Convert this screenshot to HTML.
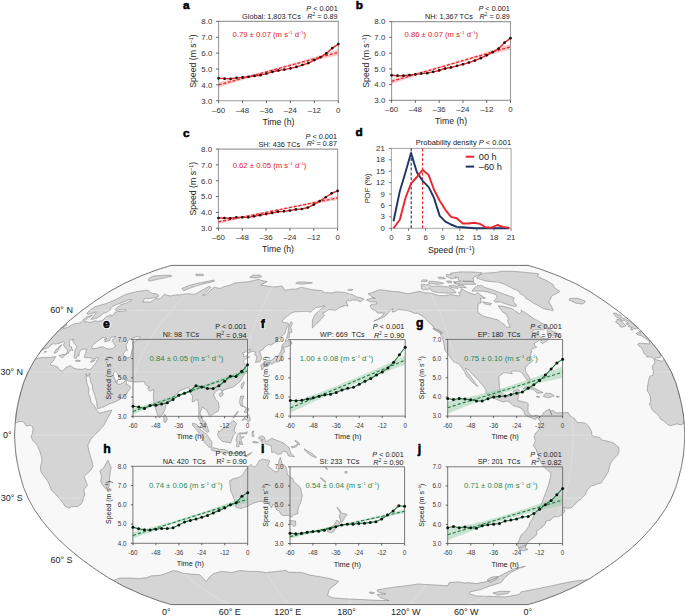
<!DOCTYPE html><html><head><meta charset="utf-8"><style>html,body{margin:0;padding:0;background:#fff}svg{display:block}</style></head><body><svg width="685" height="616" viewBox="0 0 685 616" font-family="'Liberation Sans', sans-serif">
<rect width="685" height="616" fill="#fff"/>
<defs><clipPath id="mc"><path d="M171.4,604.6 L170.0,604.2 L168.7,603.8 L167.3,603.4 L166.0,603.0 L164.7,602.6 L163.3,602.2 L162.0,601.8 L160.6,601.4 L159.3,601.0 L158.0,600.5 L156.3,599.9 L154.7,599.3 L153.0,598.7 L151.4,598.1 L149.7,597.4 L148.1,596.8 L146.4,596.2 L144.8,595.6 L143.1,594.9 L141.5,594.3 L139.8,593.5 L138.0,592.8 L136.3,592.0 L134.5,591.2 L132.8,590.4 L131.1,589.7 L129.3,588.9 L127.6,588.1 L125.8,587.3 L124.1,586.6 L122.6,585.7 L121.1,584.9 L119.5,584.0 L118.0,583.2 L116.5,582.3 L115.0,581.5 L113.5,580.6 L111.9,579.8 L110.4,578.9 L108.9,578.1 L107.5,577.2 L106.1,576.3 L104.8,575.4 L103.4,574.4 L102.0,573.5 L100.6,572.6 L99.3,571.7 L97.9,570.8 L96.5,569.9 L95.1,569.0 L93.8,568.1 L92.5,567.1 L91.2,566.2 L89.9,565.3 L88.6,564.3 L87.3,563.4 L86.0,562.4 L84.7,561.5 L83.4,560.5 L82.1,559.6 L80.9,558.6 L79.6,557.6 L78.4,556.7 L77.2,555.7 L76.0,554.7 L74.8,553.7 L73.6,552.7 L72.3,551.8 L71.1,550.8 L69.9,549.8 L68.8,548.8 L67.7,547.8 L66.6,546.8 L65.5,545.8 L64.4,544.8 L63.3,543.8 L62.2,542.8 L61.1,541.8 L60.0,540.8 L58.9,539.7 L57.9,538.7 L57.0,537.7 L56.0,536.7 L55.1,535.6 L54.1,534.6 L53.2,533.6 L52.2,532.6 L51.3,531.5 L50.3,530.5 L49.4,529.5 L48.5,528.4 L47.7,527.4 L46.8,526.4 L46.0,525.3 L45.1,524.3 L44.3,523.2 L43.4,522.2 L42.6,521.2 L41.7,520.1 L40.9,519.1 L40.2,518.0 L39.5,517.0 L38.8,515.9 L38.0,514.9 L37.3,513.8 L36.6,512.8 L35.9,511.8 L35.2,510.7 L34.5,509.7 L33.8,508.6 L33.2,507.6 L32.6,506.5 L32.1,505.5 L31.5,504.4 L30.9,503.3 L30.3,502.3 L29.7,501.2 L29.2,500.2 L28.6,499.1 L28.0,498.1 L27.6,497.0 L27.1,496.0 L26.7,494.9 L26.3,493.9 L25.8,492.8 L25.4,491.8 L25.0,490.7 L24.5,489.7 L24.1,488.6 L23.6,487.6 L23.3,486.5 L23.0,485.5 L22.7,484.4 L22.4,483.4 L22.1,482.3 L21.8,481.3 L21.5,480.2 L21.2,479.2 L20.9,478.1 L20.6,477.1 L20.3,476.0 L20.0,475.0 L19.8,473.9 L19.5,472.9 L19.3,471.8 L19.0,470.8 L18.7,469.7 L18.5,468.6 L18.2,467.6 L18.0,466.5 L17.8,465.5 L17.6,464.4 L17.4,463.4 L17.2,462.3 L17.0,461.3 L16.9,460.2 L16.7,459.2 L16.5,458.1 L16.3,457.1 L16.1,456.0 L16.0,455.0 L15.9,453.9 L15.8,452.9 L15.7,451.8 L15.6,450.8 L15.5,449.7 L15.4,448.7 L15.3,447.6 L15.2,446.6 L15.1,445.5 L15.0,444.5 L15.0,443.4 L14.9,442.4 L14.9,441.3 L14.8,440.3 L14.8,439.2 L14.7,438.2 L14.7,437.1 L14.6,436.1 L14.6,435.0 L14.6,433.9 L14.7,432.9 L14.7,431.8 L14.8,430.8 L14.8,429.7 L14.9,428.7 L14.9,427.6 L15.0,426.6 L15.0,425.5 L15.1,424.5 L15.2,423.4 L15.3,422.4 L15.4,421.3 L15.5,420.3 L15.6,419.2 L15.7,418.2 L15.8,417.1 L15.9,416.1 L16.0,415.0 L16.1,414.0 L16.3,412.9 L16.5,411.9 L16.7,410.8 L16.9,409.8 L17.0,408.7 L17.2,407.7 L17.4,406.6 L17.6,405.6 L17.8,404.5 L18.0,403.5 L18.2,402.4 L18.5,401.4 L18.7,400.3 L19.0,399.2 L19.3,398.2 L19.5,397.1 L19.8,396.1 L20.0,395.0 L20.3,394.0 L20.6,392.9 L20.9,391.9 L21.2,390.8 L21.5,389.8 L21.8,388.7 L22.1,387.7 L22.4,386.6 L22.7,385.6 L23.0,384.5 L23.3,383.5 L23.6,382.4 L24.1,381.4 L24.5,380.3 L25.0,379.3 L25.4,378.2 L25.8,377.2 L26.3,376.1 L26.7,375.1 L27.1,374.0 L27.6,373.0 L28.0,371.9 L28.6,370.9 L29.2,369.8 L29.7,368.8 L30.3,367.7 L30.9,366.7 L31.5,365.6 L32.1,364.5 L32.6,363.5 L33.2,362.4 L33.8,361.4 L34.5,360.3 L35.2,359.3 L35.9,358.2 L36.6,357.2 L37.3,356.2 L38.0,355.1 L38.8,354.1 L39.5,353.0 L40.2,352.0 L40.9,350.9 L41.7,349.9 L42.6,348.8 L43.4,347.8 L44.3,346.8 L45.1,345.7 L46.0,344.7 L46.8,343.6 L47.7,342.6 L48.5,341.6 L49.4,340.5 L50.3,339.5 L51.3,338.5 L52.2,337.4 L53.2,336.4 L54.1,335.4 L55.1,334.4 L56.0,333.3 L57.0,332.3 L57.9,331.3 L58.9,330.3 L60.0,329.2 L61.1,328.2 L62.2,327.2 L63.3,326.2 L64.4,325.2 L65.5,324.2 L66.6,323.2 L67.7,322.2 L68.8,321.2 L69.9,320.2 L71.1,319.2 L72.3,318.2 L73.6,317.3 L74.8,316.3 L76.0,315.3 L77.2,314.3 L78.4,313.3 L79.6,312.4 L80.9,311.4 L82.1,310.4 L83.4,309.5 L84.7,308.5 L86.0,307.6 L87.3,306.6 L88.6,305.7 L89.9,304.7 L91.2,303.8 L92.5,302.9 L93.8,301.9 L95.1,301.0 L96.5,300.1 L97.9,299.2 L99.3,298.3 L100.6,297.4 L102.0,296.5 L103.4,295.6 L104.8,294.6 L106.1,293.7 L107.5,292.8 L108.9,291.9 L110.4,291.1 L111.9,290.2 L113.5,289.4 L115.0,288.5 L116.5,287.7 L118.0,286.8 L119.5,286.0 L121.1,285.1 L122.6,284.3 L124.1,283.4 L125.8,282.7 L127.6,281.9 L129.3,281.1 L131.1,280.3 L132.8,279.6 L134.5,278.8 L136.3,278.0 L138.0,277.2 L139.8,276.5 L141.5,275.7 L143.1,275.1 L144.8,274.4 L146.4,273.8 L148.1,273.2 L149.7,272.6 L151.4,271.9 L153.0,271.3 L154.7,270.7 L156.3,270.1 L158.0,269.5 L159.3,269.0 L160.6,268.6 L162.0,268.2 L163.3,267.8 L164.7,267.4 L166.0,267.0 L167.3,266.6 L168.7,266.2 L170.0,265.8 L171.4,265.4 L528.0,265.4 L529.4,265.8 L530.7,266.2 L532.1,266.6 L533.4,267.0 L534.7,267.4 L536.1,267.8 L537.4,268.2 L538.8,268.6 L540.1,269.0 L541.4,269.5 L543.1,270.1 L544.7,270.7 L546.4,271.3 L548.0,271.9 L549.7,272.6 L551.3,273.2 L553.0,273.8 L554.6,274.4 L556.3,275.1 L557.9,275.7 L559.6,276.5 L561.4,277.2 L563.1,278.0 L564.9,278.8 L566.6,279.6 L568.3,280.3 L570.1,281.1 L571.8,281.9 L573.6,282.7 L575.3,283.4 L576.8,284.3 L578.3,285.1 L579.9,286.0 L581.4,286.8 L582.9,287.7 L584.4,288.5 L585.9,289.4 L587.5,290.2 L589.0,291.1 L590.5,291.9 L591.9,292.8 L593.3,293.7 L594.6,294.6 L596.0,295.6 L597.4,296.5 L598.8,297.4 L600.1,298.3 L601.5,299.2 L602.9,300.1 L604.3,301.0 L605.6,301.9 L606.9,302.9 L608.2,303.8 L609.5,304.7 L610.8,305.7 L612.1,306.6 L613.4,307.6 L614.7,308.5 L616.0,309.5 L617.3,310.4 L618.5,311.4 L619.8,312.4 L621.0,313.3 L622.2,314.3 L623.4,315.3 L624.6,316.3 L625.8,317.3 L627.1,318.2 L628.3,319.2 L629.5,320.2 L630.6,321.2 L631.7,322.2 L632.8,323.2 L633.9,324.2 L635.0,325.2 L636.1,326.2 L637.2,327.2 L638.3,328.2 L639.4,329.2 L640.5,330.3 L641.5,331.3 L642.4,332.3 L643.4,333.3 L644.3,334.4 L645.3,335.4 L646.2,336.4 L647.2,337.4 L648.1,338.5 L649.1,339.5 L650.0,340.5 L650.9,341.6 L651.7,342.6 L652.6,343.6 L653.4,344.7 L654.3,345.7 L655.1,346.8 L656.0,347.8 L656.8,348.8 L657.7,349.9 L658.5,350.9 L659.2,352.0 L659.9,353.0 L660.6,354.1 L661.4,355.1 L662.1,356.2 L662.8,357.2 L663.5,358.2 L664.2,359.3 L664.9,360.3 L665.6,361.4 L666.2,362.4 L666.8,363.5 L667.3,364.5 L667.9,365.6 L668.5,366.7 L669.1,367.7 L669.7,368.8 L670.2,369.8 L670.8,370.9 L671.4,371.9 L671.8,373.0 L672.3,374.0 L672.7,375.1 L673.1,376.1 L673.6,377.2 L674.0,378.2 L674.4,379.3 L674.9,380.3 L675.3,381.4 L675.8,382.4 L676.1,383.5 L676.4,384.5 L676.7,385.6 L677.0,386.6 L677.3,387.7 L677.6,388.7 L677.9,389.8 L678.2,390.8 L678.5,391.9 L678.8,392.9 L679.1,394.0 L679.4,395.0 L679.6,396.1 L679.9,397.1 L680.1,398.2 L680.4,399.2 L680.7,400.3 L680.9,401.4 L681.2,402.4 L681.4,403.5 L681.6,404.5 L681.8,405.6 L682.0,406.6 L682.2,407.7 L682.4,408.7 L682.5,409.8 L682.7,410.8 L682.9,411.9 L683.1,412.9 L683.3,414.0 L683.4,415.0 L683.5,416.1 L683.6,417.1 L683.7,418.2 L683.8,419.2 L683.9,420.3 L684.0,421.3 L684.1,422.4 L684.2,423.4 L684.3,424.5 L684.4,425.5 L684.4,426.6 L684.5,427.6 L684.5,428.7 L684.6,429.7 L684.6,430.8 L684.7,431.8 L684.7,432.9 L684.8,433.9 L684.8,435.0 L684.8,436.1 L684.7,437.1 L684.7,438.2 L684.6,439.2 L684.6,440.3 L684.5,441.3 L684.5,442.4 L684.4,443.4 L684.4,444.5 L684.3,445.5 L684.2,446.6 L684.1,447.6 L684.0,448.7 L683.9,449.7 L683.8,450.8 L683.7,451.8 L683.6,452.9 L683.5,453.9 L683.4,455.0 L683.3,456.0 L683.1,457.1 L682.9,458.1 L682.7,459.2 L682.5,460.2 L682.4,461.3 L682.2,462.3 L682.0,463.4 L681.8,464.4 L681.6,465.5 L681.4,466.5 L681.2,467.6 L680.9,468.6 L680.7,469.7 L680.4,470.8 L680.1,471.8 L679.9,472.9 L679.6,473.9 L679.4,475.0 L679.1,476.0 L678.8,477.1 L678.5,478.1 L678.2,479.2 L677.9,480.2 L677.6,481.3 L677.3,482.3 L677.0,483.4 L676.7,484.4 L676.4,485.5 L676.1,486.5 L675.8,487.6 L675.3,488.6 L674.9,489.7 L674.4,490.7 L674.0,491.8 L673.6,492.8 L673.1,493.9 L672.7,494.9 L672.3,496.0 L671.8,497.0 L671.4,498.1 L670.8,499.1 L670.2,500.2 L669.7,501.2 L669.1,502.3 L668.5,503.3 L667.9,504.4 L667.3,505.5 L666.8,506.5 L666.2,507.6 L665.6,508.6 L664.9,509.7 L664.2,510.7 L663.5,511.8 L662.8,512.8 L662.1,513.8 L661.4,514.9 L660.6,515.9 L659.9,517.0 L659.2,518.0 L658.5,519.1 L657.7,520.1 L656.8,521.2 L656.0,522.2 L655.1,523.2 L654.3,524.3 L653.4,525.3 L652.6,526.4 L651.7,527.4 L650.9,528.4 L650.0,529.5 L649.1,530.5 L648.1,531.5 L647.2,532.6 L646.2,533.6 L645.3,534.6 L644.3,535.6 L643.4,536.7 L642.4,537.7 L641.5,538.7 L640.5,539.7 L639.4,540.8 L638.3,541.8 L637.2,542.8 L636.1,543.8 L635.0,544.8 L633.9,545.8 L632.8,546.8 L631.7,547.8 L630.6,548.8 L629.5,549.8 L628.3,550.8 L627.1,551.8 L625.8,552.7 L624.6,553.7 L623.4,554.7 L622.2,555.7 L621.0,556.7 L619.8,557.6 L618.5,558.6 L617.3,559.6 L616.0,560.5 L614.7,561.5 L613.4,562.4 L612.1,563.4 L610.8,564.3 L609.5,565.3 L608.2,566.2 L606.9,567.1 L605.6,568.1 L604.3,569.0 L602.9,569.9 L601.5,570.8 L600.1,571.7 L598.8,572.6 L597.4,573.5 L596.0,574.4 L594.6,575.4 L593.3,576.3 L591.9,577.2 L590.5,578.1 L589.0,578.9 L587.5,579.8 L585.9,580.6 L584.4,581.5 L582.9,582.3 L581.4,583.2 L579.9,584.0 L578.3,584.9 L576.8,585.7 L575.3,586.6 L573.6,587.3 L571.8,588.1 L570.1,588.9 L568.3,589.7 L566.6,590.4 L564.9,591.2 L563.1,592.0 L561.4,592.8 L559.6,593.5 L557.9,594.3 L556.3,594.9 L554.6,595.6 L553.0,596.2 L551.3,596.8 L549.7,597.4 L548.0,598.1 L546.4,598.7 L544.7,599.3 L543.1,599.9 L541.4,600.5 L540.1,601.0 L538.8,601.4 L537.4,601.8 L536.1,602.2 L534.7,602.6 L533.4,603.0 L532.1,603.4 L530.7,603.8 L529.4,604.2 L528.0,604.6Z"/></clipPath></defs>
<path d="M171.4,604.6 L170.0,604.2 L168.7,603.8 L167.3,603.4 L166.0,603.0 L164.7,602.6 L163.3,602.2 L162.0,601.8 L160.6,601.4 L159.3,601.0 L158.0,600.5 L156.3,599.9 L154.7,599.3 L153.0,598.7 L151.4,598.1 L149.7,597.4 L148.1,596.8 L146.4,596.2 L144.8,595.6 L143.1,594.9 L141.5,594.3 L139.8,593.5 L138.0,592.8 L136.3,592.0 L134.5,591.2 L132.8,590.4 L131.1,589.7 L129.3,588.9 L127.6,588.1 L125.8,587.3 L124.1,586.6 L122.6,585.7 L121.1,584.9 L119.5,584.0 L118.0,583.2 L116.5,582.3 L115.0,581.5 L113.5,580.6 L111.9,579.8 L110.4,578.9 L108.9,578.1 L107.5,577.2 L106.1,576.3 L104.8,575.4 L103.4,574.4 L102.0,573.5 L100.6,572.6 L99.3,571.7 L97.9,570.8 L96.5,569.9 L95.1,569.0 L93.8,568.1 L92.5,567.1 L91.2,566.2 L89.9,565.3 L88.6,564.3 L87.3,563.4 L86.0,562.4 L84.7,561.5 L83.4,560.5 L82.1,559.6 L80.9,558.6 L79.6,557.6 L78.4,556.7 L77.2,555.7 L76.0,554.7 L74.8,553.7 L73.6,552.7 L72.3,551.8 L71.1,550.8 L69.9,549.8 L68.8,548.8 L67.7,547.8 L66.6,546.8 L65.5,545.8 L64.4,544.8 L63.3,543.8 L62.2,542.8 L61.1,541.8 L60.0,540.8 L58.9,539.7 L57.9,538.7 L57.0,537.7 L56.0,536.7 L55.1,535.6 L54.1,534.6 L53.2,533.6 L52.2,532.6 L51.3,531.5 L50.3,530.5 L49.4,529.5 L48.5,528.4 L47.7,527.4 L46.8,526.4 L46.0,525.3 L45.1,524.3 L44.3,523.2 L43.4,522.2 L42.6,521.2 L41.7,520.1 L40.9,519.1 L40.2,518.0 L39.5,517.0 L38.8,515.9 L38.0,514.9 L37.3,513.8 L36.6,512.8 L35.9,511.8 L35.2,510.7 L34.5,509.7 L33.8,508.6 L33.2,507.6 L32.6,506.5 L32.1,505.5 L31.5,504.4 L30.9,503.3 L30.3,502.3 L29.7,501.2 L29.2,500.2 L28.6,499.1 L28.0,498.1 L27.6,497.0 L27.1,496.0 L26.7,494.9 L26.3,493.9 L25.8,492.8 L25.4,491.8 L25.0,490.7 L24.5,489.7 L24.1,488.6 L23.6,487.6 L23.3,486.5 L23.0,485.5 L22.7,484.4 L22.4,483.4 L22.1,482.3 L21.8,481.3 L21.5,480.2 L21.2,479.2 L20.9,478.1 L20.6,477.1 L20.3,476.0 L20.0,475.0 L19.8,473.9 L19.5,472.9 L19.3,471.8 L19.0,470.8 L18.7,469.7 L18.5,468.6 L18.2,467.6 L18.0,466.5 L17.8,465.5 L17.6,464.4 L17.4,463.4 L17.2,462.3 L17.0,461.3 L16.9,460.2 L16.7,459.2 L16.5,458.1 L16.3,457.1 L16.1,456.0 L16.0,455.0 L15.9,453.9 L15.8,452.9 L15.7,451.8 L15.6,450.8 L15.5,449.7 L15.4,448.7 L15.3,447.6 L15.2,446.6 L15.1,445.5 L15.0,444.5 L15.0,443.4 L14.9,442.4 L14.9,441.3 L14.8,440.3 L14.8,439.2 L14.7,438.2 L14.7,437.1 L14.6,436.1 L14.6,435.0 L14.6,433.9 L14.7,432.9 L14.7,431.8 L14.8,430.8 L14.8,429.7 L14.9,428.7 L14.9,427.6 L15.0,426.6 L15.0,425.5 L15.1,424.5 L15.2,423.4 L15.3,422.4 L15.4,421.3 L15.5,420.3 L15.6,419.2 L15.7,418.2 L15.8,417.1 L15.9,416.1 L16.0,415.0 L16.1,414.0 L16.3,412.9 L16.5,411.9 L16.7,410.8 L16.9,409.8 L17.0,408.7 L17.2,407.7 L17.4,406.6 L17.6,405.6 L17.8,404.5 L18.0,403.5 L18.2,402.4 L18.5,401.4 L18.7,400.3 L19.0,399.2 L19.3,398.2 L19.5,397.1 L19.8,396.1 L20.0,395.0 L20.3,394.0 L20.6,392.9 L20.9,391.9 L21.2,390.8 L21.5,389.8 L21.8,388.7 L22.1,387.7 L22.4,386.6 L22.7,385.6 L23.0,384.5 L23.3,383.5 L23.6,382.4 L24.1,381.4 L24.5,380.3 L25.0,379.3 L25.4,378.2 L25.8,377.2 L26.3,376.1 L26.7,375.1 L27.1,374.0 L27.6,373.0 L28.0,371.9 L28.6,370.9 L29.2,369.8 L29.7,368.8 L30.3,367.7 L30.9,366.7 L31.5,365.6 L32.1,364.5 L32.6,363.5 L33.2,362.4 L33.8,361.4 L34.5,360.3 L35.2,359.3 L35.9,358.2 L36.6,357.2 L37.3,356.2 L38.0,355.1 L38.8,354.1 L39.5,353.0 L40.2,352.0 L40.9,350.9 L41.7,349.9 L42.6,348.8 L43.4,347.8 L44.3,346.8 L45.1,345.7 L46.0,344.7 L46.8,343.6 L47.7,342.6 L48.5,341.6 L49.4,340.5 L50.3,339.5 L51.3,338.5 L52.2,337.4 L53.2,336.4 L54.1,335.4 L55.1,334.4 L56.0,333.3 L57.0,332.3 L57.9,331.3 L58.9,330.3 L60.0,329.2 L61.1,328.2 L62.2,327.2 L63.3,326.2 L64.4,325.2 L65.5,324.2 L66.6,323.2 L67.7,322.2 L68.8,321.2 L69.9,320.2 L71.1,319.2 L72.3,318.2 L73.6,317.3 L74.8,316.3 L76.0,315.3 L77.2,314.3 L78.4,313.3 L79.6,312.4 L80.9,311.4 L82.1,310.4 L83.4,309.5 L84.7,308.5 L86.0,307.6 L87.3,306.6 L88.6,305.7 L89.9,304.7 L91.2,303.8 L92.5,302.9 L93.8,301.9 L95.1,301.0 L96.5,300.1 L97.9,299.2 L99.3,298.3 L100.6,297.4 L102.0,296.5 L103.4,295.6 L104.8,294.6 L106.1,293.7 L107.5,292.8 L108.9,291.9 L110.4,291.1 L111.9,290.2 L113.5,289.4 L115.0,288.5 L116.5,287.7 L118.0,286.8 L119.5,286.0 L121.1,285.1 L122.6,284.3 L124.1,283.4 L125.8,282.7 L127.6,281.9 L129.3,281.1 L131.1,280.3 L132.8,279.6 L134.5,278.8 L136.3,278.0 L138.0,277.2 L139.8,276.5 L141.5,275.7 L143.1,275.1 L144.8,274.4 L146.4,273.8 L148.1,273.2 L149.7,272.6 L151.4,271.9 L153.0,271.3 L154.7,270.7 L156.3,270.1 L158.0,269.5 L159.3,269.0 L160.6,268.6 L162.0,268.2 L163.3,267.8 L164.7,267.4 L166.0,267.0 L167.3,266.6 L168.7,266.2 L170.0,265.8 L171.4,265.4 L528.0,265.4 L529.4,265.8 L530.7,266.2 L532.1,266.6 L533.4,267.0 L534.7,267.4 L536.1,267.8 L537.4,268.2 L538.8,268.6 L540.1,269.0 L541.4,269.5 L543.1,270.1 L544.7,270.7 L546.4,271.3 L548.0,271.9 L549.7,272.6 L551.3,273.2 L553.0,273.8 L554.6,274.4 L556.3,275.1 L557.9,275.7 L559.6,276.5 L561.4,277.2 L563.1,278.0 L564.9,278.8 L566.6,279.6 L568.3,280.3 L570.1,281.1 L571.8,281.9 L573.6,282.7 L575.3,283.4 L576.8,284.3 L578.3,285.1 L579.9,286.0 L581.4,286.8 L582.9,287.7 L584.4,288.5 L585.9,289.4 L587.5,290.2 L589.0,291.1 L590.5,291.9 L591.9,292.8 L593.3,293.7 L594.6,294.6 L596.0,295.6 L597.4,296.5 L598.8,297.4 L600.1,298.3 L601.5,299.2 L602.9,300.1 L604.3,301.0 L605.6,301.9 L606.9,302.9 L608.2,303.8 L609.5,304.7 L610.8,305.7 L612.1,306.6 L613.4,307.6 L614.7,308.5 L616.0,309.5 L617.3,310.4 L618.5,311.4 L619.8,312.4 L621.0,313.3 L622.2,314.3 L623.4,315.3 L624.6,316.3 L625.8,317.3 L627.1,318.2 L628.3,319.2 L629.5,320.2 L630.6,321.2 L631.7,322.2 L632.8,323.2 L633.9,324.2 L635.0,325.2 L636.1,326.2 L637.2,327.2 L638.3,328.2 L639.4,329.2 L640.5,330.3 L641.5,331.3 L642.4,332.3 L643.4,333.3 L644.3,334.4 L645.3,335.4 L646.2,336.4 L647.2,337.4 L648.1,338.5 L649.1,339.5 L650.0,340.5 L650.9,341.6 L651.7,342.6 L652.6,343.6 L653.4,344.7 L654.3,345.7 L655.1,346.8 L656.0,347.8 L656.8,348.8 L657.7,349.9 L658.5,350.9 L659.2,352.0 L659.9,353.0 L660.6,354.1 L661.4,355.1 L662.1,356.2 L662.8,357.2 L663.5,358.2 L664.2,359.3 L664.9,360.3 L665.6,361.4 L666.2,362.4 L666.8,363.5 L667.3,364.5 L667.9,365.6 L668.5,366.7 L669.1,367.7 L669.7,368.8 L670.2,369.8 L670.8,370.9 L671.4,371.9 L671.8,373.0 L672.3,374.0 L672.7,375.1 L673.1,376.1 L673.6,377.2 L674.0,378.2 L674.4,379.3 L674.9,380.3 L675.3,381.4 L675.8,382.4 L676.1,383.5 L676.4,384.5 L676.7,385.6 L677.0,386.6 L677.3,387.7 L677.6,388.7 L677.9,389.8 L678.2,390.8 L678.5,391.9 L678.8,392.9 L679.1,394.0 L679.4,395.0 L679.6,396.1 L679.9,397.1 L680.1,398.2 L680.4,399.2 L680.7,400.3 L680.9,401.4 L681.2,402.4 L681.4,403.5 L681.6,404.5 L681.8,405.6 L682.0,406.6 L682.2,407.7 L682.4,408.7 L682.5,409.8 L682.7,410.8 L682.9,411.9 L683.1,412.9 L683.3,414.0 L683.4,415.0 L683.5,416.1 L683.6,417.1 L683.7,418.2 L683.8,419.2 L683.9,420.3 L684.0,421.3 L684.1,422.4 L684.2,423.4 L684.3,424.5 L684.4,425.5 L684.4,426.6 L684.5,427.6 L684.5,428.7 L684.6,429.7 L684.6,430.8 L684.7,431.8 L684.7,432.9 L684.8,433.9 L684.8,435.0 L684.8,436.1 L684.7,437.1 L684.7,438.2 L684.6,439.2 L684.6,440.3 L684.5,441.3 L684.5,442.4 L684.4,443.4 L684.4,444.5 L684.3,445.5 L684.2,446.6 L684.1,447.6 L684.0,448.7 L683.9,449.7 L683.8,450.8 L683.7,451.8 L683.6,452.9 L683.5,453.9 L683.4,455.0 L683.3,456.0 L683.1,457.1 L682.9,458.1 L682.7,459.2 L682.5,460.2 L682.4,461.3 L682.2,462.3 L682.0,463.4 L681.8,464.4 L681.6,465.5 L681.4,466.5 L681.2,467.6 L680.9,468.6 L680.7,469.7 L680.4,470.8 L680.1,471.8 L679.9,472.9 L679.6,473.9 L679.4,475.0 L679.1,476.0 L678.8,477.1 L678.5,478.1 L678.2,479.2 L677.9,480.2 L677.6,481.3 L677.3,482.3 L677.0,483.4 L676.7,484.4 L676.4,485.5 L676.1,486.5 L675.8,487.6 L675.3,488.6 L674.9,489.7 L674.4,490.7 L674.0,491.8 L673.6,492.8 L673.1,493.9 L672.7,494.9 L672.3,496.0 L671.8,497.0 L671.4,498.1 L670.8,499.1 L670.2,500.2 L669.7,501.2 L669.1,502.3 L668.5,503.3 L667.9,504.4 L667.3,505.5 L666.8,506.5 L666.2,507.6 L665.6,508.6 L664.9,509.7 L664.2,510.7 L663.5,511.8 L662.8,512.8 L662.1,513.8 L661.4,514.9 L660.6,515.9 L659.9,517.0 L659.2,518.0 L658.5,519.1 L657.7,520.1 L656.8,521.2 L656.0,522.2 L655.1,523.2 L654.3,524.3 L653.4,525.3 L652.6,526.4 L651.7,527.4 L650.9,528.4 L650.0,529.5 L649.1,530.5 L648.1,531.5 L647.2,532.6 L646.2,533.6 L645.3,534.6 L644.3,535.6 L643.4,536.7 L642.4,537.7 L641.5,538.7 L640.5,539.7 L639.4,540.8 L638.3,541.8 L637.2,542.8 L636.1,543.8 L635.0,544.8 L633.9,545.8 L632.8,546.8 L631.7,547.8 L630.6,548.8 L629.5,549.8 L628.3,550.8 L627.1,551.8 L625.8,552.7 L624.6,553.7 L623.4,554.7 L622.2,555.7 L621.0,556.7 L619.8,557.6 L618.5,558.6 L617.3,559.6 L616.0,560.5 L614.7,561.5 L613.4,562.4 L612.1,563.4 L610.8,564.3 L609.5,565.3 L608.2,566.2 L606.9,567.1 L605.6,568.1 L604.3,569.0 L602.9,569.9 L601.5,570.8 L600.1,571.7 L598.8,572.6 L597.4,573.5 L596.0,574.4 L594.6,575.4 L593.3,576.3 L591.9,577.2 L590.5,578.1 L589.0,578.9 L587.5,579.8 L585.9,580.6 L584.4,581.5 L582.9,582.3 L581.4,583.2 L579.9,584.0 L578.3,584.9 L576.8,585.7 L575.3,586.6 L573.6,587.3 L571.8,588.1 L570.1,588.9 L568.3,589.7 L566.6,590.4 L564.9,591.2 L563.1,592.0 L561.4,592.8 L559.6,593.5 L557.9,594.3 L556.3,594.9 L554.6,595.6 L553.0,596.2 L551.3,596.8 L549.7,597.4 L548.0,598.1 L546.4,598.7 L544.7,599.3 L543.1,599.9 L541.4,600.5 L540.1,601.0 L538.8,601.4 L537.4,601.8 L536.1,602.2 L534.7,602.6 L533.4,603.0 L532.1,603.4 L530.7,603.8 L529.4,604.2 L528.0,604.6Z" fill="#f8f8f8"/>
<g clip-path="url(#mc)"><path d="M109.5,478.1 L109.4,480.0 L109.4,481.8 L109.3,483.6 L109.2,485.5 L109.0,486.6 L108.8,487.8 L107.4,488.3 L105.9,488.8 L104.6,487.4 L103.3,485.9 L102.1,484.4 L101.4,482.8 L100.7,481.3 L101.0,479.7 L101.3,478.2 L101.7,476.6 L101.1,474.7 L100.4,472.7 L99.8,470.8 L101.1,469.9 L102.3,469.1 L103.6,468.2 L104.3,466.7 L105.1,465.1 L105.9,463.6 L106.9,461.9 L108.0,460.2 L108.8,462.1 L109.6,463.9 L110.4,465.8 L111.2,467.6 L110.9,469.2 L110.5,470.8 L110.2,472.6 L110.0,474.4 L109.7,476.3Z M236.5,452.5 L238.4,452.4 L240.2,452.4 L242.1,452.3 L244.0,452.2 L244.0,453.5 L242.1,453.5 L240.3,453.5 L238.4,453.5 L236.6,453.5 L234.7,453.5 L232.9,453.5 L231.0,453.5 L229.2,453.5 L229.1,452.2 L230.5,452.2 L231.9,452.2 L233.4,452.3 L235.0,452.4Z M228.1,451.2 L228.0,453.3 L226.4,453.0 L224.9,452.8 L223.3,452.5 L221.7,452.2 L219.8,452.0 L218.0,451.7 L216.1,451.4 L214.2,451.0 L212.3,450.6 L210.8,449.3 L212.0,448.5 L213.1,447.6 L215.0,448.1 L216.9,448.7 L218.8,449.1 L220.7,449.5 L222.0,449.5 L223.3,449.5 L224.6,449.5 L226.3,450.4Z M236.3,446.6 L236.7,444.5 L237.2,442.4 L235.9,440.7 L236.3,439.0 L236.7,437.3 L237.2,435.6 L237.6,433.9 L239.0,432.9 L240.5,432.9 L242.1,432.9 L243.6,432.9 L245.5,432.4 L247.4,431.8 L246.4,433.9 L244.8,433.9 L243.1,433.9 L241.5,433.9 L239.9,433.9 L240.3,435.5 L240.8,437.1 L242.5,437.0 L244.2,436.9 L242.5,437.8 L240.8,438.8 L241.5,440.7 L242.1,442.6 L242.8,444.5 L241.7,444.5 L240.6,444.5 L240.1,442.9 L239.6,441.3 L239.4,443.1 L239.1,445.0 L238.9,446.8 L237.6,446.7Z M207.3,435.0 L208.2,436.6 L209.2,438.2 L210.6,440.3 L212.1,442.4 L212.0,444.0 L211.9,445.6 L211.8,447.2 L210.6,447.3 L209.4,447.4 L208.0,446.1 L206.6,444.7 L205.2,443.4 L204.1,441.3 L202.9,439.2 L201.7,437.1 L200.5,435.2 L199.2,433.3 L198.0,431.4 L196.2,429.5 L194.4,427.5 L192.6,425.5 L192.4,424.4 L192.3,423.2 L193.6,423.5 L195.0,423.8 L196.3,424.1 L198.0,426.2 L199.7,428.3 L201.4,430.4 L202.9,431.5 L204.3,432.7 L205.8,433.8Z M219.4,438.2 L218.5,436.6 L217.5,435.0 L218.1,432.9 L218.7,430.8 L219.4,431.4 L220.9,430.3 L222.3,429.1 L223.8,427.9 L225.4,426.7 L227.0,425.5 L228.9,424.5 L230.8,422.4 L232.2,421.5 L233.6,420.7 L235.3,422.3 L236.9,423.9 L235.4,425.5 L234.9,427.3 L234.4,429.0 L234.0,430.8 L235.8,432.9 L234.6,433.9 L233.3,435.0 L232.8,436.8 L232.2,438.5 L231.6,440.3 L231.1,441.6 L230.7,443.0 L229.3,442.7 L227.9,442.4 L226.0,442.0 L224.1,441.7 L222.3,441.3 L220.9,439.7Z M163.9,422.2 L163.9,420.2 L163.8,418.2 L164.0,416.4 L164.2,414.6 L164.9,414.4 L165.8,416.0 L166.6,417.6 L167.4,419.2 L166.6,420.7 L165.8,422.2Z M233.7,418.2 L233.2,417.5 L234.3,415.9 L235.4,414.3 L236.6,412.7 L237.8,411.0 L238.3,412.1 L236.7,414.1 L235.2,416.1Z M245.7,408.1 L244.6,407.3 L243.6,406.6 L242.2,406.3 L240.8,406.0 L240.2,404.5 L239.7,402.9 L239.3,401.4 L239.7,399.6 L240.2,397.8 L240.6,396.1 L242.2,396.1 L243.8,396.1 L243.2,397.8 L242.6,399.6 L242.1,401.4 L242.3,403.5 L242.7,405.6 L244.5,406.6 L246.3,407.7Z M223.5,393.6 L222.4,395.7 L220.4,396.7 L219.0,394.6 L220.2,393.1 L221.2,392.9 L222.3,392.7Z M54.7,365.8 L55.7,366.2 L56.8,366.7 L57.8,367.1 L58.6,368.4 L59.4,369.8 L60.9,370.5 L62.3,371.3 L64.1,369.4 L65.9,367.5 L67.7,366.7 L69.4,365.8 L70.6,366.1 L71.7,366.4 L73.0,367.5 L74.3,368.5 L75.7,368.8 L77.0,369.0 L78.4,369.2 L79.8,369.2 L81.2,369.3 L82.6,369.4 L83.8,369.0 L84.9,368.5 L86.0,368.9 L87.0,369.2 L86.9,369.4 L88.2,369.5 L89.4,369.6 L91.1,368.8 L92.1,367.4 L93.2,366.0 L94.1,364.9 L95.1,363.7 L96.5,361.6 L97.6,359.5 L99.1,358.0 L97.9,357.8 L96.8,357.6 L95.0,358.7 L93.5,358.9 L92.1,359.1 L90.9,358.4 L89.6,357.6 L88.4,357.7 L87.1,357.8 L85.8,357.8 L85.0,357.5 L84.1,357.2 L84.6,355.7 L85.1,354.3 L86.1,352.2 L86.0,350.7 L86.6,349.2 L85.4,349.1 L84.2,349.0 L82.6,349.4 L81.1,349.7 L80.0,351.3 L79.1,353.0 L79.2,354.4 L79.2,355.7 L78.1,355.9 L76.9,356.2 L76.4,358.2 L75.0,358.5 L74.1,357.6 L74.3,355.5 L74.9,353.4 L74.8,351.5 L75.1,350.4 L75.5,349.2 L76.3,348.1 L77.0,347.0 L76.5,346.2 L75.9,345.5 L75.2,344.6 L74.4,343.6 L74.0,342.9 L73.5,342.2 L73.0,341.5 L72.6,340.7 L73.5,339.1 L72.0,339.5 L70.4,339.9 L69.1,341.6 L69.5,342.5 L69.9,343.4 L69.5,344.7 L69.2,345.9 L70.4,346.4 L71.6,347.0 L71.6,348.6 L72.1,349.1 L72.7,349.7 L72.8,350.7 L72.0,350.3 L71.2,349.9 L68.8,351.8 L68.9,353.0 L67.8,353.4 L65.5,354.7 L66.6,352.8 L67.6,350.9 L67.1,350.1 L66.5,349.2 L65.6,348.2 L64.7,347.2 L64.1,346.0 L63.5,344.9 L64.6,342.8 L63.9,342.3 L63.3,341.8 L61.4,342.5 L59.4,343.2 L57.5,343.6 L55.6,344.1 L54.6,344.1 L53.6,343.6 L51.0,344.7 L49.7,346.8 L47.0,348.0 L45.4,348.6 L43.8,349.2 L40.6,351.3 L42.2,349.2 L43.9,347.2 L45.6,345.1 L47.3,343.1 L48.9,341.1 L50.8,339.0 L52.6,337.0 L54.5,335.0 L56.4,333.0 L58.2,331.0 L58.6,330.9 L60.2,330.4 L61.9,329.9 L63.4,328.4 L65.3,328.0 L67.4,327.4 L70.0,326.2 L72.8,324.4 L74.3,323.9 L75.8,323.4 L77.4,323.4 L79.4,323.0 L81.4,322.4 L83.1,320.4 L83.6,319.2 L85.2,317.9 L86.7,316.7 L88.1,316.4 L89.5,316.1 L91.0,315.5 L92.6,314.9 L90.4,316.5 L88.3,318.0 L86.6,319.3 L84.9,320.6 L84.6,321.0 L84.8,322.2 L86.0,322.0 L87.2,321.8 L88.5,322.1 L89.7,322.4 L91.7,321.9 L93.7,321.3 L95.7,320.8 L96.7,321.1 L97.6,321.4 L98.7,321.3 L99.8,321.2 L101.3,320.7 L102.8,320.2 L104.0,318.8 L105.2,317.8 L106.4,316.7 L108.7,315.7 L110.9,314.8 L111.2,315.5 L111.4,316.3 L113.8,314.3 L114.5,312.8 L117.2,311.6 L118.6,311.5 L120.0,311.5 L121.3,311.4 L122.7,311.4 L124.7,310.9 L126.7,310.4 L126.1,309.9 L125.6,309.5 L124.1,309.6 L122.6,309.8 L121.2,309.9 L119.7,310.0 L118.4,310.2 L117.2,310.4 L115.9,310.6 L115.6,310.0 L115.2,309.5 L117.2,307.6 L119.1,306.2 L120.9,304.7 L122.9,304.1 L124.9,303.5 L126.8,302.9 L128.9,301.9 L131.0,301.0 L131.7,299.5 L130.4,299.6 L129.2,299.8 L128.0,299.9 L125.8,300.9 L123.7,301.9 L121.1,302.9 L118.5,303.8 L116.3,304.7 L114.0,305.7 L112.1,307.1 L110.2,308.5 L110.5,309.0 L110.8,309.5 L109.2,310.6 L107.6,311.8 L105.6,312.6 L103.6,313.3 L101.1,315.3 L99.3,316.6 L97.4,317.8 L95.5,318.4 L93.5,319.0 L92.2,319.2 L90.9,319.4 L91.8,318.3 L92.7,317.3 L93.9,315.8 L95.1,314.3 L96.2,312.6 L96.1,311.8 L93.4,312.8 L90.8,313.7 L89.3,314.0 L87.8,314.3 L86.8,313.9 L87.6,312.4 L89.2,310.9 L90.8,309.5 L93.1,308.1 L95.3,306.6 L97.4,306.1 L99.4,305.5 L101.5,304.9 L103.5,304.4 L105.6,303.8 L107.9,302.9 L110.2,301.9 L112.5,301.0 L116.3,299.2 L120.0,297.4 L123.3,295.7 L126.6,294.1 L128.4,293.7 L130.2,293.2 L132.1,292.8 L133.9,292.4 L135.7,291.9 L137.4,291.6 L139.2,291.3 L141.0,291.0 L142.8,290.7 L144.5,290.4 L146.3,290.1 L147.0,290.2 L147.7,290.4 L148.4,290.6 L149.0,291.1 L149.5,291.6 L150.1,292.1 L150.8,292.7 L151.5,293.2 L152.6,293.4 L153.7,293.6 L154.9,293.7 L156.0,293.9 L157.1,294.1 L157.8,294.7 L158.4,295.3 L159.1,295.9 L157.8,297.0 L156.1,297.3 L154.3,297.6 L152.6,297.9 L150.8,298.2 L149.1,298.5 L147.3,298.8 L146.2,298.5 L145.2,298.3 L144.3,299.5 L143.4,300.8 L142.7,302.1 L144.2,302.0 L145.7,301.9 L147.0,301.9 L148.2,301.9 L149.4,301.9 L150.7,301.9 L153.3,300.2 L155.9,298.6 L157.2,298.7 L158.5,298.7 L159.9,298.8 L161.3,297.4 L162.7,295.9 L164.2,294.5 L165.1,294.7 L166.1,294.9 L167.1,295.2 L168.1,295.4 L169.1,295.7 L170.0,295.9 L171.6,295.7 L173.1,295.4 L174.6,295.2 L176.1,294.9 L177.6,294.6 L177.7,295.2 L179.1,295.0 L180.6,294.8 L182.0,294.5 L183.5,294.3 L184.9,294.1 L186.1,293.9 L187.3,293.7 L188.6,293.8 L189.9,293.9 L191.1,294.0 L192.4,294.1 L193.7,294.2 L194.9,294.3 L196.1,293.7 L198.4,292.4 L200.8,291.1 L203.4,289.6 L206.0,288.0 L208.5,286.5 L209.3,286.7 L210.1,287.0 L211.0,287.2 L209.5,288.8 L208.0,290.4 L206.6,291.9 L204.6,293.7 L202.6,295.6 L204.4,295.1 L206.1,294.6 L207.7,293.1 L209.2,291.6 L210.9,290.1 L212.5,288.6 L214.2,287.2 L215.3,287.4 L216.3,287.6 L217.4,287.9 L218.2,288.1 L219.1,288.3 L220.0,288.5 L221.8,287.7 L223.6,286.8 L225.3,286.4 L227.0,286.0 L228.6,285.6 L230.3,285.1 L232.5,284.1 L234.8,283.1 L236.2,282.9 L237.7,282.8 L239.1,282.6 L240.6,282.4 L242.0,282.2 L243.3,282.1 L244.7,282.0 L246.0,282.0 L247.3,281.9 L248.8,281.6 L250.3,281.4 L251.8,281.1 L253.2,280.7 L254.6,280.4 L256.0,280.0 L257.4,279.6 L258.8,279.3 L259.5,279.6 L260.3,280.0 L261.0,280.3 L262.1,280.5 L263.1,280.8 L264.1,281.0 L265.2,281.2 L266.2,281.4 L267.3,281.6 L265.1,282.7 L262.9,283.9 L260.8,285.1 L261.8,285.3 L262.8,285.4 L263.9,285.5 L264.9,285.7 L266.0,285.8 L267.0,286.0 L268.1,286.2 L269.1,286.3 L270.2,286.5 L271.3,286.7 L272.6,286.7 L273.8,286.8 L275.1,286.8 L276.3,286.8 L277.7,286.6 L279.1,286.4 L280.5,286.2 L281.9,286.0 L282.8,286.8 L283.6,287.7 L284.2,289.1 L284.9,290.4 L286.4,290.1 L287.8,289.8 L289.3,289.5 L290.7,289.2 L292.0,289.2 L293.3,289.2 L294.6,289.2 L296.0,289.2 L297.5,288.6 L299.1,288.0 L300.6,287.4 L301.8,287.5 L303.1,287.7 L304.3,287.9 L305.5,288.0 L306.7,288.4 L307.9,288.7 L309.1,289.1 L310.3,289.4 L311.6,289.6 L312.9,289.7 L314.1,289.9 L315.4,290.1 L316.7,290.2 L318.0,290.3 L319.3,290.4 L320.6,290.5 L321.9,290.6 L323.0,291.6 L324.2,292.7 L325.5,292.7 L326.8,292.7 L328.2,292.8 L329.5,292.8 L330.9,292.8 L332.2,292.8 L333.6,292.5 L335.0,292.1 L336.3,291.8 L337.7,291.9 L339.0,292.1 L340.3,292.2 L341.7,292.2 L343.0,292.3 L344.3,292.3 L345.7,292.7 L347.0,293.1 L348.3,293.5 L349.7,293.9 L351.1,294.3 L352.4,294.6 L353.8,295.4 L355.2,296.2 L356.6,297.0 L358.0,297.2 L359.4,297.5 L360.8,297.7 L361.9,298.2 L363.0,298.7 L364.1,299.2 L363.2,299.6 L362.4,300.1 L361.4,301.1 L360.4,302.1 L359.2,301.4 L357.9,300.7 L356.7,300.1 L355.3,300.1 L353.9,300.1 L352.5,300.1 L351.1,300.5 L349.7,301.0 L348.3,300.4 L347.2,301.0 L346.2,301.5 L346.8,303.0 L347.5,304.6 L348.2,306.1 L347.0,305.9 L345.8,305.8 L344.6,305.7 L343.3,306.2 L342.0,306.6 L340.7,307.1 L339.4,307.6 L338.1,308.5 L336.7,309.5 L335.3,310.4 L333.8,310.2 L332.3,310.0 L330.9,309.8 L329.4,309.7 L328.2,310.2 L327.1,310.8 L325.6,311.7 L324.1,312.5 L322.6,313.3 L323.5,314.1 L324.4,314.9 L323.2,316.6 L322.0,318.2 L320.2,320.2 L318.4,322.2 L317.1,323.3 L315.9,324.4 L314.1,326.3 L312.3,328.2 L312.3,326.2 L312.4,324.2 L312.4,322.2 L312.4,320.2 L313.2,318.4 L314.0,316.5 L314.8,314.7 L316.6,313.1 L318.3,311.5 L320.1,309.8 L321.7,308.5 L323.4,307.1 L325.0,305.7 L323.7,306.0 L322.4,306.3 L321.1,306.7 L319.8,307.0 L318.4,307.2 L317.1,307.4 L315.7,307.6 L314.1,309.0 L312.5,310.4 L310.8,312.0 L309.6,311.8 L308.4,311.6 L307.3,311.4 L306.1,311.2 L304.7,311.3 L303.3,311.4 L301.8,311.5 L300.4,311.6 L299.0,311.6 L297.6,311.7 L296.2,311.7 L294.8,311.8 L293.5,312.3 L292.2,312.8 L290.9,313.3 L289.3,314.6 L287.7,315.8 L286.1,317.1 L284.0,319.0 L281.9,321.0 L283.1,322.2 L284.4,322.5 L285.7,322.7 L287.0,323.0 L288.4,323.2 L288.4,324.5 L288.4,325.8 L287.4,327.0 L286.4,328.2 L285.9,329.9 L285.5,331.6 L285.1,333.3 L283.5,334.7 L281.9,336.1 L280.3,337.4 L278.5,339.1 L276.8,340.9 L275.0,342.6 L273.6,343.4 L272.1,344.3 L270.6,345.1 L269.6,344.8 L268.6,344.5 L267.4,345.3 L266.2,346.1 L264.4,347.2 L263.4,349.2 L261.5,350.3 L259.5,351.3 L260.2,353.0 L260.8,354.7 L261.2,356.5 L261.7,358.2 L261.0,359.7 L260.4,361.2 L259.4,361.8 L258.0,362.0 L256.7,362.2 L255.3,362.4 L255.8,361.4 L256.2,359.7 L256.6,358.0 L257.0,356.4 L255.9,355.7 L254.8,355.1 L255.0,353.4 L255.2,351.8 L254.1,351.1 L252.3,351.5 L250.5,352.0 L249.4,352.7 L248.3,353.4 L249.4,351.3 L250.6,349.2 L249.5,349.6 L248.4,349.9 L246.5,351.1 L244.7,352.4 L243.5,352.7 L242.3,353.0 L243.5,354.1 L243.6,355.4 L243.7,356.8 L245.4,356.2 L247.1,355.5 L248.4,356.4 L249.7,357.2 L248.3,357.8 L247.0,358.5 L245.6,359.1 L244.3,360.2 L243.0,361.4 L243.8,362.1 L244.7,362.9 L244.9,364.7 L245.1,366.4 L245.6,368.1 L246.1,369.8 L245.9,371.0 L245.8,372.1 L244.5,374.2 L243.1,376.3 L242.2,378.0 L241.2,379.7 L240.3,381.4 L238.7,382.5 L237.3,383.7 L235.8,385.2 L234.2,386.6 L232.8,387.1 L231.3,387.6 L229.9,388.1 L228.8,388.3 L227.3,388.7 L225.8,389.2 L224.4,389.8 L223.1,390.4 L222.1,392.3 L221.8,391.0 L221.5,389.8 L220.0,389.8 L218.4,389.8 L217.1,390.5 L215.9,391.3 L214.7,393.1 L213.6,395.0 L214.6,397.1 L215.6,399.2 L217.1,400.8 L218.6,402.4 L218.7,404.0 L218.9,405.6 L219.1,407.2 L218.6,409.2 L218.1,411.2 L216.8,411.9 L215.5,412.5 L214.1,413.1 L212.2,415.0 L210.2,416.9 L209.1,414.9 L208.0,412.9 L207.2,411.3 L206.4,409.8 L205.1,409.0 L203.7,408.3 L202.9,406.6 L201.7,408.5 L201.1,410.1 L200.6,411.7 L200.0,413.3 L200.9,415.3 L201.9,417.3 L202.4,418.9 L203.0,420.5 L204.2,421.2 L205.4,422.0 L206.0,423.5 L206.6,425.0 L207.3,426.6 L207.8,428.3 L208.3,430.1 L208.8,431.8 L207.3,432.3 L206.0,431.2 L204.6,430.2 L203.3,429.1 L202.7,427.3 L202.1,425.5 L201.6,423.6 L200.4,421.7 L199.3,419.7 L198.1,417.8 L198.5,415.9 L198.9,414.0 L198.8,412.1 L198.8,410.3 L198.7,408.4 L198.7,406.6 L198.5,404.5 L198.3,402.4 L198.2,400.3 L197.0,400.0 L195.9,399.7 L194.2,401.8 L193.2,401.6 L192.2,401.4 L192.3,399.6 L192.5,397.8 L192.6,396.1 L191.6,394.7 L190.6,393.4 L189.6,391.3 L189.3,389.7 L189.1,388.1 L187.8,387.5 L186.4,388.1 L185.0,388.7 L183.7,389.2 L182.3,389.6 L181.0,390.2 L179.6,390.8 L178.5,392.1 L177.4,393.4 L175.7,394.8 L174.0,396.3 L172.2,397.8 L170.1,399.9 L168.7,400.7 L167.3,401.6 L165.9,402.4 L165.8,404.1 L165.7,405.8 L165.6,407.5 L165.1,408.6 L164.6,409.8 L163.9,411.6 L163.2,413.3 L162.0,414.8 L160.9,416.3 L159.5,418.0 L158.4,416.0 L157.3,414.0 L156.7,411.9 L156.0,409.9 L155.4,407.9 L154.9,406.2 L154.5,404.6 L154.1,403.0 L153.7,401.4 L153.6,399.2 L153.5,397.1 L153.4,395.0 L153.5,393.1 L153.7,391.3 L153.9,389.4 L152.6,390.0 L151.2,390.6 L149.8,391.3 L148.7,389.7 L147.6,388.1 L149.6,387.1 L148.4,386.4 L147.1,385.8 L145.5,384.5 L144.9,383.1 L144.3,381.6 L142.8,381.7 L141.3,381.7 L139.7,381.8 L138.3,381.9 L136.8,381.9 L135.3,382.0 L134.1,381.9 L132.9,381.7 L131.7,381.6 L130.4,381.4 L129.1,381.2 L127.9,381.0 L127.4,379.4 L126.9,377.8 L125.4,378.2 L123.9,378.6 L122.4,379.1 L121.2,378.2 L119.9,377.4 L118.7,376.5 L118.1,375.0 L117.5,373.4 L116.4,372.3 L115.5,371.3 L113.5,373.0 L113.5,374.5 L113.6,376.1 L114.4,377.9 L115.2,379.7 L115.4,381.3 L115.6,382.8 L116.3,381.5 L117.1,380.1 L117.7,380.5 L117.2,382.2 L116.8,383.9 L118.5,384.1 L120.2,384.3 L122.0,383.2 L123.9,382.0 L125.3,380.8 L126.6,379.7 L126.5,381.3 L126.4,382.9 L126.5,384.5 L127.8,384.9 L129.2,385.4 L130.1,386.5 L130.9,387.7 L129.3,389.8 L127.7,391.9 L126.8,393.5 L125.9,395.0 L124.5,396.1 L123.2,397.1 L121.6,398.2 L120.0,399.2 L118.2,400.2 L116.3,401.2 L114.4,402.2 L112.8,402.8 L111.2,403.3 L109.7,403.9 L108.1,404.5 L106.2,405.6 L104.2,406.6 L102.8,407.1 L101.5,407.6 L100.1,408.1 L98.8,408.3 L97.5,408.5 L97.2,407.0 L96.9,405.6 L96.8,403.8 L96.7,402.0 L96.3,400.6 L95.8,399.2 L95.3,397.5 L94.9,395.7 L94.4,394.0 L93.6,391.9 L92.8,389.8 L92.6,388.0 L92.4,386.3 L92.2,384.5 L91.4,383.5 L90.7,382.4 L90.4,380.8 L90.2,379.2 L89.9,377.6 L88.8,376.1 L89.5,374.5 L90.2,373.0 L88.8,374.4 L87.6,376.5 L86.3,374.9 L86.2,373.8 L86.2,375.6 L86.3,377.4 L86.3,379.3 L86.6,381.1 L86.9,382.9 L87.4,384.7 L88.2,386.7 L89.0,388.7 L88.8,390.4 L88.6,392.1 L88.4,393.8 L89.3,395.5 L90.1,397.1 L90.4,398.8 L90.7,400.5 L91.0,402.2 L92.2,403.3 L93.4,404.5 L94.7,406.5 L96.0,408.5 L96.5,409.7 L97.0,410.8 L98.3,412.0 L99.6,413.1 L101.6,412.7 L103.5,412.2 L105.4,411.7 L107.3,411.2 L108.7,410.9 L110.2,410.5 L111.7,410.2 L111.2,411.6 L110.8,412.9 L109.7,414.7 L108.6,416.4 L107.6,418.2 L106.5,420.3 L105.4,422.4 L104.3,424.5 L102.6,426.6 L100.8,428.7 L99.1,430.8 L97.3,432.5 L95.5,434.2 L93.7,435.8 L92.3,437.5 L90.9,439.2 L89.8,441.3 L88.8,443.4 L87.9,444.9 L88.1,446.4 L88.3,447.8 L88.4,449.3 L88.9,451.1 L89.5,452.9 L90.0,454.8 L90.5,456.6 L91.1,458.4 L91.8,460.2 L92.2,462.3 L92.6,464.4 L93.0,466.5 L91.8,468.4 L90.6,470.3 L89.3,471.5 L88.0,472.7 L86.7,473.9 L85.4,475.3 L84.1,476.6 L84.8,478.2 L85.4,479.7 L86.1,481.3 L86.8,483.4 L87.5,485.5 L86.2,486.9 L85.0,488.3 L84.0,489.7 L84.2,491.4 L84.5,493.2 L84.8,494.9 L84.1,496.4 L83.3,497.9 L83.1,499.4 L82.9,500.8 L82.2,502.0 L81.5,503.2 L80.8,504.4 L79.8,505.1 L78.8,505.8 L77.7,506.5 L76.2,506.6 L74.6,506.6 L73.1,506.7 L71.5,506.7 L70.1,507.4 L68.7,508.2 L66.9,507.3 L65.1,506.5 L64.2,504.9 L63.3,503.3 L61.6,501.2 L59.8,499.1 L58.0,497.1 L56.4,495.1 L54.2,493.0 L52.1,490.9 L51.1,489.0 L50.2,487.1 L49.5,485.1 L48.7,483.2 L47.9,481.7 L47.0,480.2 L45.6,478.5 L44.3,476.7 L42.9,475.0 L41.9,473.2 L40.8,471.4 L40.7,469.9 L40.6,468.4 L40.5,467.0 L40.9,465.1 L41.4,463.3 L41.8,461.5 L41.8,459.5 L41.8,457.5 L41.0,455.5 L40.4,453.5 L40.0,452.1 L39.7,450.8 L38.9,449.2 L38.1,447.6 L37.6,446.4 L37.2,445.1 L35.4,443.2 L34.0,441.7 L32.5,440.3 L31.8,438.4 L31.0,436.5 L31.9,434.4 L32.6,432.9 L32.8,431.0 L33.1,429.1 L32.9,428.0 L32.6,426.8 L30.8,425.3 L29.4,425.5 L28.0,425.7 L26.3,426.0 L25.3,424.5 L24.5,423.2 L23.7,422.0 L22.7,421.8 L21.7,421.5 L20.0,421.5 L18.9,421.9 L17.7,422.2 L16.5,422.7 L15.2,423.2 L15.4,421.2 L15.6,419.1 L15.8,417.0 L16.0,415.0 L16.3,412.9 L16.7,410.8 L17.0,408.8 L17.4,406.7 L17.7,404.7 L18.2,402.6 L18.7,400.5 L19.2,398.5 L19.7,396.4 L20.2,394.4 L20.8,392.3 L21.4,390.2 L22.0,388.2 L22.6,386.1 L23.2,384.0 L23.8,382.0 L24.7,379.9 L25.5,377.9 L26.4,375.8 L27.3,373.7 L28.1,371.7 L29.3,369.6 L30.4,367.5 L31.5,365.5 L32.7,363.4 L33.8,361.4 L35.2,359.3 L37.7,358.2 L39.6,357.9 L41.6,357.6 L43.3,357.6 L45.1,357.6 L46.8,357.6 L48.6,357.5 L50.4,357.4 L52.2,357.0 L54.1,356.6 L54.6,356.8 L56.1,357.0 L54.3,358.5 L53.8,359.7 L53.4,361.0 L51.8,362.4 L50.2,363.9 L51.3,365.2 L52.5,365.4 L53.6,365.6Z M114.0,343.8 L113.4,342.6 L112.7,341.3 L112.2,340.1 L114.1,338.2 L115.9,336.2 L114.3,336.6 L112.6,337.0 L110.9,337.4 L110.2,339.0 L109.4,340.5 L107.9,341.0 L106.3,341.6 L104.6,341.6 L105.6,340.1 L104.2,339.7 L105.6,339.1 L107.0,338.5 L105.6,338.1 L104.3,337.8 L103.0,337.4 L100.2,339.5 L99.3,340.1 L97.4,341.3 L95.7,342.6 L93.5,344.3 L92.6,345.5 L91.6,346.8 L91.9,347.7 L92.2,348.6 L93.9,348.6 L95.6,348.6 L97.9,347.8 L100.1,347.0 L101.9,346.9 L103.7,346.8 L104.5,347.5 L105.3,348.2 L106.7,348.6 L108.1,349.0 L109.9,348.9 L111.7,348.8 L112.9,348.3 L114.2,347.8 L115.3,345.7 L114.7,344.8Z M123.2,354.1 L123.6,355.2 L124.0,356.4 L124.9,357.1 L125.9,357.8 L127.4,357.7 L128.8,357.6 L130.3,357.4 L130.8,356.4 L131.1,354.5 L131.5,352.7 L131.8,350.9 L132.6,349.0 L133.5,347.2 L133.1,345.7 L132.8,344.3 L132.8,342.8 L132.8,341.3 L134.4,341.6 L136.1,340.7 L137.9,339.9 L139.0,338.4 L140.2,336.8 L139.5,336.5 L138.8,336.2 L137.0,336.7 L135.2,337.2 L133.4,337.6 L131.4,338.6 L129.3,339.5 L127.2,340.9 L128.0,341.6 L127.1,343.1 L126.1,344.7 L126.3,345.7 L126.4,347.1 L126.4,348.4 L127.0,349.2 L127.7,350.1 L125.7,350.5 L124.4,352.3Z M240.8,386.6 L241.3,385.1 L241.8,383.5 L243.8,381.8 L244.4,383.5 L243.5,385.3 L242.7,387.1 L241.8,388.9 L241.3,387.8Z M92.0,360.6 L93.7,360.2 L95.3,359.9 L93.5,361.4 L91.3,362.2 L90.3,361.8Z M77.5,360.1 L78.9,360.5 L80.3,360.8 L79.4,361.4 L78.2,361.3 L76.9,361.2 L75.4,360.8Z M62.5,357.8 L61.5,357.2 L60.4,356.6 L59.3,355.9 L59.2,355.5 L60.5,355.1 L61.7,354.7 L62.9,354.6 L64.2,354.5 L65.4,354.5 L64.0,356.2Z M38.8,354.0 L39.6,352.8 L39.5,353.4Z M46.1,351.1 L46.5,351.5 L45.2,352.4 L44.5,352.2 L44.3,351.8Z M56.1,352.8 L54.1,353.2 L55.0,351.3 L55.8,350.1 L56.6,348.8 L57.8,348.7 L59.1,348.6 L58.4,349.8 L57.7,350.9Z M58.9,346.8 L61.8,344.7 L60.4,346.8 L58.9,348.0 L58.6,347.6Z M67.1,322.7 L67.0,323.0 L66.0,324.2 L66.6,324.6 L67.3,325.0 L64.3,326.6 L64.0,327.6 L62.5,328.0 L61.0,328.3 L63.0,326.5 L65.1,324.6Z M214.2,281.4 L212.8,281.7 L211.3,282.0 L209.8,282.4 L208.4,282.7 L206.9,283.0 L205.1,283.4 L203.4,283.9 L201.7,284.4 L199.9,284.8 L198.2,285.3 L196.0,286.1 L193.8,286.8 L191.6,287.6 L189.4,288.4 L187.5,289.2 L185.5,290.0 L183.6,290.8 L183.1,290.2 L182.7,289.6 L182.3,289.0 L182.0,288.4 L184.5,287.4 L187.0,286.3 L189.4,285.3 L191.2,284.9 L193.0,284.4 L194.7,284.0 L196.5,283.5 L198.3,283.1 L200.0,282.8 L201.8,282.5 L203.5,282.1 L205.3,281.8 L207.0,281.4 L208.4,281.1 L209.9,280.9 L211.3,280.6 L212.8,280.3 L214.2,280.0 L214.2,280.7Z M148.1,280.3 L148.5,279.6 L148.9,278.8 L149.3,278.0 L151.4,277.0 L153.6,276.0 L155.0,275.9 L156.4,275.8 L157.7,275.7 L159.1,275.6 L160.5,275.5 L161.8,275.4 L163.2,275.3 L164.4,275.3 L165.5,275.3 L166.7,275.3 L167.8,275.3 L169.0,275.3 L170.1,275.3 L171.3,275.3 L171.3,275.8 L171.3,276.5 L169.3,276.8 L167.4,277.2 L165.5,277.6 L163.6,278.0 L161.6,278.4 L159.6,278.8 L157.3,279.4 L154.9,279.9 L152.5,280.5 L150.1,281.1 L149.4,280.9 L148.8,280.6Z M249.7,277.2 L251.6,276.1 L253.3,275.1 L254.5,275.1 L255.6,275.1 L256.8,275.1 L257.9,275.1 L259.0,275.1 L260.2,275.1 L260.7,275.6 L261.3,276.2 L261.8,276.9 L260.4,277.1 L259.0,277.4 L257.6,277.6 L256.2,277.8 L254.8,278.0 L253.8,277.9 L252.8,277.7 L251.8,277.5 L250.8,277.4Z M195.8,274.2 L196.9,274.2 L197.9,274.2 L199.0,274.2 L200.0,274.2 L201.1,274.2 L202.2,274.2 L203.2,274.2 L203.3,274.6 L203.3,275.1 L203.4,275.6 L202.3,275.6 L201.3,275.6 L200.3,275.6 L199.2,275.6 L198.2,275.6 L197.1,275.6 L196.1,275.6 L196.0,275.1 L195.9,274.6Z M334.3,531.3 L332.9,532.0 L331.5,532.8 L330.1,532.4 L328.7,531.9 L327.3,531.5 L328.0,529.5 L329.2,528.4 L330.4,527.4 L332.0,526.4 L333.7,525.3 L334.5,524.1 L335.3,522.8 L336.1,521.5 L337.0,520.1 L338.3,521.0 L339.5,521.8 L339.8,522.8 L338.9,524.6 L337.9,526.4 L336.5,527.4 L335.1,528.4 L334.7,529.9Z M295.6,521.0 L295.6,522.4 L295.7,523.9 L295.7,525.3 L294.8,525.9 L293.9,526.6 L292.3,525.1 L290.7,523.7 L290.0,522.1 L289.2,520.5 L290.8,520.6 L292.4,520.8 L294.0,520.9Z M342.9,521.2 L341.9,521.6 L340.8,522.0 L340.5,520.0 L340.2,518.0 L339.0,517.4 L339.4,515.9 L339.9,514.3 L340.3,512.8 L339.2,511.0 L338.0,509.2 L336.9,507.3 L338.5,508.8 L340.1,510.3 L341.0,511.8 L341.9,513.2 L343.6,513.6 L345.4,513.9 L347.1,514.3 L345.8,515.9 L344.5,517.6 L343.7,519.4Z M267.7,466.1 L269.1,467.2 L270.5,468.2 L272.0,469.3 L273.5,470.5 L275.0,471.6 L276.4,471.7 L277.7,471.8 L278.1,470.1 L278.4,468.3 L278.7,466.5 L278.7,464.8 L278.7,463.0 L278.7,461.3 L279.5,459.4 L280.3,457.5 L280.8,459.2 L281.3,461.0 L281.8,462.7 L282.4,464.4 L284.1,465.5 L285.7,466.5 L286.3,468.4 L286.8,470.3 L287.0,471.8 L287.2,473.3 L287.4,474.7 L289.0,475.9 L290.6,477.0 L292.2,478.1 L293.2,480.0 L294.2,481.9 L295.6,483.2 L297.0,484.4 L298.9,486.2 L300.8,488.0 L301.0,489.9 L301.2,491.8 L301.8,493.5 L302.3,495.1 L302.0,496.9 L301.6,498.7 L301.2,500.5 L300.9,502.3 L299.9,504.3 L299.0,506.3 L298.4,507.6 L298.1,509.7 L297.9,511.8 L297.6,513.8 L295.9,514.2 L294.2,514.5 L292.9,515.8 L291.6,517.2 L290.0,516.3 L288.3,515.3 L286.9,515.5 L285.4,515.6 L284.0,515.7 L282.7,515.2 L281.3,514.7 L280.1,512.7 L278.9,510.7 L277.7,510.3 L276.4,509.9 L276.8,508.4 L275.0,507.6 L275.0,506.0 L275.1,504.4 L274.0,504.5 L272.8,504.6 L272.2,506.4 L271.5,508.2 L270.2,506.3 L268.9,504.4 L267.6,502.5 L265.9,502.1 L264.3,501.7 L262.6,501.2 L260.8,501.4 L259.1,501.5 L257.4,501.9 L255.7,502.4 L254.0,502.9 L252.3,503.7 L250.7,504.4 L249.6,505.0 L248.4,505.7 L247.3,506.3 L245.7,506.9 L244.1,507.4 L242.5,508.0 L240.9,508.6 L239.0,508.0 L237.2,507.5 L235.3,506.9 L236.0,505.2 L235.4,503.4 L234.8,501.5 L234.2,499.7 L233.6,497.8 L233.0,496.0 L232.2,494.2 L231.4,492.5 L230.6,490.7 L230.4,488.8 L230.1,486.8 L230.0,484.8 L229.8,482.8 L229.6,480.8 L231.0,480.1 L232.4,479.3 L233.7,478.5 L235.1,478.3 L236.5,478.0 L237.9,477.7 L239.1,477.1 L240.4,476.6 L241.7,476.0 L242.7,474.4 L243.7,472.9 L244.7,471.3 L245.8,469.7 L247.1,468.1 L248.3,466.5 L249.7,465.5 L251.0,464.4 L252.4,465.7 L253.9,467.0 L255.2,466.2 L256.6,465.5 L257.3,464.0 L258.0,462.5 L258.8,461.1 L259.1,460.7 L260.9,459.9 L262.7,459.2 L264.6,459.5 L266.5,459.9 L268.3,460.2 L269.8,460.9 L269.1,462.6 L268.4,464.4Z M323.2,479.2 L324.6,480.5 L326.0,481.9 L325.1,482.3 L323.7,481.1 L322.3,479.9 L320.9,478.7 L320.5,477.5 L321.8,478.3Z M344.7,471.8 L345.9,471.6 L347.1,471.4 L346.9,473.3 L345.1,472.9Z M326.7,469.3 L325.8,467.9 L324.8,466.5 L326.3,467.6 L327.6,469.7Z M245.0,456.7 L246.4,455.5 L247.7,454.3 L249.1,453.8 L250.4,453.2 L251.8,452.7 L250.5,453.9 L248.7,455.2 L246.9,456.5Z M307.0,450.8 L308.9,451.8 L310.7,452.9 L312.6,453.9 L314.5,455.5 L316.4,457.1 L315.4,457.7 L313.9,456.9 L312.3,456.2 L310.8,455.4 L308.9,453.9 L307.0,452.3 L305.2,450.8 L304.2,448.7 L305.6,449.7Z M277.4,454.3 L275.5,453.1 L273.6,451.8 L271.8,452.7 L271.6,450.9 L271.4,449.1 L271.2,447.3 L271.1,445.5 L269.4,445.0 L267.7,444.5 L266.0,444.0 L264.6,443.7 L263.2,443.4 L261.8,442.2 L260.4,440.9 L261.8,440.4 L263.2,439.8 L261.8,439.5 L260.4,439.2 L258.5,438.2 L258.5,437.5 L259.9,436.7 L261.3,435.8 L262.7,436.4 L264.1,436.9 L264.7,438.6 L265.4,440.3 L266.0,441.9 L267.8,440.7 L269.7,439.6 L271.5,438.4 L273.4,439.1 L275.3,439.8 L277.1,440.5 L278.8,441.1 L280.4,441.7 L282.0,442.4 L283.7,443.0 L285.1,444.3 L286.5,445.5 L287.9,446.6 L289.3,447.6 L289.6,449.2 L289.9,450.8 L290.6,452.4 L291.3,453.9 L292.9,455.3 L294.5,456.7 L293.0,456.5 L291.5,456.3 L290.0,456.2 L288.5,456.0 L287.6,453.9 L286.6,451.8 L284.8,451.5 L282.9,451.2 L282.0,452.6 L281.1,453.9 L279.2,454.1Z M294.9,445.9 L296.2,444.9 L297.6,443.8 L297.2,445.2 L296.7,446.6 L295.2,447.1 L293.7,447.5 L292.1,448.0 L291.2,446.6 L293.0,446.3Z M295.4,440.3 L297.0,441.3 L298.6,442.4 L299.2,443.7 L299.9,445.1 L299.1,444.7 L297.7,443.4 L296.3,442.2 L294.8,440.9Z M253.0,442.6 L253.0,441.3 L254.7,441.6 L256.5,441.9 L258.2,442.2 L257.6,443.0 L256.1,442.9 L254.5,442.7Z M253.9,430.8 L253.4,432.4 L252.9,433.9 L254.4,436.1 L253.5,436.4 L252.5,436.7 L252.3,435.1 L252.2,433.5 L252.0,431.8Z M250.4,419.9 L249.4,421.1 L248.4,422.4 L247.1,420.8 L245.8,419.2 L243.9,419.8 L242.0,420.3 L243.5,418.6 L244.9,416.9 L246.8,415.7 L248.7,414.4 L249.3,416.2 L249.8,418.0Z M244.2,412.1 L245.2,410.4 L246.2,408.7 L247.6,408.7 L249.0,408.7 L248.4,410.3 L247.9,411.9 L246.5,412.4 L245.1,412.9Z M264.4,366.0 L263.7,367.5 L262.9,369.0 L261.6,369.8 L261.3,367.7 L261.0,366.4 L260.7,365.2 L261.5,364.5 L263.4,363.7 L263.9,364.9Z M267.9,362.9 L268.9,363.0 L270.0,363.1 L269.0,365.0 L267.8,365.6 L266.5,366.2 L265.9,364.5Z M267.4,360.3 L268.9,360.3 L270.3,360.3 L271.8,360.3 L273.9,358.2 L275.6,356.2 L276.6,356.2 L277.7,356.2 L279.7,354.1 L280.5,352.0 L281.3,349.9 L282.0,348.4 L283.0,348.2 L284.0,348.0 L284.2,350.0 L284.4,352.0 L283.3,353.3 L282.2,354.7 L281.9,356.2 L281.6,357.6 L281.5,358.8 L281.3,359.9 L280.2,360.7 L279.1,361.4 L277.7,362.0 L275.9,362.1 L274.1,362.2 L273.7,362.9 L271.7,364.5 L270.9,362.9 L269.4,362.9 L267.9,362.9 L267.0,362.9 L265.2,363.3 L263.4,363.7 L263.5,362.4 L265.5,361.4Z M291.6,344.1 L290.2,345.0 L288.8,345.9 L287.4,346.8 L286.2,346.9 L285.0,347.0 L283.8,347.2 L282.7,347.5 L281.6,347.8 L282.0,345.7 L282.8,344.3 L284.2,343.2 L285.5,342.2 L285.6,340.9 L285.6,339.7 L287.1,340.3 L288.6,340.8 L290.1,341.4 L291.6,342.0Z M290.0,324.2 L290.6,322.9 L291.1,321.6 L292.3,323.2 L291.6,325.2 L290.9,327.2 L291.2,328.9 L291.6,330.6 L292.0,332.3 L290.7,332.3 L289.5,332.3 L289.5,334.0 L289.4,335.7 L289.4,337.4 L288.0,338.0 L286.7,338.5 L286.9,336.4 L287.6,334.4 L288.2,332.3 L288.3,330.6 L288.5,328.9 L288.7,327.2 L289.3,325.7Z M347.7,290.2 L348.7,289.7 L349.7,289.2 L350.8,289.4 L351.9,289.6 L353.0,289.7 L352.0,290.1 L351.0,290.4 L349.9,290.4 L348.8,290.3Z M309.6,283.4 L308.3,283.6 L307.0,283.7 L305.7,283.9 L304.4,284.0 L303.1,284.2 L301.8,284.3 L300.6,284.1 L299.4,284.0 L298.2,283.8 L297.0,283.6 L295.8,283.4 L297.2,282.0 L298.3,282.0 L299.4,282.0 L300.6,282.0 L301.7,281.9 L302.8,281.9 L304.0,282.0 L305.2,282.1 L306.4,282.2 L307.6,282.3 L308.8,282.4 L310.0,282.5 L311.2,282.6 L312.4,282.7 L311.0,283.1Z M427.1,281.4 L425.9,281.5 L424.8,281.6 L423.6,281.7 L422.4,281.8 L421.3,281.9 L421.8,280.9 L422.2,279.9 L423.4,279.9 L424.6,279.9 L425.9,279.9 L427.1,279.9Z M525.2,547.8 L526.1,548.3 L527.0,548.9 L528.0,549.4 L526.1,550.1 L524.1,550.8 L522.9,550.6 L521.6,550.4 L520.4,550.2 L519.5,549.3 L518.5,548.4 L520.4,547.9 L522.3,547.4 L524.3,546.2 L526.3,545.0 L525.7,546.4Z M577.3,422.4 L578.8,422.5 L580.4,422.5 L581.9,422.6 L583.8,423.0 L585.7,423.4 L587.2,424.8 L588.6,426.2 L589.6,427.8 L590.6,429.5 L591.6,431.2 L591.7,433.1 L591.7,435.0 L593.1,435.8 L594.5,436.7 L596.0,436.8 L597.5,437.0 L599.1,437.1 L600.9,438.7 L602.7,440.3 L604.3,440.5 L605.8,440.8 L607.3,441.1 L609.2,441.7 L611.0,442.2 L612.9,442.8 L614.7,444.1 L616.5,445.5 L617.6,446.4 L618.8,447.2 L618.8,448.8 L618.9,450.4 L618.9,452.0 L618.2,453.5 L617.6,455.0 L616.0,456.6 L614.4,458.1 L612.7,460.2 L611.1,462.3 L610.3,464.4 L609.6,466.5 L609.1,468.3 L608.6,470.1 L608.2,471.8 L607.0,473.9 L605.8,476.0 L604.5,478.1 L603.2,479.9 L601.9,481.6 L600.6,483.4 L599.5,483.4 L598.4,483.4 L596.6,484.2 L594.8,485.1 L593.4,485.3 L592.0,485.5 L589.7,487.6 L587.3,489.7 L586.5,491.8 L585.8,493.9 L583.9,496.0 L582.0,498.1 L580.1,499.7 L578.1,501.2 L576.0,503.3 L573.8,505.5 L572.4,506.7 L571.1,508.0 L569.7,508.1 L568.4,508.3 L567.0,508.4 L566.1,508.0 L565.1,507.6 L563.5,507.6 L564.2,508.6 L564.7,509.7 L564.6,511.8 L563.2,513.3 L561.8,514.9 L560.1,515.7 L558.4,516.6 L556.7,516.7 L554.9,516.9 L553.1,517.0 L552.0,518.6 L550.7,520.1 L549.1,520.5 L547.5,520.8 L545.9,521.2 L545.5,522.7 L545.1,524.3 L543.2,526.4 L541.0,528.0 L538.7,529.6 L536.4,531.1 L536.7,532.9 L536.9,534.6 L534.5,536.7 L532.1,538.7 L530.4,540.1 L528.6,541.6 L526.9,543.0 L526.9,544.4 L525.3,544.9 L523.7,545.4 L521.3,546.6 L518.9,547.8 L518.3,546.8 L517.6,545.8 L516.9,544.8 L517.7,543.1 L518.5,541.4 L519.4,539.7 L520.1,537.7 L520.7,535.6 L522.4,534.1 L524.1,532.6 L525.3,531.0 L526.6,529.5 L527.7,527.9 L528.9,526.4 L529.2,524.8 L529.6,523.2 L530.9,521.2 L532.3,519.1 L533.0,517.3 L533.8,515.6 L534.5,513.8 L536.2,511.8 L537.9,509.7 L539.1,507.9 L540.2,506.2 L541.3,504.4 L542.1,502.3 L542.9,500.2 L543.6,498.1 L544.4,496.0 L545.3,493.9 L546.1,491.8 L546.8,489.9 L547.5,488.1 L548.1,486.3 L548.6,484.4 L549.1,482.6 L549.5,480.7 L550.0,478.9 L550.5,477.1 L550.7,475.3 L550.8,473.5 L549.9,472.4 L548.9,471.4 L547.6,470.1 L546.3,468.9 L544.9,467.6 L543.7,466.2 L542.5,464.8 L541.3,463.4 L540.6,461.8 L539.8,460.2 L539.2,458.5 L538.5,456.7 L537.9,455.0 L537.3,453.2 L536.8,451.5 L536.3,449.7 L534.7,447.6 L533.2,445.5 L534.0,443.9 L534.8,442.4 L535.4,440.3 L534.7,438.7 L534.0,437.1 L534.9,435.0 L535.8,432.9 L537.6,431.2 L538.5,430.0 L539.4,428.7 L540.7,426.6 L540.6,424.8 L540.4,423.1 L540.3,421.3 L539.2,419.9 L538.1,418.5 L537.0,417.1 L536.2,418.4 L535.3,419.6 L533.9,418.9 L532.5,418.2 L531.1,417.9 L529.6,417.5 L527.9,416.4 L526.2,415.2 L524.4,414.0 L524.3,411.9 L522.4,409.9 L520.6,407.9 L518.7,407.2 L516.8,406.6 L514.9,406.1 L513.0,405.6 L511.5,404.0 L509.9,402.4 L508.5,401.7 L507.0,400.9 L505.2,401.5 L503.4,402.0 L501.5,401.4 L499.6,400.7 L498.0,400.0 L496.4,399.3 L494.8,398.6 L493.2,397.9 L491.6,397.2 L490.0,396.5 L488.0,394.9 L486.0,393.4 L485.9,391.6 L485.9,389.8 L484.6,388.0 L483.3,386.2 L481.7,384.3 L480.1,382.4 L479.0,380.8 L477.8,379.3 L476.2,377.9 L474.7,376.5 L472.8,374.7 L471.0,373.0 L470.0,371.4 L469.0,369.8 L467.2,369.0 L465.5,368.1 L466.1,370.0 L466.8,371.9 L468.4,373.7 L470.0,375.5 L471.1,377.1 L472.3,378.7 L473.4,380.3 L474.8,382.2 L476.1,384.1 L477.1,385.4 L478.1,386.6 L476.5,385.8 L474.7,384.3 L472.9,382.8 L471.5,381.3 L470.1,379.8 L468.6,378.2 L466.5,376.1 L465.8,374.5 L465.1,372.9 L464.3,371.3 L463.2,369.7 L462.2,368.2 L461.1,366.7 L459.6,365.1 L458.0,363.5 L456.7,363.1 L455.4,362.7 L454.1,362.2 L452.5,360.1 L450.9,358.0 L450.1,356.8 L449.3,355.5 L447.8,353.7 L446.3,352.0 L444.9,350.1 L444.6,348.4 L444.4,346.8 L444.1,345.0 L443.7,343.3 L443.4,341.6 L442.9,339.7 L442.4,337.8 L441.6,336.4 L440.8,335.0 L440.0,333.5 L440.8,333.5 L441.6,333.4 L440.2,333.1 L438.3,332.2 L436.4,331.3 L434.6,330.0 L432.7,328.6 L434.2,329.0 L435.6,329.5 L437.1,329.9 L438.6,330.3 L437.0,329.6 L435.4,328.9 L433.9,328.2 L433.0,326.7 L432.1,325.2 L429.9,323.2 L427.7,321.2 L426.5,319.7 L425.2,318.2 L423.2,316.8 L421.2,315.3 L419.3,314.3 L417.5,313.3 L416.0,313.3 L414.5,313.3 L413.1,312.7 L411.6,312.0 L410.2,311.4 L408.9,311.1 L407.5,310.7 L406.2,310.4 L404.7,310.4 L403.2,310.4 L401.9,310.0 L400.5,309.7 L399.2,309.3 L398.2,309.7 L397.2,310.0 L396.2,310.7 L395.3,311.4 L394.1,311.6 L393.0,311.8 L391.9,312.0 L392.6,310.2 L393.1,308.5 L391.8,309.3 L390.5,310.0 L389.6,311.2 L388.7,312.4 L387.5,313.8 L386.2,315.3 L384.8,316.3 L383.5,317.3 L382.0,317.9 L380.6,318.6 L379.1,319.2 L377.6,319.7 L376.1,320.2 L375.0,320.7 L373.9,321.2 L375.1,320.5 L376.3,319.9 L377.6,319.2 L379.0,318.2 L380.4,317.3 L381.8,316.2 L383.1,315.1 L383.7,314.0 L384.3,313.0 L382.8,313.0 L381.3,313.0 L380.0,313.0 L378.8,313.1 L377.6,313.2 L376.7,312.0 L375.8,310.8 L374.2,310.1 L372.6,309.5 L370.9,307.6 L370.0,305.7 L371.0,305.0 L372.0,304.4 L373.3,304.2 L374.5,304.1 L375.7,303.9 L377.0,303.8 L376.7,301.9 L375.5,301.9 L374.3,301.9 L373.2,301.9 L371.8,301.9 L370.5,301.9 L369.6,301.4 L368.8,301.0 L367.7,300.4 L366.6,299.9 L367.9,299.3 L369.2,298.8 L370.6,298.4 L371.9,298.1 L373.1,298.2 L374.3,298.3 L375.5,298.4 L374.0,297.8 L372.5,297.2 L371.0,296.0 L369.5,294.8 L368.0,293.9 L369.1,293.6 L370.3,293.2 L371.4,292.8 L372.5,292.5 L373.8,291.9 L375.0,291.4 L376.3,290.9 L377.3,290.6 L378.2,290.3 L379.2,290.0 L380.2,289.7 L381.5,289.9 L382.8,290.1 L384.1,290.2 L385.5,290.4 L386.8,290.6 L388.2,290.8 L389.6,291.0 L390.9,291.2 L392.3,291.4 L393.7,291.5 L395.1,291.6 L396.4,291.6 L397.8,291.7 L399.1,291.8 L400.6,292.1 L402.1,292.5 L403.5,292.8 L405.0,293.1 L406.4,293.4 L407.9,293.7 L409.1,293.5 L410.4,293.2 L411.6,293.0 L412.9,292.7 L414.1,292.4 L415.4,292.2 L416.6,291.9 L417.6,291.8 L418.6,291.6 L419.7,291.4 L421.0,291.8 L422.4,292.1 L423.7,292.5 L425.0,292.8 L426.4,292.9 L427.8,292.9 L429.1,293.0 L430.5,293.0 L432.1,293.5 L433.7,294.0 L435.4,294.5 L437.0,295.0 L438.6,295.6 L440.0,295.6 L441.4,295.6 L442.8,295.6 L444.1,295.6 L445.5,295.6 L446.7,295.3 L447.9,295.1 L449.2,294.9 L450.4,294.6 L451.9,294.9 L453.4,295.1 L454.9,295.3 L456.4,295.5 L457.9,295.7 L459.4,295.9 L459.8,295.3 L460.1,294.6 L459.9,294.6 L459.1,293.5 L458.3,292.3 L459.6,292.3 L460.9,292.3 L461.1,291.1 L461.2,289.9 L461.3,288.7 L463.4,289.9 L465.6,291.1 L467.7,292.3 L469.5,292.9 L471.3,293.5 L473.1,294.1 L474.9,294.6 L475.8,294.0 L476.7,293.4 L477.5,292.8 L480.1,294.6 L482.7,296.5 L485.4,298.3 L484.1,298.3 L482.9,298.3 L481.7,298.3 L480.5,298.3 L480.7,299.8 L481.0,301.3 L481.1,302.9 L479.8,302.9 L478.4,303.0 L478.2,304.9 L478.0,306.7 L477.8,308.5 L477.9,310.4 L478.0,312.4 L480.6,314.3 L483.3,316.3 L485.0,316.7 L486.6,317.1 L488.2,317.5 L489.8,317.8 L491.5,318.2 L493.3,318.7 L495.1,319.2 L497.0,319.6 L499.3,321.1 L501.6,322.7 L504.0,324.2 L505.1,325.7 L506.2,327.2 L507.6,327.2 L508.9,327.2 L510.2,327.2 L509.4,325.2 L508.5,323.2 L507.6,321.2 L508.1,319.7 L508.4,318.2 L507.2,316.3 L506.1,314.3 L504.1,312.9 L502.0,311.4 L500.8,309.5 L499.4,307.7 L498.1,305.9 L499.5,305.9 L500.9,306.0 L502.3,306.1 L504.2,306.6 L506.0,307.1 L507.9,307.6 L509.8,308.1 L511.6,308.5 L514.3,310.2 L516.9,312.0 L519.5,313.7 L520.2,313.0 L520.8,312.2 L521.5,311.4 L520.9,309.8 L523.7,311.7 L526.4,313.5 L529.1,315.3 L531.9,317.3 L534.7,319.2 L537.0,320.4 L539.3,321.7 L541.6,323.0 L543.9,324.2 L545.6,325.2 L547.3,326.2 L546.4,326.8 L545.5,327.4 L544.8,328.2 L544.0,329.0 L543.3,329.9 L541.6,329.8 L540.0,329.8 L538.3,329.7 L536.7,329.7 L535.5,329.9 L534.3,330.1 L533.1,330.3 L532.5,331.3 L531.8,332.3 L533.4,332.4 L535.1,332.5 L536.7,332.6 L538.3,332.7 L537.9,334.4 L539.3,335.9 L540.6,337.4 L542.6,338.0 L544.5,338.5 L546.5,339.1 L547.5,338.6 L548.4,338.1 L549.1,338.7 L548.3,339.4 L547.6,340.2 L546.8,340.9 L545.7,341.6 L544.6,342.3 L543.5,343.0 L542.4,343.6 L540.4,341.6 L541.2,340.5 L541.8,339.5 L540.3,339.8 L538.8,340.1 L538.4,340.9 L537.4,341.6 L536.4,342.2 L535.4,342.8 L534.3,343.4 L534.7,345.5 L536.6,347.2 L535.2,347.8 L534.0,348.1 L532.9,348.4 L531.9,349.0 L531.0,349.7 L531.4,350.8 L531.8,352.0 L530.8,353.2 L530.6,355.1 L530.6,357.2 L531.7,359.0 L532.9,360.8 L531.8,361.6 L530.8,362.4 L529.7,363.2 L528.6,363.9 L527.7,365.0 L526.8,366.0 L526.0,366.9 L525.2,367.7 L525.5,369.5 L525.7,371.3 L526.9,373.3 L528.1,375.3 L529.1,377.1 L530.0,378.8 L530.0,380.4 L530.0,382.0 L528.8,382.2 L527.1,380.1 L525.7,378.2 L524.4,376.3 L523.4,374.6 L522.4,373.0 L520.4,371.9 L518.5,371.5 L516.6,371.1 L515.2,371.1 L513.9,371.1 L512.6,371.2 L511.3,371.3 L511.8,372.5 L512.2,373.8 L511.1,373.6 L510.0,373.4 L508.6,373.1 L507.1,372.8 L505.4,372.8 L503.6,372.8 L502.0,374.0 L500.5,375.3 L498.9,376.5 L499.0,378.4 L499.1,380.3 L499.2,382.2 L499.3,384.0 L499.3,385.8 L499.3,387.7 L500.1,389.8 L501.0,391.9 L502.3,393.5 L503.5,395.0 L505.0,395.9 L506.5,396.7 L508.0,396.4 L509.5,396.2 L511.0,395.9 L512.0,394.9 L513.1,394.0 L513.3,392.4 L513.4,390.8 L514.8,390.5 L516.1,390.1 L517.5,389.8 L519.3,389.8 L519.1,391.9 L519.0,394.0 L518.5,395.6 L518.1,397.1 L518.0,398.9 L518.0,400.7 L519.6,401.0 L521.1,401.3 L522.7,401.6 L524.6,402.0 L526.5,402.4 L528.1,403.5 L528.1,405.2 L528.1,407.0 L528.0,408.7 L528.0,410.3 L528.0,411.9 L529.2,413.4 L530.4,415.0 L531.9,415.7 L533.3,416.3 L534.6,415.7 L536.0,415.0 L537.6,415.8 L539.2,416.5 L540.2,417.1 L540.2,417.1 L541.3,416.1 L542.5,415.0 L543.2,412.9 L544.4,412.2 L545.5,411.4 L546.8,410.6 L548.0,409.8 L549.3,408.9 L549.9,410.4 L550.5,411.9 L551.2,413.4 L551.8,415.0 L551.0,412.9 L550.2,410.8 L551.7,410.7 L553.2,410.6 L554.7,411.8 L556.2,412.9 L557.7,412.8 L559.3,412.8 L560.8,412.7 L562.7,412.7 L564.5,412.7 L566.4,412.6 L568.2,412.5 L569.3,414.3 L570.4,416.1 L572.3,417.1 L574.2,418.2 L575.8,420.3Z M442.1,333.4 L442.7,333.3 L442.4,332.3 L440.5,331.3 L438.6,330.3 L440.3,331.8Z M536.1,396.3 L538.0,396.6 L539.9,396.9 L538.7,397.6 L537.5,397.1 L536.4,396.7Z M556.4,396.1 L557.9,396.3 L559.4,396.5 L559.2,397.1 L557.9,397.1 L556.6,397.1Z M545.7,393.1 L547.5,393.3 L549.2,393.4 L550.9,393.6 L552.6,394.7 L554.2,395.9 L552.8,396.3 L551.4,396.7 L550.1,397.3 L548.8,397.8 L547.4,397.5 L546.0,397.1 L544.6,396.7 L543.3,396.3 L544.5,394.7Z M660.6,419.2 L659.7,417.6 L658.8,416.1 L657.6,414.8 L656.3,413.5 L654.2,411.9 L652.9,410.5 L651.6,409.1 L651.3,407.9 L651.0,406.6 L650.1,405.3 L649.3,404.1 L650.0,402.7 L650.6,401.4 L650.5,399.9 L650.5,398.4 L650.5,396.9 L649.9,395.5 L649.3,394.0 L648.3,392.4 L647.2,390.8 L647.4,388.9 L647.5,387.1 L647.7,385.2 L648.1,383.5 L648.4,381.8 L648.6,380.1 L649.3,378.2 L650.0,376.3 L651.5,375.8 L652.9,375.3 L653.3,373.2 L653.6,371.1 L652.3,369.0 L652.4,367.1 L652.5,365.2 L653.6,364.3 L654.8,363.5 L654.6,361.6 L654.2,359.7 L655.1,359.5 L656.7,359.9 L658.3,360.3 L660.0,360.8 L661.6,361.2 L662.6,360.6 L663.6,359.9 L664.2,359.3 L665.6,361.4 L666.7,363.4 L667.9,365.5 L669.0,367.5 L670.1,369.6 L671.3,371.7 L672.1,373.7 L673.0,375.8 L673.9,377.9 L674.7,379.9 L675.6,382.0 L676.2,384.0 L676.8,386.1 L677.4,388.2 L678.0,390.2 L678.6,392.3 L679.2,394.4 L679.7,396.4 L680.2,398.5 L680.7,400.5 L681.2,402.6 L681.7,404.7 L682.0,406.7 L682.4,408.8 L682.7,410.8 L683.1,412.9 L683.4,415.0 L683.6,417.0 L683.8,419.1 L684.0,421.2 L684.2,423.2 L682.4,424.1 L680.6,424.9 L678.7,424.4 L676.8,423.9 L675.0,424.3 L673.5,424.8 L672.0,425.3 L670.4,425.7 L669.0,425.1 L667.6,424.5 L665.6,422.7 L663.5,420.9 L662.1,420.1Z M529.7,386.4 L531.6,387.1 L533.5,387.7 L535.5,388.7 L537.5,389.8 L539.0,390.5 L540.5,391.3 L541.8,391.9 L543.1,392.5 L542.0,392.8 L540.8,393.1 L539.5,393.1 L538.1,393.1 L536.8,393.1 L536.0,391.5 L533.9,390.3 L531.9,389.2 L530.5,388.7 L529.1,388.3 L527.3,388.6 L525.5,388.9 L524.2,388.9 L523.0,388.9 L524.5,387.9 L526.1,386.8 L527.9,386.6Z M654.4,359.3 L652.1,357.6 L650.8,357.2 L649.5,356.8 L648.3,357.0 L647.1,357.2 L646.3,355.7 L645.6,354.3 L643.8,353.4 L643.6,351.8 L642.7,350.1 L641.7,348.4 L640.2,346.8 L637.7,344.7 L638.3,343.9 L638.8,343.2 L640.1,343.3 L641.4,343.4 L642.6,343.4 L644.4,343.5 L646.2,343.6 L647.5,343.7 L648.8,343.8 L650.0,343.8 L649.5,342.7 L648.9,341.6 L647.9,340.4 L646.9,339.3 L645.2,338.2 L643.5,337.0 L641.5,335.8 L639.6,335.3 L637.7,334.8 L635.9,333.5 L636.9,333.1 L637.9,332.7 L639.4,332.9 L640.9,333.1 L639.7,332.0 L638.5,330.9 L639.7,331.5 L640.5,331.2 L641.2,331.0 L643.0,333.0 L644.9,335.0 L646.8,337.0 L648.6,339.0 L650.5,341.1 L652.1,343.1 L653.8,345.1 L655.5,347.2 L657.2,349.2 L658.8,351.3 L658.7,352.0 L659.8,352.8 L660.6,354.0 L660.7,355.9 L660.2,356.9 L659.7,357.8 L658.3,357.8 L656.9,357.8 L655.5,357.8 L655.0,358.6Z M559.3,337.2 L557.2,336.5 L555.2,335.9 L553.2,335.2 L551.8,335.2 L550.5,335.2 L549.1,335.2 L547.8,335.2 L547.5,333.7 L547.3,332.3 L547.5,330.8 L547.7,329.2 L548.1,328.1 L548.4,327.0 L549.8,328.8 L551.1,330.7 L553.3,331.5 L555.4,332.3 L557.0,333.7 L558.6,335.2Z M623.8,326.6 L622.9,326.9 L622.1,327.2 L619.8,326.4 L619.9,325.7 L620.1,325.0 L617.3,323.4 L615.6,321.8 L616.4,321.3 L617.1,320.8 L616.9,319.4 L618.2,319.6 L619.4,319.8 L621.7,321.0 L622.5,322.2 L623.3,323.4 L624.7,324.6 L626.1,325.8 L625.5,325.8 L624.7,326.2Z M614.9,315.3 L614.0,314.2 L613.2,313.2 L614.7,313.2 L616.2,313.2 L617.6,314.9 L619.0,315.0 L620.4,315.1 L620.9,315.9 L621.7,317.1 L622.4,318.2 L624.2,318.4 L627.2,320.2 L629.8,321.2 L632.3,322.7 L634.3,324.6 L636.4,326.5 L638.4,328.3 L637.4,328.8 L635.8,328.8 L634.2,328.8 L633.5,329.1 L632.9,329.5 L632.0,329.8 L631.1,330.1 L631.1,328.9 L631.2,327.8 L631.8,327.5 L632.4,327.2 L630.6,327.0 L629.4,326.8 L628.3,326.6 L628.7,326.1 L629.1,325.6 L627.2,324.6 L626.0,323.6 L627.3,323.6 L628.5,323.6 L627.6,322.6 L625.7,321.6 L624.6,320.4 L623.5,320.5 L622.3,320.6 L619.1,318.6 L616.6,317.3Z M488.3,302.9 L490.0,303.2 L491.7,303.6 L490.9,304.4 L490.0,305.1 L488.2,304.7 L486.4,304.2 L484.7,303.8 L482.6,301.9 L484.0,302.1 L485.4,302.4 L486.9,302.6Z M575.9,303.2 L575.4,302.9 L572.3,301.4 L569.1,300.1 L569.5,299.3 L569.8,298.4 L571.1,298.4 L572.5,298.4 L573.8,298.3 L575.2,298.3 L576.5,298.3 L577.9,298.3 L580.2,299.2 L582.5,300.1 L585.2,301.0 L585.0,301.6 L584.7,302.3 L584.0,302.9 L583.3,303.4 L582.6,304.0 L580.9,303.8 L579.2,303.6 L577.6,303.4Z M473.6,288.5 L474.4,288.0 L475.1,287.5 L475.9,286.9 L476.7,286.4 L477.4,285.8 L477.2,285.7 L478.5,285.7 L479.8,285.7 L481.1,285.7 L482.3,285.7 L483.9,287.2 L485.8,287.8 L487.8,288.4 L489.7,289.0 L491.7,289.6 L493.7,290.2 L495.9,291.1 L498.2,291.9 L500.4,292.8 L502.6,293.7 L504.6,294.4 L506.6,295.1 L508.7,295.8 L510.7,296.5 L512.7,297.3 L514.7,298.1 L514.1,298.7 L513.5,299.4 L512.9,300.1 L513.5,301.4 L514.0,302.9 L515.4,304.0 L516.7,305.1 L516.3,305.9 L515.9,306.6 L514.4,306.3 L512.9,306.0 L511.4,305.7 L509.4,305.1 L507.5,304.4 L505.5,303.8 L503.8,303.2 L502.1,302.5 L500.4,301.9 L499.2,302.0 L498.0,302.1 L496.9,302.2 L495.7,302.3 L494.0,301.0 L494.6,300.2 L495.2,299.5 L495.9,298.8 L496.5,298.1 L497.1,297.4 L496.5,296.0 L496.0,294.6 L494.3,294.1 L492.6,293.6 L490.9,293.0 L489.2,292.5 L487.5,291.9 L485.9,291.7 L484.2,291.4 L482.6,291.1 L481.3,291.1 L480.0,291.1 L478.6,291.1 L477.3,291.1 L476.0,291.1 L474.7,291.1 L473.3,291.1 L472.0,291.1 L472.5,290.2 L473.1,289.4Z M550.2,299.5 L549.7,300.3 L549.3,301.1 L548.7,301.9 L550.0,303.8 L551.3,305.7 L552.0,307.3 L552.7,308.8 L553.4,310.4 L552.3,310.8 L550.5,310.3 L548.7,309.9 L546.9,309.4 L545.1,309.0 L543.3,308.5 L540.8,307.1 L538.3,305.7 L535.4,304.1 L532.6,302.5 L530.4,301.0 L528.0,299.6 L525.7,298.3 L524.9,296.9 L524.2,295.6 L522.2,294.6 L520.2,293.7 L519.4,292.4 L518.5,291.1 L515.6,289.8 L512.7,288.5 L510.1,287.1 L507.5,285.7 L504.9,284.3 L502.7,283.6 L500.5,282.9 L498.2,282.2 L496.9,282.1 L495.5,282.0 L494.1,281.8 L492.8,281.7 L491.4,281.6 L490.0,281.5 L488.7,281.4 L487.3,281.2 L486.0,281.1 L484.1,280.5 L482.2,279.9 L480.3,279.3 L478.4,278.6 L476.6,278.0 L477.1,277.5 L477.5,277.0 L478.0,276.5 L478.5,276.0 L479.0,275.6 L479.6,275.2 L480.1,274.8 L480.6,274.4 L481.3,274.2 L482.0,273.9 L482.7,273.7 L483.4,273.4 L484.1,273.2 L485.1,273.1 L486.1,273.1 L487.1,273.0 L488.1,272.9 L489.1,272.9 L490.1,272.8 L491.1,272.8 L492.1,272.7 L493.1,272.6 L494.1,272.6 L495.0,272.4 L495.9,272.3 L496.7,272.2 L497.6,272.1 L498.4,271.9 L499.3,271.8 L500.1,271.7 L501.0,271.6 L501.8,271.4 L502.7,271.3 L503.8,271.3 L504.9,271.3 L506.0,271.3 L507.0,271.3 L508.1,271.3 L509.2,271.3 L510.3,271.3 L511.4,271.3 L512.5,271.3 L513.6,271.3 L515.0,271.4 L516.3,271.6 L517.7,271.7 L519.1,271.8 L520.5,271.9 L521.9,272.1 L523.3,272.2 L524.7,272.3 L526.1,272.4 L527.5,272.6 L528.9,272.7 L530.3,272.9 L531.7,273.0 L533.1,273.2 L534.5,273.3 L536.0,273.5 L537.4,273.7 L538.8,273.8 L538.7,274.2 L538.5,274.5 L538.3,274.9 L538.1,275.2 L537.9,275.6 L537.7,276.0 L537.5,276.5 L540.3,277.7 L543.1,279.0 L545.9,280.3 L548.3,281.6 L550.6,282.9 L552.8,284.3 L553.4,285.4 L553.9,286.6 L554.4,287.7 L557.1,289.4 L559.7,291.1 L559.3,291.7 L558.8,292.2 L558.2,292.8 L557.4,293.2 L556.6,293.6 L555.7,294.0 L554.8,294.4 L554.0,294.8 L553.1,295.2 L552.2,295.6 L551.8,296.3 L551.5,297.1 L551.0,297.9 L550.6,298.7Z M428.8,284.6 L429.9,285.4 L431.0,286.1 L432.1,286.2 L433.2,286.3 L434.3,286.3 L435.5,286.2 L436.8,286.2 L438.0,286.1 L439.2,286.0 L440.6,286.1 L442.0,286.3 L443.3,286.4 L444.7,286.6 L446.1,286.7 L447.5,286.8 L449.7,288.0 L451.9,289.1 L454.1,290.2 L455.1,291.5 L456.0,292.8 L454.7,292.9 L453.4,293.0 L452.1,293.1 L450.8,293.2 L449.5,293.2 L448.1,293.1 L446.7,293.1 L445.3,293.0 L443.9,292.9 L442.6,292.9 L441.2,292.8 L439.7,292.7 L438.3,292.5 L436.9,292.3 L435.4,292.1 L434.0,291.9 L432.5,291.1 L430.9,290.2 L430.5,289.3 L430.0,288.3 L429.2,288.8 L428.4,289.4 L427.2,289.5 L425.9,289.6 L424.7,289.6 L423.4,289.7 L421.4,288.5 L421.4,287.2 L421.3,285.9 L421.2,284.6 L422.4,284.6 L423.7,284.6 L425.0,284.6 L426.2,284.6 L427.5,284.6Z M457.9,288.5 L456.5,288.3 L455.0,288.1 L453.5,287.9 L452.0,287.7 L450.4,286.8 L448.8,286.0 L449.8,285.8 L450.8,285.7 L451.8,285.5 L452.8,285.3 L453.9,285.1 L455.8,286.0 L457.8,286.8Z M462.7,285.1 L464.5,286.4 L466.3,287.7 L465.0,287.7 L463.7,287.7 L462.4,287.7 L461.1,287.7 L459.8,287.7 L458.7,286.4 L457.7,285.1 L458.9,285.1 L460.2,285.1 L461.5,285.1Z M443.7,283.4 L442.6,283.6 L441.4,283.8 L440.3,284.0 L439.2,284.1 L438.0,284.3 L436.7,284.2 L435.3,284.1 L434.0,283.9 L432.7,283.8 L431.3,283.7 L430.0,283.6 L428.7,283.4 L429.0,282.3 L429.3,281.1 L430.6,281.2 L431.9,281.3 L433.2,281.4 L434.6,281.6 L435.9,281.7 L437.2,281.8 L438.5,281.9 L440.2,282.4 L442.0,282.9Z M451.7,282.7 L450.4,282.7 L449.2,282.7 L447.9,282.7 L447.1,281.8 L446.3,281.0 L447.5,281.0 L448.7,281.0 L449.9,281.0 L451.2,281.0 L451.4,281.8Z M439.3,278.8 L437.9,277.2 L439.1,277.2 L440.3,277.2 L441.4,277.2 L442.6,277.2 L443.8,277.2 L445.3,278.8 L444.1,278.8 L442.9,278.8 L441.7,278.8 L440.5,278.8Z M451.2,274.9 L450.9,274.0 L450.5,273.2 L451.5,273.1 L452.4,272.9 L453.4,272.8 L454.3,272.7 L455.2,272.6 L456.2,272.4 L457.1,272.3 L458.0,272.2 L459.0,272.1 L459.9,271.9 L461.0,271.9 L462.1,271.9 L463.2,271.9 L464.3,271.9 L465.4,271.9 L466.5,271.9 L467.6,271.9 L468.7,271.9 L469.8,271.9 L470.9,271.9 L472.1,272.0 L473.3,272.1 L474.5,272.2 L475.8,272.2 L477.0,272.3 L478.2,272.4 L479.4,272.4 L480.7,272.5 L481.9,272.6 L481.6,273.0 L481.3,273.5 L481.0,274.0 L480.6,274.4 L479.9,274.7 L479.2,275.0 L478.5,275.2 L477.8,275.5 L477.1,275.8 L476.4,276.1 L475.7,276.5 L475.0,276.8 L474.4,277.2 L473.7,277.6 L473.0,278.0 L473.3,279.1 L473.5,280.3 L473.7,281.4 L472.5,281.4 L471.3,281.4 L470.0,281.3 L468.8,281.3 L467.6,281.3 L466.3,281.3 L465.1,281.2 L463.9,281.2 L462.7,281.2 L463.9,281.2 L465.2,281.3 L466.4,281.3 L467.7,281.4 L468.9,281.4 L470.2,281.5 L471.4,281.5 L472.7,281.6 L474.4,282.9 L475.9,284.3 L474.6,284.3 L473.3,284.3 L472.1,284.3 L470.8,284.3 L469.6,284.3 L468.3,284.3 L467.0,284.3 L465.8,284.3 L464.5,284.3 L463.3,284.3 L462.0,284.3 L460.7,284.3 L458.9,283.7 L459.3,284.1 L458.1,284.1 L456.8,284.1 L455.5,284.1 L454.3,282.8 L455.3,282.8 L456.3,282.8 L454.8,282.4 L453.4,281.9 L454.4,281.8 L455.5,281.7 L456.6,281.6 L457.7,281.5 L458.7,281.4 L459.8,281.2 L460.9,281.1 L459.9,281.1 L458.1,279.6 L458.5,278.8 L458.8,278.0 L456.9,277.4 L455.1,276.8 L456.4,278.0 L455.4,278.2 L454.4,278.3 L453.4,278.5 L452.3,278.6 L451.3,278.8 L448.9,277.6 L446.5,276.5 L446.5,275.4 L446.5,274.4 L447.6,274.5 L448.8,274.7 L450.0,274.8Z" fill="#d5d5d5" stroke="#7c7c7c" stroke-width="0.55" fill-rule="evenodd"/>
<path d="M114.2,580.2 L119.7,578.0 L128.5,578.0 L139.4,578.6 L147.1,577.6 L151.5,575.8 L160.2,575.4 L165.7,573.6 L172.3,570.8 L176.6,571.0 L183.2,573.2 L192.0,574.3 L199.6,574.7 L202.9,578.0 L206.2,581.7 L209.5,576.9 L213.9,573.6 L221.5,571.4 L231.4,572.5 L240.1,570.5 L248.8,571.4 L257.5,571.4 L266.3,572.5 L277.2,571.4 L286.0,570.3 L288.2,572.1 L301.3,572.5 L310.1,575.1 L321.0,576.9 L332.0,579.1 L338.5,581.3 L336.3,583.9 L330.9,587.8 L328.7,591.1 L327.6,595.5 L332.0,597.7 L345.1,598.8 L360.4,599.5 L375.8,600.3 L389.0,600.6 L380.0,597.5 L377.0,594.5 L386.0,594.0 L378.0,592.0 L377.0,590.0 L391.5,587.5 L409.0,585.4 L417.8,584.0 L433.6,584.9 L447.6,585.8 L449.3,582.6 L458.0,581.9 L465.0,583.1 L468.2,582.6 L476.3,583.6 L486.6,581.6 L494.7,578.5 L502.9,574.4 L509.0,571.3 L515.2,568.3 L525.4,566.2 L519.3,568.3 L511.1,572.4 L505.0,577.5 L500.9,582.6 L490.7,585.7 L480.4,589.7 L470.2,591.8 L469.2,593.8 L476.3,596.0 L494.7,596.5 L505.0,597.0 L519.3,594.5 L521.3,591.8 L537.7,588.7 L552.0,585.7 L566.3,582.6 L578.5,580.5 L600.0,579.0 L600.0,612.0 L100.0,612.0 L100.0,581.0Z M493.0,593.0 L500.0,591.3 L510.0,591.5 L508.0,593.5 L498.0,595.0Z M487.0,580.0 L492.0,577.0 L498.0,576.5 L497.0,579.0 L490.0,582.5Z M369.0,592.3 L372.0,592.0 L374.5,593.0 L371.0,593.8Z" fill="#d5d5d5" stroke="#7c7c7c" stroke-width="0.55"/>
<path d="M82.1,559.6 L85.1,559.6 L88.0,559.6 L91.0,559.6 L94.0,559.6 L97.0,559.6 L99.9,559.6 L102.9,559.6 L105.9,559.6 L108.9,559.6 L111.8,559.6 L114.8,559.6 L117.8,559.6 L120.7,559.6 L123.7,559.6 L126.7,559.6 L129.7,559.6 L132.6,559.6 L135.6,559.6 L138.6,559.6 L141.6,559.6 L144.5,559.6 L147.5,559.6 L150.5,559.6 L153.5,559.6 L156.4,559.6 L159.4,559.6 L162.4,559.6 L165.3,559.6 L168.3,559.6 L171.3,559.6 L174.3,559.6 L177.2,559.6 L180.2,559.6 L183.2,559.6 L186.2,559.6 L189.1,559.6 L192.1,559.6 L195.1,559.6 L198.1,559.6 L201.0,559.6 L204.0,559.6 L207.0,559.6 L209.9,559.6 L212.9,559.6 L215.9,559.6 L218.9,559.6 L221.8,559.6 L224.8,559.6 L227.8,559.6 L230.8,559.6 L233.7,559.6 L236.7,559.6 L239.7,559.6 L242.7,559.6 L245.6,559.6 L248.6,559.6 L251.6,559.6 L254.5,559.6 L257.5,559.6 L260.5,559.6 L263.5,559.6 L266.4,559.6 L269.4,559.6 L272.4,559.6 L275.4,559.6 L278.3,559.6 L281.3,559.6 L284.3,559.6 L287.3,559.6 L290.2,559.6 L293.2,559.6 L296.2,559.6 L299.2,559.6 L302.1,559.6 L305.1,559.6 L308.1,559.6 L311.0,559.6 L314.0,559.6 L317.0,559.6 L320.0,559.6 L322.9,559.6 L325.9,559.6 L328.9,559.6 L331.9,559.6 L334.8,559.6 L337.8,559.6 L340.8,559.6 L343.8,559.6 L346.7,559.6 L349.7,559.6 L352.7,559.6 L355.6,559.6 L358.6,559.6 L361.6,559.6 L364.6,559.6 L367.5,559.6 L370.5,559.6 L373.5,559.6 L376.5,559.6 L379.4,559.6 L382.4,559.6 L385.4,559.6 L388.4,559.6 L391.3,559.6 L394.3,559.6 L397.3,559.6 L400.2,559.6 L403.2,559.6 L406.2,559.6 L409.2,559.6 L412.1,559.6 L415.1,559.6 L418.1,559.6 L421.1,559.6 L424.0,559.6 L427.0,559.6 L430.0,559.6 L433.0,559.6 L435.9,559.6 L438.9,559.6 L441.9,559.6 L444.9,559.6 L447.8,559.6 L450.8,559.6 L453.8,559.6 L456.7,559.6 L459.7,559.6 L462.7,559.6 L465.7,559.6 L468.6,559.6 L471.6,559.6 L474.6,559.6 L477.6,559.6 L480.5,559.6 L483.5,559.6 L486.5,559.6 L489.5,559.6 L492.4,559.6 L495.4,559.6 L498.4,559.6 L501.3,559.6 L504.3,559.6 L507.3,559.6 L510.3,559.6 L513.2,559.6 L516.2,559.6 L519.2,559.6 L522.2,559.6 L525.1,559.6 L528.1,559.6 L531.1,559.6 L534.1,559.6 L537.0,559.6 L540.0,559.6 L543.0,559.6 L545.9,559.6 L548.9,559.6 L551.9,559.6 L554.9,559.6 L557.8,559.6 L560.8,559.6 L563.8,559.6 L566.8,559.6 L569.7,559.6 L572.7,559.6 L575.7,559.6 L578.7,559.6 L581.6,559.6 L584.6,559.6 L587.6,559.6 L590.5,559.6 L593.5,559.6 L596.5,559.6 L599.5,559.6 L602.4,559.6 L605.4,559.6 L608.4,559.6 L611.4,559.6 L614.3,559.6 L617.3,559.6 M28.0,498.1 L31.6,498.1 L35.2,498.1 L38.7,498.1 L42.3,498.1 L45.9,498.1 L49.5,498.1 L53.0,498.1 L56.6,498.1 L60.2,498.1 L63.7,498.1 L67.3,498.1 L70.9,498.1 L74.5,498.1 L78.0,498.1 L81.6,498.1 L85.2,498.1 L88.8,498.1 L92.3,498.1 L95.9,498.1 L99.5,498.1 L103.1,498.1 L106.6,498.1 L110.2,498.1 L113.8,498.1 L117.4,498.1 L120.9,498.1 L124.5,498.1 L128.1,498.1 L131.7,498.1 L135.2,498.1 L138.8,498.1 L142.4,498.1 L146.0,498.1 L149.5,498.1 L153.1,498.1 L156.7,498.1 L160.3,498.1 L163.8,498.1 L167.4,498.1 L171.0,498.1 L174.6,498.1 L178.1,498.1 L181.7,498.1 L185.3,498.1 L188.9,498.1 L192.4,498.1 L196.0,498.1 L199.6,498.1 L203.1,498.1 L206.7,498.1 L210.3,498.1 L213.9,498.1 L217.4,498.1 L221.0,498.1 L224.6,498.1 L228.2,498.1 L231.7,498.1 L235.3,498.1 L238.9,498.1 L242.5,498.1 L246.0,498.1 L249.6,498.1 L253.2,498.1 L256.8,498.1 L260.3,498.1 L263.9,498.1 L267.5,498.1 L271.1,498.1 L274.6,498.1 L278.2,498.1 L281.8,498.1 L285.4,498.1 L288.9,498.1 L292.5,498.1 L296.1,498.1 L299.7,498.1 L303.2,498.1 L306.8,498.1 L310.4,498.1 L314.0,498.1 L317.5,498.1 L321.1,498.1 L324.7,498.1 L328.3,498.1 L331.8,498.1 L335.4,498.1 L339.0,498.1 L342.6,498.1 L346.1,498.1 L349.7,498.1 L353.3,498.1 L356.8,498.1 L360.4,498.1 L364.0,498.1 L367.6,498.1 L371.1,498.1 L374.7,498.1 L378.3,498.1 L381.9,498.1 L385.4,498.1 L389.0,498.1 L392.6,498.1 L396.2,498.1 L399.7,498.1 L403.3,498.1 L406.9,498.1 L410.5,498.1 L414.0,498.1 L417.6,498.1 L421.2,498.1 L424.8,498.1 L428.3,498.1 L431.9,498.1 L435.5,498.1 L439.1,498.1 L442.6,498.1 L446.2,498.1 L449.8,498.1 L453.4,498.1 L456.9,498.1 L460.5,498.1 L464.1,498.1 L467.7,498.1 L471.2,498.1 L474.8,498.1 L478.4,498.1 L482.0,498.1 L485.5,498.1 L489.1,498.1 L492.7,498.1 L496.3,498.1 L499.8,498.1 L503.4,498.1 L507.0,498.1 L510.5,498.1 L514.1,498.1 L517.7,498.1 L521.3,498.1 L524.8,498.1 L528.4,498.1 L532.0,498.1 L535.6,498.1 L539.1,498.1 L542.7,498.1 L546.3,498.1 L549.9,498.1 L553.4,498.1 L557.0,498.1 L560.6,498.1 L564.2,498.1 L567.7,498.1 L571.3,498.1 L574.9,498.1 L578.5,498.1 L582.0,498.1 L585.6,498.1 L589.2,498.1 L592.8,498.1 L596.3,498.1 L599.9,498.1 L603.5,498.1 L607.1,498.1 L610.6,498.1 L614.2,498.1 L617.8,498.1 L621.4,498.1 L624.9,498.1 L628.5,498.1 L632.1,498.1 L635.7,498.1 L639.2,498.1 L642.8,498.1 L646.4,498.1 L649.9,498.1 L653.5,498.1 L657.1,498.1 L660.7,498.1 L664.2,498.1 L667.8,498.1 L671.4,498.1 M14.6,435.0 L18.3,435.0 L22.0,435.0 L25.8,435.0 L29.5,435.0 L33.2,435.0 L36.9,435.0 L40.7,435.0 L44.4,435.0 L48.1,435.0 L51.8,435.0 L55.6,435.0 L59.3,435.0 L63.0,435.0 L66.7,435.0 L70.4,435.0 L74.2,435.0 L77.9,435.0 L81.6,435.0 L85.3,435.0 L89.1,435.0 L92.8,435.0 L96.5,435.0 L100.2,435.0 L104.0,435.0 L107.7,435.0 L111.4,435.0 L115.1,435.0 L118.9,435.0 L122.6,435.0 L126.3,435.0 L130.0,435.0 L133.7,435.0 L137.5,435.0 L141.2,435.0 L144.9,435.0 L148.6,435.0 L152.4,435.0 L156.1,435.0 L159.8,435.0 L163.5,435.0 L167.3,435.0 L171.0,435.0 L174.7,435.0 L178.4,435.0 L182.1,435.0 L185.9,435.0 L189.6,435.0 L193.3,435.0 L197.0,435.0 L200.8,435.0 L204.5,435.0 L208.2,435.0 L211.9,435.0 L215.7,435.0 L219.4,435.0 L223.1,435.0 L226.8,435.0 L230.6,435.0 L234.3,435.0 L238.0,435.0 L241.7,435.0 L245.4,435.0 L249.2,435.0 L252.9,435.0 L256.6,435.0 L260.3,435.0 L264.1,435.0 L267.8,435.0 L271.5,435.0 L275.2,435.0 L279.0,435.0 L282.7,435.0 L286.4,435.0 L290.1,435.0 L293.8,435.0 L297.6,435.0 L301.3,435.0 L305.0,435.0 L308.7,435.0 L312.5,435.0 L316.2,435.0 L319.9,435.0 L323.6,435.0 L327.4,435.0 L331.1,435.0 L334.8,435.0 L338.5,435.0 L342.3,435.0 L346.0,435.0 L349.7,435.0 L353.4,435.0 L357.1,435.0 L360.9,435.0 L364.6,435.0 L368.3,435.0 L372.0,435.0 L375.8,435.0 L379.5,435.0 L383.2,435.0 L386.9,435.0 L390.7,435.0 L394.4,435.0 L398.1,435.0 L401.8,435.0 L405.6,435.0 L409.3,435.0 L413.0,435.0 L416.7,435.0 L420.4,435.0 L424.2,435.0 L427.9,435.0 L431.6,435.0 L435.3,435.0 L439.1,435.0 L442.8,435.0 L446.5,435.0 L450.2,435.0 L454.0,435.0 L457.7,435.0 L461.4,435.0 L465.1,435.0 L468.8,435.0 L472.6,435.0 L476.3,435.0 L480.0,435.0 L483.7,435.0 L487.5,435.0 L491.2,435.0 L494.9,435.0 L498.6,435.0 L502.4,435.0 L506.1,435.0 L509.8,435.0 L513.5,435.0 L517.2,435.0 L521.0,435.0 L524.7,435.0 L528.4,435.0 L532.1,435.0 L535.9,435.0 L539.6,435.0 L543.3,435.0 L547.0,435.0 L550.8,435.0 L554.5,435.0 L558.2,435.0 L561.9,435.0 L565.7,435.0 L569.4,435.0 L573.1,435.0 L576.8,435.0 L580.5,435.0 L584.3,435.0 L588.0,435.0 L591.7,435.0 L595.4,435.0 L599.2,435.0 L602.9,435.0 L606.6,435.0 L610.3,435.0 L614.1,435.0 L617.8,435.0 L621.5,435.0 L625.2,435.0 L629.0,435.0 L632.7,435.0 L636.4,435.0 L640.1,435.0 L643.8,435.0 L647.6,435.0 L651.3,435.0 L655.0,435.0 L658.7,435.0 L662.5,435.0 L666.2,435.0 L669.9,435.0 L673.6,435.0 L677.4,435.0 L681.1,435.0 L684.8,435.0 M28.0,371.9 L31.6,371.9 L35.2,371.9 L38.7,371.9 L42.3,371.9 L45.9,371.9 L49.5,371.9 L53.0,371.9 L56.6,371.9 L60.2,371.9 L63.7,371.9 L67.3,371.9 L70.9,371.9 L74.5,371.9 L78.0,371.9 L81.6,371.9 L85.2,371.9 L88.8,371.9 L92.3,371.9 L95.9,371.9 L99.5,371.9 L103.1,371.9 L106.6,371.9 L110.2,371.9 L113.8,371.9 L117.4,371.9 L120.9,371.9 L124.5,371.9 L128.1,371.9 L131.7,371.9 L135.2,371.9 L138.8,371.9 L142.4,371.9 L146.0,371.9 L149.5,371.9 L153.1,371.9 L156.7,371.9 L160.3,371.9 L163.8,371.9 L167.4,371.9 L171.0,371.9 L174.6,371.9 L178.1,371.9 L181.7,371.9 L185.3,371.9 L188.9,371.9 L192.4,371.9 L196.0,371.9 L199.6,371.9 L203.1,371.9 L206.7,371.9 L210.3,371.9 L213.9,371.9 L217.4,371.9 L221.0,371.9 L224.6,371.9 L228.2,371.9 L231.7,371.9 L235.3,371.9 L238.9,371.9 L242.5,371.9 L246.0,371.9 L249.6,371.9 L253.2,371.9 L256.8,371.9 L260.3,371.9 L263.9,371.9 L267.5,371.9 L271.1,371.9 L274.6,371.9 L278.2,371.9 L281.8,371.9 L285.4,371.9 L288.9,371.9 L292.5,371.9 L296.1,371.9 L299.7,371.9 L303.2,371.9 L306.8,371.9 L310.4,371.9 L314.0,371.9 L317.5,371.9 L321.1,371.9 L324.7,371.9 L328.3,371.9 L331.8,371.9 L335.4,371.9 L339.0,371.9 L342.6,371.9 L346.1,371.9 L349.7,371.9 L353.3,371.9 L356.8,371.9 L360.4,371.9 L364.0,371.9 L367.6,371.9 L371.1,371.9 L374.7,371.9 L378.3,371.9 L381.9,371.9 L385.4,371.9 L389.0,371.9 L392.6,371.9 L396.2,371.9 L399.7,371.9 L403.3,371.9 L406.9,371.9 L410.5,371.9 L414.0,371.9 L417.6,371.9 L421.2,371.9 L424.8,371.9 L428.3,371.9 L431.9,371.9 L435.5,371.9 L439.1,371.9 L442.6,371.9 L446.2,371.9 L449.8,371.9 L453.4,371.9 L456.9,371.9 L460.5,371.9 L464.1,371.9 L467.7,371.9 L471.2,371.9 L474.8,371.9 L478.4,371.9 L482.0,371.9 L485.5,371.9 L489.1,371.9 L492.7,371.9 L496.3,371.9 L499.8,371.9 L503.4,371.9 L507.0,371.9 L510.5,371.9 L514.1,371.9 L517.7,371.9 L521.3,371.9 L524.8,371.9 L528.4,371.9 L532.0,371.9 L535.6,371.9 L539.1,371.9 L542.7,371.9 L546.3,371.9 L549.9,371.9 L553.4,371.9 L557.0,371.9 L560.6,371.9 L564.2,371.9 L567.7,371.9 L571.3,371.9 L574.9,371.9 L578.5,371.9 L582.0,371.9 L585.6,371.9 L589.2,371.9 L592.8,371.9 L596.3,371.9 L599.9,371.9 L603.5,371.9 L607.1,371.9 L610.6,371.9 L614.2,371.9 L617.8,371.9 L621.4,371.9 L624.9,371.9 L628.5,371.9 L632.1,371.9 L635.7,371.9 L639.2,371.9 L642.8,371.9 L646.4,371.9 L649.9,371.9 L653.5,371.9 L657.1,371.9 L660.7,371.9 L664.2,371.9 L667.8,371.9 L671.4,371.9 M82.1,310.4 L85.1,310.4 L88.0,310.4 L91.0,310.4 L94.0,310.4 L97.0,310.4 L99.9,310.4 L102.9,310.4 L105.9,310.4 L108.9,310.4 L111.8,310.4 L114.8,310.4 L117.8,310.4 L120.7,310.4 L123.7,310.4 L126.7,310.4 L129.7,310.4 L132.6,310.4 L135.6,310.4 L138.6,310.4 L141.6,310.4 L144.5,310.4 L147.5,310.4 L150.5,310.4 L153.5,310.4 L156.4,310.4 L159.4,310.4 L162.4,310.4 L165.3,310.4 L168.3,310.4 L171.3,310.4 L174.3,310.4 L177.2,310.4 L180.2,310.4 L183.2,310.4 L186.2,310.4 L189.1,310.4 L192.1,310.4 L195.1,310.4 L198.1,310.4 L201.0,310.4 L204.0,310.4 L207.0,310.4 L209.9,310.4 L212.9,310.4 L215.9,310.4 L218.9,310.4 L221.8,310.4 L224.8,310.4 L227.8,310.4 L230.8,310.4 L233.7,310.4 L236.7,310.4 L239.7,310.4 L242.7,310.4 L245.6,310.4 L248.6,310.4 L251.6,310.4 L254.5,310.4 L257.5,310.4 L260.5,310.4 L263.5,310.4 L266.4,310.4 L269.4,310.4 L272.4,310.4 L275.4,310.4 L278.3,310.4 L281.3,310.4 L284.3,310.4 L287.3,310.4 L290.2,310.4 L293.2,310.4 L296.2,310.4 L299.2,310.4 L302.1,310.4 L305.1,310.4 L308.1,310.4 L311.0,310.4 L314.0,310.4 L317.0,310.4 L320.0,310.4 L322.9,310.4 L325.9,310.4 L328.9,310.4 L331.9,310.4 L334.8,310.4 L337.8,310.4 L340.8,310.4 L343.8,310.4 L346.7,310.4 L349.7,310.4 L352.7,310.4 L355.6,310.4 L358.6,310.4 L361.6,310.4 L364.6,310.4 L367.5,310.4 L370.5,310.4 L373.5,310.4 L376.5,310.4 L379.4,310.4 L382.4,310.4 L385.4,310.4 L388.4,310.4 L391.3,310.4 L394.3,310.4 L397.3,310.4 L400.2,310.4 L403.2,310.4 L406.2,310.4 L409.2,310.4 L412.1,310.4 L415.1,310.4 L418.1,310.4 L421.1,310.4 L424.0,310.4 L427.0,310.4 L430.0,310.4 L433.0,310.4 L435.9,310.4 L438.9,310.4 L441.9,310.4 L444.9,310.4 L447.8,310.4 L450.8,310.4 L453.8,310.4 L456.7,310.4 L459.7,310.4 L462.7,310.4 L465.7,310.4 L468.6,310.4 L471.6,310.4 L474.6,310.4 L477.6,310.4 L480.5,310.4 L483.5,310.4 L486.5,310.4 L489.5,310.4 L492.4,310.4 L495.4,310.4 L498.4,310.4 L501.3,310.4 L504.3,310.4 L507.3,310.4 L510.3,310.4 L513.2,310.4 L516.2,310.4 L519.2,310.4 L522.2,310.4 L525.1,310.4 L528.1,310.4 L531.1,310.4 L534.1,310.4 L537.0,310.4 L540.0,310.4 L543.0,310.4 L545.9,310.4 L548.9,310.4 L551.9,310.4 L554.9,310.4 L557.8,310.4 L560.8,310.4 L563.8,310.4 L566.8,310.4 L569.7,310.4 L572.7,310.4 L575.7,310.4 L578.7,310.4 L581.6,310.4 L584.6,310.4 L587.6,310.4 L590.5,310.4 L593.5,310.4 L596.5,310.4 L599.5,310.4 L602.4,310.4 L605.4,310.4 L608.4,310.4 L611.4,310.4 L614.3,310.4 L617.3,310.4 M230.8,604.6 L227.2,603.0 L223.7,601.4 L219.7,599.3 L215.3,596.8 L210.9,594.3 L206.3,591.2 L201.6,588.1 L197.3,584.9 L193.2,581.5 L189.2,578.1 L185.5,574.4 L181.8,570.8 L178.2,567.1 L174.8,563.4 L171.3,559.6 L168.0,555.7 L164.8,551.8 L161.7,547.8 L158.8,543.8 L155.8,539.7 L153.3,535.6 L150.8,531.5 L148.4,527.4 L146.1,523.2 L143.8,519.1 L141.9,514.9 L140.0,510.7 L138.3,506.5 L136.8,502.3 L135.2,498.1 L134.1,493.9 L132.9,489.7 L131.9,485.5 L131.1,481.3 L130.3,477.1 L129.6,472.9 L128.9,468.6 L128.3,464.4 L127.8,460.2 L127.3,456.0 L127.0,451.8 L126.8,447.6 L126.6,443.4 L126.4,439.2 L126.3,435.0 L126.4,430.8 L126.6,426.6 L126.8,422.4 L127.0,418.2 L127.3,414.0 L127.8,409.8 L128.3,405.6 L128.9,401.4 L129.6,397.1 L130.3,392.9 L131.1,388.7 L131.9,384.5 L132.9,380.3 L134.1,376.1 L135.2,371.9 L136.8,367.7 L138.3,363.5 L140.0,359.3 L141.9,355.1 L143.8,350.9 L146.1,346.8 L148.4,342.6 L150.8,338.5 L153.3,334.4 L155.8,330.3 L158.8,326.2 L161.7,322.2 L164.8,318.2 L168.0,314.3 L171.3,310.4 L174.8,306.6 L178.2,302.9 L181.8,299.2 L185.5,295.6 L189.2,291.9 L193.2,288.5 L197.3,285.1 L201.6,281.9 L206.3,278.8 L210.9,275.7 L215.3,273.2 L219.7,270.7 L223.7,268.6 L227.2,267.0 L230.8,265.4 M290.3,604.6 L288.5,603.0 L286.7,601.4 L284.7,599.3 L282.5,596.8 L280.3,594.3 L278.0,591.2 L275.7,588.1 L273.5,584.9 L271.5,581.5 L269.4,578.1 L267.6,574.4 L265.8,570.8 L264.0,567.1 L262.2,563.4 L260.5,559.6 L258.9,555.7 L257.2,551.8 L255.7,547.8 L254.2,543.8 L252.8,539.7 L251.5,535.6 L250.2,531.5 L249.0,527.4 L247.9,523.2 L246.8,519.1 L245.8,514.9 L244.9,510.7 L244.0,506.5 L243.2,502.3 L242.5,498.1 L241.9,493.9 L241.3,489.7 L240.8,485.5 L240.4,481.3 L240.0,477.1 L239.6,472.9 L239.3,468.6 L239.0,464.4 L238.8,460.2 L238.5,456.0 L238.4,451.8 L238.2,447.6 L238.1,443.4 L238.1,439.2 L238.0,435.0 L238.1,430.8 L238.1,426.6 L238.2,422.4 L238.4,418.2 L238.5,414.0 L238.8,409.8 L239.0,405.6 L239.3,401.4 L239.6,397.1 L240.0,392.9 L240.4,388.7 L240.8,384.5 L241.3,380.3 L241.9,376.1 L242.5,371.9 L243.2,367.7 L244.0,363.5 L244.9,359.3 L245.8,355.1 L246.8,350.9 L247.9,346.8 L249.0,342.6 L250.2,338.5 L251.5,334.4 L252.8,330.3 L254.2,326.2 L255.7,322.2 L257.2,318.2 L258.9,314.3 L260.5,310.4 L262.2,306.6 L264.0,302.9 L265.8,299.2 L267.6,295.6 L269.4,291.9 L271.5,288.5 L273.5,285.1 L275.7,281.9 L278.0,278.8 L280.3,275.7 L282.5,273.2 L284.7,270.7 L286.7,268.6 L288.5,267.0 L290.3,265.4 M349.7,604.6 L349.7,603.0 L349.7,601.4 L349.7,599.3 L349.7,596.8 L349.7,594.3 L349.7,591.2 L349.7,588.1 L349.7,584.9 L349.7,581.5 L349.7,578.1 L349.7,574.4 L349.7,570.8 L349.7,567.1 L349.7,563.4 L349.7,559.6 L349.7,555.7 L349.7,551.8 L349.7,547.8 L349.7,543.8 L349.7,539.7 L349.7,535.6 L349.7,531.5 L349.7,527.4 L349.7,523.2 L349.7,519.1 L349.7,514.9 L349.7,510.7 L349.7,506.5 L349.7,502.3 L349.7,498.1 L349.7,493.9 L349.7,489.7 L349.7,485.5 L349.7,481.3 L349.7,477.1 L349.7,472.9 L349.7,468.6 L349.7,464.4 L349.7,460.2 L349.7,456.0 L349.7,451.8 L349.7,447.6 L349.7,443.4 L349.7,439.2 L349.7,435.0 L349.7,430.8 L349.7,426.6 L349.7,422.4 L349.7,418.2 L349.7,414.0 L349.7,409.8 L349.7,405.6 L349.7,401.4 L349.7,397.1 L349.7,392.9 L349.7,388.7 L349.7,384.5 L349.7,380.3 L349.7,376.1 L349.7,371.9 L349.7,367.7 L349.7,363.5 L349.7,359.3 L349.7,355.1 L349.7,350.9 L349.7,346.8 L349.7,342.6 L349.7,338.5 L349.7,334.4 L349.7,330.3 L349.7,326.2 L349.7,322.2 L349.7,318.2 L349.7,314.3 L349.7,310.4 L349.7,306.6 L349.7,302.9 L349.7,299.2 L349.7,295.6 L349.7,291.9 L349.7,288.5 L349.7,285.1 L349.7,281.9 L349.7,278.8 L349.7,275.7 L349.7,273.2 L349.7,270.7 L349.7,268.6 L349.7,267.0 L349.7,265.4 M409.1,604.6 L410.9,603.0 L412.7,601.4 L414.7,599.3 L416.9,596.8 L419.1,594.3 L421.4,591.2 L423.7,588.1 L425.9,584.9 L427.9,581.5 L430.0,578.1 L431.8,574.4 L433.6,570.8 L435.4,567.1 L437.2,563.4 L438.9,559.6 L440.5,555.7 L442.2,551.8 L443.7,547.8 L445.2,543.8 L446.6,539.7 L447.9,535.6 L449.2,531.5 L450.4,527.4 L451.5,523.2 L452.6,519.1 L453.6,514.9 L454.5,510.7 L455.4,506.5 L456.2,502.3 L456.9,498.1 L457.5,493.9 L458.1,489.7 L458.6,485.5 L459.0,481.3 L459.4,477.1 L459.8,472.9 L460.1,468.6 L460.4,464.4 L460.6,460.2 L460.9,456.0 L461.0,451.8 L461.2,447.6 L461.3,443.4 L461.3,439.2 L461.4,435.0 L461.3,430.8 L461.3,426.6 L461.2,422.4 L461.0,418.2 L460.9,414.0 L460.6,409.8 L460.4,405.6 L460.1,401.4 L459.8,397.1 L459.4,392.9 L459.0,388.7 L458.6,384.5 L458.1,380.3 L457.5,376.1 L456.9,371.9 L456.2,367.7 L455.4,363.5 L454.5,359.3 L453.6,355.1 L452.6,350.9 L451.5,346.8 L450.4,342.6 L449.2,338.5 L447.9,334.4 L446.6,330.3 L445.2,326.2 L443.7,322.2 L442.2,318.2 L440.5,314.3 L438.9,310.4 L437.2,306.6 L435.4,302.9 L433.6,299.2 L431.8,295.6 L430.0,291.9 L427.9,288.5 L425.9,285.1 L423.7,281.9 L421.4,278.8 L419.1,275.7 L416.9,273.2 L414.7,270.7 L412.7,268.6 L410.9,267.0 L409.1,265.4 M468.6,604.6 L472.2,603.0 L475.7,601.4 L479.7,599.3 L484.1,596.8 L488.5,594.3 L493.1,591.2 L497.8,588.1 L502.1,584.9 L506.2,581.5 L510.2,578.1 L513.9,574.4 L517.6,570.8 L521.2,567.1 L524.6,563.4 L528.1,559.6 L531.4,555.7 L534.6,551.8 L537.7,547.8 L540.6,543.8 L543.6,539.7 L546.1,535.6 L548.6,531.5 L551.0,527.4 L553.3,523.2 L555.6,519.1 L557.5,514.9 L559.4,510.7 L561.1,506.5 L562.6,502.3 L564.2,498.1 L565.3,493.9 L566.5,489.7 L567.5,485.5 L568.3,481.3 L569.1,477.1 L569.8,472.9 L570.5,468.6 L571.1,464.4 L571.6,460.2 L572.1,456.0 L572.4,451.8 L572.6,447.6 L572.8,443.4 L573.0,439.2 L573.1,435.0 L573.0,430.8 L572.8,426.6 L572.6,422.4 L572.4,418.2 L572.1,414.0 L571.6,409.8 L571.1,405.6 L570.5,401.4 L569.8,397.1 L569.1,392.9 L568.3,388.7 L567.5,384.5 L566.5,380.3 L565.3,376.1 L564.2,371.9 L562.6,367.7 L561.1,363.5 L559.4,359.3 L557.5,355.1 L555.6,350.9 L553.3,346.8 L551.0,342.6 L548.6,338.5 L546.1,334.4 L543.6,330.3 L540.6,326.2 L537.7,322.2 L534.6,318.2 L531.4,314.3 L528.1,310.4 L524.6,306.6 L521.2,302.9 L517.6,299.2 L513.9,295.6 L510.2,291.9 L506.2,288.5 L502.1,285.1 L497.8,281.9 L493.1,278.8 L488.5,275.7 L484.1,273.2 L479.7,270.7 L475.7,268.6 L472.2,267.0 L468.6,265.4" fill="none" stroke="#ffffff" stroke-opacity="0.45" stroke-width="0.55"/></g>
<path d="M171.4,604.6 L170.0,604.2 L168.7,603.8 L167.3,603.4 L166.0,603.0 L164.7,602.6 L163.3,602.2 L162.0,601.8 L160.6,601.4 L159.3,601.0 L158.0,600.5 L156.3,599.9 L154.7,599.3 L153.0,598.7 L151.4,598.1 L149.7,597.4 L148.1,596.8 L146.4,596.2 L144.8,595.6 L143.1,594.9 L141.5,594.3 L139.8,593.5 L138.0,592.8 L136.3,592.0 L134.5,591.2 L132.8,590.4 L131.1,589.7 L129.3,588.9 L127.6,588.1 L125.8,587.3 L124.1,586.6 L122.6,585.7 L121.1,584.9 L119.5,584.0 L118.0,583.2 L116.5,582.3 L115.0,581.5 L113.5,580.6 L111.9,579.8 L110.4,578.9 L108.9,578.1 L107.5,577.2 L106.1,576.3 L104.8,575.4 L103.4,574.4 L102.0,573.5 L100.6,572.6 L99.3,571.7 L97.9,570.8 L96.5,569.9 L95.1,569.0 L93.8,568.1 L92.5,567.1 L91.2,566.2 L89.9,565.3 L88.6,564.3 L87.3,563.4 L86.0,562.4 L84.7,561.5 L83.4,560.5 L82.1,559.6 L80.9,558.6 L79.6,557.6 L78.4,556.7 L77.2,555.7 L76.0,554.7 L74.8,553.7 L73.6,552.7 L72.3,551.8 L71.1,550.8 L69.9,549.8 L68.8,548.8 L67.7,547.8 L66.6,546.8 L65.5,545.8 L64.4,544.8 L63.3,543.8 L62.2,542.8 L61.1,541.8 L60.0,540.8 L58.9,539.7 L57.9,538.7 L57.0,537.7 L56.0,536.7 L55.1,535.6 L54.1,534.6 L53.2,533.6 L52.2,532.6 L51.3,531.5 L50.3,530.5 L49.4,529.5 L48.5,528.4 L47.7,527.4 L46.8,526.4 L46.0,525.3 L45.1,524.3 L44.3,523.2 L43.4,522.2 L42.6,521.2 L41.7,520.1 L40.9,519.1 L40.2,518.0 L39.5,517.0 L38.8,515.9 L38.0,514.9 L37.3,513.8 L36.6,512.8 L35.9,511.8 L35.2,510.7 L34.5,509.7 L33.8,508.6 L33.2,507.6 L32.6,506.5 L32.1,505.5 L31.5,504.4 L30.9,503.3 L30.3,502.3 L29.7,501.2 L29.2,500.2 L28.6,499.1 L28.0,498.1 L27.6,497.0 L27.1,496.0 L26.7,494.9 L26.3,493.9 L25.8,492.8 L25.4,491.8 L25.0,490.7 L24.5,489.7 L24.1,488.6 L23.6,487.6 L23.3,486.5 L23.0,485.5 L22.7,484.4 L22.4,483.4 L22.1,482.3 L21.8,481.3 L21.5,480.2 L21.2,479.2 L20.9,478.1 L20.6,477.1 L20.3,476.0 L20.0,475.0 L19.8,473.9 L19.5,472.9 L19.3,471.8 L19.0,470.8 L18.7,469.7 L18.5,468.6 L18.2,467.6 L18.0,466.5 L17.8,465.5 L17.6,464.4 L17.4,463.4 L17.2,462.3 L17.0,461.3 L16.9,460.2 L16.7,459.2 L16.5,458.1 L16.3,457.1 L16.1,456.0 L16.0,455.0 L15.9,453.9 L15.8,452.9 L15.7,451.8 L15.6,450.8 L15.5,449.7 L15.4,448.7 L15.3,447.6 L15.2,446.6 L15.1,445.5 L15.0,444.5 L15.0,443.4 L14.9,442.4 L14.9,441.3 L14.8,440.3 L14.8,439.2 L14.7,438.2 L14.7,437.1 L14.6,436.1 L14.6,435.0 L14.6,433.9 L14.7,432.9 L14.7,431.8 L14.8,430.8 L14.8,429.7 L14.9,428.7 L14.9,427.6 L15.0,426.6 L15.0,425.5 L15.1,424.5 L15.2,423.4 L15.3,422.4 L15.4,421.3 L15.5,420.3 L15.6,419.2 L15.7,418.2 L15.8,417.1 L15.9,416.1 L16.0,415.0 L16.1,414.0 L16.3,412.9 L16.5,411.9 L16.7,410.8 L16.9,409.8 L17.0,408.7 L17.2,407.7 L17.4,406.6 L17.6,405.6 L17.8,404.5 L18.0,403.5 L18.2,402.4 L18.5,401.4 L18.7,400.3 L19.0,399.2 L19.3,398.2 L19.5,397.1 L19.8,396.1 L20.0,395.0 L20.3,394.0 L20.6,392.9 L20.9,391.9 L21.2,390.8 L21.5,389.8 L21.8,388.7 L22.1,387.7 L22.4,386.6 L22.7,385.6 L23.0,384.5 L23.3,383.5 L23.6,382.4 L24.1,381.4 L24.5,380.3 L25.0,379.3 L25.4,378.2 L25.8,377.2 L26.3,376.1 L26.7,375.1 L27.1,374.0 L27.6,373.0 L28.0,371.9 L28.6,370.9 L29.2,369.8 L29.7,368.8 L30.3,367.7 L30.9,366.7 L31.5,365.6 L32.1,364.5 L32.6,363.5 L33.2,362.4 L33.8,361.4 L34.5,360.3 L35.2,359.3 L35.9,358.2 L36.6,357.2 L37.3,356.2 L38.0,355.1 L38.8,354.1 L39.5,353.0 L40.2,352.0 L40.9,350.9 L41.7,349.9 L42.6,348.8 L43.4,347.8 L44.3,346.8 L45.1,345.7 L46.0,344.7 L46.8,343.6 L47.7,342.6 L48.5,341.6 L49.4,340.5 L50.3,339.5 L51.3,338.5 L52.2,337.4 L53.2,336.4 L54.1,335.4 L55.1,334.4 L56.0,333.3 L57.0,332.3 L57.9,331.3 L58.9,330.3 L60.0,329.2 L61.1,328.2 L62.2,327.2 L63.3,326.2 L64.4,325.2 L65.5,324.2 L66.6,323.2 L67.7,322.2 L68.8,321.2 L69.9,320.2 L71.1,319.2 L72.3,318.2 L73.6,317.3 L74.8,316.3 L76.0,315.3 L77.2,314.3 L78.4,313.3 L79.6,312.4 L80.9,311.4 L82.1,310.4 L83.4,309.5 L84.7,308.5 L86.0,307.6 L87.3,306.6 L88.6,305.7 L89.9,304.7 L91.2,303.8 L92.5,302.9 L93.8,301.9 L95.1,301.0 L96.5,300.1 L97.9,299.2 L99.3,298.3 L100.6,297.4 L102.0,296.5 L103.4,295.6 L104.8,294.6 L106.1,293.7 L107.5,292.8 L108.9,291.9 L110.4,291.1 L111.9,290.2 L113.5,289.4 L115.0,288.5 L116.5,287.7 L118.0,286.8 L119.5,286.0 L121.1,285.1 L122.6,284.3 L124.1,283.4 L125.8,282.7 L127.6,281.9 L129.3,281.1 L131.1,280.3 L132.8,279.6 L134.5,278.8 L136.3,278.0 L138.0,277.2 L139.8,276.5 L141.5,275.7 L143.1,275.1 L144.8,274.4 L146.4,273.8 L148.1,273.2 L149.7,272.6 L151.4,271.9 L153.0,271.3 L154.7,270.7 L156.3,270.1 L158.0,269.5 L159.3,269.0 L160.6,268.6 L162.0,268.2 L163.3,267.8 L164.7,267.4 L166.0,267.0 L167.3,266.6 L168.7,266.2 L170.0,265.8 L171.4,265.4 L528.0,265.4 L529.4,265.8 L530.7,266.2 L532.1,266.6 L533.4,267.0 L534.7,267.4 L536.1,267.8 L537.4,268.2 L538.8,268.6 L540.1,269.0 L541.4,269.5 L543.1,270.1 L544.7,270.7 L546.4,271.3 L548.0,271.9 L549.7,272.6 L551.3,273.2 L553.0,273.8 L554.6,274.4 L556.3,275.1 L557.9,275.7 L559.6,276.5 L561.4,277.2 L563.1,278.0 L564.9,278.8 L566.6,279.6 L568.3,280.3 L570.1,281.1 L571.8,281.9 L573.6,282.7 L575.3,283.4 L576.8,284.3 L578.3,285.1 L579.9,286.0 L581.4,286.8 L582.9,287.7 L584.4,288.5 L585.9,289.4 L587.5,290.2 L589.0,291.1 L590.5,291.9 L591.9,292.8 L593.3,293.7 L594.6,294.6 L596.0,295.6 L597.4,296.5 L598.8,297.4 L600.1,298.3 L601.5,299.2 L602.9,300.1 L604.3,301.0 L605.6,301.9 L606.9,302.9 L608.2,303.8 L609.5,304.7 L610.8,305.7 L612.1,306.6 L613.4,307.6 L614.7,308.5 L616.0,309.5 L617.3,310.4 L618.5,311.4 L619.8,312.4 L621.0,313.3 L622.2,314.3 L623.4,315.3 L624.6,316.3 L625.8,317.3 L627.1,318.2 L628.3,319.2 L629.5,320.2 L630.6,321.2 L631.7,322.2 L632.8,323.2 L633.9,324.2 L635.0,325.2 L636.1,326.2 L637.2,327.2 L638.3,328.2 L639.4,329.2 L640.5,330.3 L641.5,331.3 L642.4,332.3 L643.4,333.3 L644.3,334.4 L645.3,335.4 L646.2,336.4 L647.2,337.4 L648.1,338.5 L649.1,339.5 L650.0,340.5 L650.9,341.6 L651.7,342.6 L652.6,343.6 L653.4,344.7 L654.3,345.7 L655.1,346.8 L656.0,347.8 L656.8,348.8 L657.7,349.9 L658.5,350.9 L659.2,352.0 L659.9,353.0 L660.6,354.1 L661.4,355.1 L662.1,356.2 L662.8,357.2 L663.5,358.2 L664.2,359.3 L664.9,360.3 L665.6,361.4 L666.2,362.4 L666.8,363.5 L667.3,364.5 L667.9,365.6 L668.5,366.7 L669.1,367.7 L669.7,368.8 L670.2,369.8 L670.8,370.9 L671.4,371.9 L671.8,373.0 L672.3,374.0 L672.7,375.1 L673.1,376.1 L673.6,377.2 L674.0,378.2 L674.4,379.3 L674.9,380.3 L675.3,381.4 L675.8,382.4 L676.1,383.5 L676.4,384.5 L676.7,385.6 L677.0,386.6 L677.3,387.7 L677.6,388.7 L677.9,389.8 L678.2,390.8 L678.5,391.9 L678.8,392.9 L679.1,394.0 L679.4,395.0 L679.6,396.1 L679.9,397.1 L680.1,398.2 L680.4,399.2 L680.7,400.3 L680.9,401.4 L681.2,402.4 L681.4,403.5 L681.6,404.5 L681.8,405.6 L682.0,406.6 L682.2,407.7 L682.4,408.7 L682.5,409.8 L682.7,410.8 L682.9,411.9 L683.1,412.9 L683.3,414.0 L683.4,415.0 L683.5,416.1 L683.6,417.1 L683.7,418.2 L683.8,419.2 L683.9,420.3 L684.0,421.3 L684.1,422.4 L684.2,423.4 L684.3,424.5 L684.4,425.5 L684.4,426.6 L684.5,427.6 L684.5,428.7 L684.6,429.7 L684.6,430.8 L684.7,431.8 L684.7,432.9 L684.8,433.9 L684.8,435.0 L684.8,436.1 L684.7,437.1 L684.7,438.2 L684.6,439.2 L684.6,440.3 L684.5,441.3 L684.5,442.4 L684.4,443.4 L684.4,444.5 L684.3,445.5 L684.2,446.6 L684.1,447.6 L684.0,448.7 L683.9,449.7 L683.8,450.8 L683.7,451.8 L683.6,452.9 L683.5,453.9 L683.4,455.0 L683.3,456.0 L683.1,457.1 L682.9,458.1 L682.7,459.2 L682.5,460.2 L682.4,461.3 L682.2,462.3 L682.0,463.4 L681.8,464.4 L681.6,465.5 L681.4,466.5 L681.2,467.6 L680.9,468.6 L680.7,469.7 L680.4,470.8 L680.1,471.8 L679.9,472.9 L679.6,473.9 L679.4,475.0 L679.1,476.0 L678.8,477.1 L678.5,478.1 L678.2,479.2 L677.9,480.2 L677.6,481.3 L677.3,482.3 L677.0,483.4 L676.7,484.4 L676.4,485.5 L676.1,486.5 L675.8,487.6 L675.3,488.6 L674.9,489.7 L674.4,490.7 L674.0,491.8 L673.6,492.8 L673.1,493.9 L672.7,494.9 L672.3,496.0 L671.8,497.0 L671.4,498.1 L670.8,499.1 L670.2,500.2 L669.7,501.2 L669.1,502.3 L668.5,503.3 L667.9,504.4 L667.3,505.5 L666.8,506.5 L666.2,507.6 L665.6,508.6 L664.9,509.7 L664.2,510.7 L663.5,511.8 L662.8,512.8 L662.1,513.8 L661.4,514.9 L660.6,515.9 L659.9,517.0 L659.2,518.0 L658.5,519.1 L657.7,520.1 L656.8,521.2 L656.0,522.2 L655.1,523.2 L654.3,524.3 L653.4,525.3 L652.6,526.4 L651.7,527.4 L650.9,528.4 L650.0,529.5 L649.1,530.5 L648.1,531.5 L647.2,532.6 L646.2,533.6 L645.3,534.6 L644.3,535.6 L643.4,536.7 L642.4,537.7 L641.5,538.7 L640.5,539.7 L639.4,540.8 L638.3,541.8 L637.2,542.8 L636.1,543.8 L635.0,544.8 L633.9,545.8 L632.8,546.8 L631.7,547.8 L630.6,548.8 L629.5,549.8 L628.3,550.8 L627.1,551.8 L625.8,552.7 L624.6,553.7 L623.4,554.7 L622.2,555.7 L621.0,556.7 L619.8,557.6 L618.5,558.6 L617.3,559.6 L616.0,560.5 L614.7,561.5 L613.4,562.4 L612.1,563.4 L610.8,564.3 L609.5,565.3 L608.2,566.2 L606.9,567.1 L605.6,568.1 L604.3,569.0 L602.9,569.9 L601.5,570.8 L600.1,571.7 L598.8,572.6 L597.4,573.5 L596.0,574.4 L594.6,575.4 L593.3,576.3 L591.9,577.2 L590.5,578.1 L589.0,578.9 L587.5,579.8 L585.9,580.6 L584.4,581.5 L582.9,582.3 L581.4,583.2 L579.9,584.0 L578.3,584.9 L576.8,585.7 L575.3,586.6 L573.6,587.3 L571.8,588.1 L570.1,588.9 L568.3,589.7 L566.6,590.4 L564.9,591.2 L563.1,592.0 L561.4,592.8 L559.6,593.5 L557.9,594.3 L556.3,594.9 L554.6,595.6 L553.0,596.2 L551.3,596.8 L549.7,597.4 L548.0,598.1 L546.4,598.7 L544.7,599.3 L543.1,599.9 L541.4,600.5 L540.1,601.0 L538.8,601.4 L537.4,601.8 L536.1,602.2 L534.7,602.6 L533.4,603.0 L532.1,603.4 L530.7,603.8 L529.4,604.2 L528.0,604.6Z" fill="none" stroke="#4a4a4a" stroke-width="0.8"/>
<text x="50.3" y="313.3" font-size="9.0" text-anchor="start" fill="#222" font-weight="normal" >60° N</text>
<text x="0.5" y="374.6" font-size="9.0" text-anchor="start" fill="#222" font-weight="normal" >30° N</text>
<text x="3.0" y="437.6" font-size="9.0" text-anchor="start" fill="#222" font-weight="normal" >0°</text>
<text x="0.7" y="501.3" font-size="9.0" text-anchor="start" fill="#222" font-weight="normal" >30° S</text>
<text x="50.5" y="562.8" font-size="9.0" text-anchor="start" fill="#222" font-weight="normal" >60° S</text>
<text x="166.3" y="614.5" font-size="9.0" text-anchor="middle" fill="#222" font-weight="normal" >0°</text>
<text x="229.8" y="614.5" font-size="9.0" text-anchor="middle" fill="#222" font-weight="normal" >60° E</text>
<text x="287.8" y="614.5" font-size="9.0" text-anchor="middle" fill="#222" font-weight="normal" >120° E</text>
<text x="346.6" y="614.5" font-size="9.0" text-anchor="middle" fill="#222" font-weight="normal" >180°</text>
<text x="405.8" y="614.5" font-size="9.0" text-anchor="middle" fill="#222" font-weight="normal" >120° W</text>
<text x="466.2" y="614.5" font-size="9.0" text-anchor="middle" fill="#222" font-weight="normal" >60° W</text>
<text x="527.8" y="614.5" font-size="9.0" text-anchor="middle" fill="#222" font-weight="normal" >0°</text>
<path d="M218.60,82.14 L222.59,81.27 L226.58,80.39 L230.57,79.49 L234.56,78.57 L238.55,77.64 L242.54,76.69 L246.53,75.73 L250.52,74.75 L254.51,73.76 L258.50,72.75 L262.49,71.73 L266.48,70.69 L270.47,69.63 L274.46,68.56 L278.45,67.47 L282.44,66.37 L286.43,65.25 L290.42,64.12 L294.41,62.97 L298.40,61.81 L302.39,60.63 L306.38,59.43 L310.37,58.22 L314.36,57.00 L318.35,55.75 L322.34,54.50 L326.33,53.22 L330.32,51.94 L334.31,50.63 L338.30,49.31 L338.30,55.34 L334.31,56.19 L330.32,57.05 L326.33,57.93 L322.34,58.83 L318.35,59.74 L314.36,60.66 L310.37,61.60 L306.38,62.56 L302.39,63.53 L298.40,64.52 L294.41,65.52 L290.42,66.54 L286.43,67.58 L282.44,68.63 L278.45,69.69 L274.46,70.77 L270.47,71.87 L266.48,72.98 L262.49,74.11 L258.50,75.25 L254.51,76.41 L250.52,77.59 L246.53,78.78 L242.54,79.98 L238.55,81.20 L234.56,82.44 L230.57,83.69 L226.58,84.96 L222.59,86.24 L218.60,87.54Z" fill="#f7a0a0" fill-opacity="0.55"/>
<path d="M218.60,21.40 L338.30,21.40 L338.30,100.70 L218.60,100.70Z" fill="none" stroke="#9c9c9c" stroke-width="1.1"/>
<line x1="218.60" y1="84.84" x2="338.30" y2="52.33" stroke="#e8262b" stroke-width="1.3" stroke-dasharray="3,1.8"/>
<polyline points="218.60,78.34 224.59,78.65 230.57,78.81 236.56,77.86 242.54,77.39 248.53,76.75 254.51,75.96 260.50,75.17 266.48,73.58 272.47,71.83 278.45,70.57 284.44,69.61 290.42,68.35 296.40,66.92 302.39,65.01 308.38,63.11 314.36,60.10 320.35,57.24 326.33,53.44 332.31,48.04 338.30,44.08" fill="none" stroke="#e8262b" stroke-width="1.45" stroke-linejoin="round"/>
<circle cx="218.60" cy="78.34" r="1.35" fill="#111"/>
<circle cx="224.59" cy="78.65" r="1.35" fill="#111"/>
<circle cx="230.57" cy="78.81" r="1.35" fill="#111"/>
<circle cx="236.56" cy="77.86" r="1.35" fill="#111"/>
<circle cx="242.54" cy="77.39" r="1.35" fill="#111"/>
<circle cx="248.53" cy="76.75" r="1.35" fill="#111"/>
<circle cx="254.51" cy="75.96" r="1.35" fill="#111"/>
<circle cx="260.50" cy="75.17" r="1.35" fill="#111"/>
<circle cx="266.48" cy="73.58" r="1.35" fill="#111"/>
<circle cx="272.47" cy="71.83" r="1.35" fill="#111"/>
<circle cx="278.45" cy="70.57" r="1.35" fill="#111"/>
<circle cx="284.44" cy="69.61" r="1.35" fill="#111"/>
<circle cx="290.42" cy="68.35" r="1.35" fill="#111"/>
<circle cx="296.40" cy="66.92" r="1.35" fill="#111"/>
<circle cx="302.39" cy="65.01" r="1.35" fill="#111"/>
<circle cx="308.38" cy="63.11" r="1.35" fill="#111"/>
<circle cx="314.36" cy="60.10" r="1.35" fill="#111"/>
<circle cx="320.35" cy="57.24" r="1.35" fill="#111"/>
<circle cx="326.33" cy="53.44" r="1.35" fill="#111"/>
<circle cx="332.31" cy="48.04" r="1.35" fill="#111"/>
<circle cx="338.30" cy="44.08" r="1.35" fill="#111"/>
<line x1="216.10" y1="100.70" x2="218.60" y2="100.70" stroke="#333" stroke-width="0.75"/>
<text x="212.30" y="103.54" font-size="7.9" text-anchor="end" fill="#333" font-weight="normal" >3.0</text>
<line x1="216.10" y1="84.84" x2="218.60" y2="84.84" stroke="#333" stroke-width="0.75"/>
<text x="212.30" y="87.68" font-size="7.9" text-anchor="end" fill="#333" font-weight="normal" >4.0</text>
<line x1="216.10" y1="68.98" x2="218.60" y2="68.98" stroke="#333" stroke-width="0.75"/>
<text x="212.30" y="71.82" font-size="7.9" text-anchor="end" fill="#333" font-weight="normal" >5.0</text>
<line x1="216.10" y1="53.12" x2="218.60" y2="53.12" stroke="#333" stroke-width="0.75"/>
<text x="212.30" y="55.96" font-size="7.9" text-anchor="end" fill="#333" font-weight="normal" >6.0</text>
<line x1="216.10" y1="37.26" x2="218.60" y2="37.26" stroke="#333" stroke-width="0.75"/>
<text x="212.30" y="40.10" font-size="7.9" text-anchor="end" fill="#333" font-weight="normal" >7.0</text>
<line x1="216.10" y1="21.40" x2="218.60" y2="21.40" stroke="#333" stroke-width="0.75"/>
<text x="212.30" y="24.24" font-size="7.9" text-anchor="end" fill="#333" font-weight="normal" >8.0</text>
<line x1="218.60" y1="100.70" x2="218.60" y2="103.20" stroke="#333" stroke-width="0.75"/>
<text x="218.60" y="112.70" font-size="7.9" text-anchor="middle" fill="#333" font-weight="normal" >–60</text>
<line x1="242.54" y1="100.70" x2="242.54" y2="103.20" stroke="#333" stroke-width="0.75"/>
<text x="242.54" y="112.70" font-size="7.9" text-anchor="middle" fill="#333" font-weight="normal" >–48</text>
<line x1="266.48" y1="100.70" x2="266.48" y2="103.20" stroke="#333" stroke-width="0.75"/>
<text x="266.48" y="112.70" font-size="7.9" text-anchor="middle" fill="#333" font-weight="normal" >–36</text>
<line x1="290.42" y1="100.70" x2="290.42" y2="103.20" stroke="#333" stroke-width="0.75"/>
<text x="290.42" y="112.70" font-size="7.9" text-anchor="middle" fill="#333" font-weight="normal" >–24</text>
<line x1="314.36" y1="100.70" x2="314.36" y2="103.20" stroke="#333" stroke-width="0.75"/>
<text x="314.36" y="112.70" font-size="7.9" text-anchor="middle" fill="#333" font-weight="normal" >–12</text>
<line x1="338.30" y1="100.70" x2="338.30" y2="103.20" stroke="#333" stroke-width="0.75"/>
<text x="338.30" y="112.70" font-size="7.9" text-anchor="middle" fill="#333" font-weight="normal" >0</text>
<text x="182.90" y="9.20" font-size="11.8" text-anchor="start" fill="#000" font-weight="bold" stroke="#000" stroke-width="0.55" stroke-linejoin="round">a</text>
<text x="337.70" y="10.80" font-size="7.3" text-anchor="end" fill="#222" font-weight="normal" ><tspan font-style="italic">P</tspan> &lt; 0.001</text>
<text x="337.70" y="18.60" font-size="7.3" text-anchor="end" fill="#222" font-weight="normal" ><tspan font-style="italic">R</tspan><tspan dy="-2.77" font-size="4.53">2</tspan><tspan dy="2.77"> = 0.89</tspan></text>
<text x="300.80" y="18.80" font-size="7.3" text-anchor="end" fill="#222" font-weight="normal" >Global: 1,803 TCs</text>
<text x="232.50" y="36.80" font-size="7.7" text-anchor="start" fill="#e3161e" font-weight="normal" >0.79 ±  0.07 (m s<tspan dy="-3.08" font-size="4.00">−1</tspan><tspan dy="3.08"> d<tspan dy="-3.08" font-size="4.00">−1</tspan><tspan dy="3.08">)</tspan></tspan></text>
<text transform="translate(196.00,61.05) rotate(-90)" font-size="8.7" text-anchor="middle" fill="#222">Speed (m s<tspan dy="-3.13" font-size="5.39">−1</tspan><tspan dy="3.13">)</tspan></text>
<text x="278.45" y="124.50" font-size="8.7" text-anchor="middle" fill="#222" font-weight="normal" >Time (h)</text>
<path d="M391.60,78.65 L395.56,77.71 L399.53,76.76 L403.49,75.79 L407.45,74.81 L411.42,73.81 L415.38,72.79 L419.34,71.76 L423.31,70.72 L427.27,69.66 L431.23,68.58 L435.20,67.49 L439.16,66.38 L443.12,65.26 L447.09,64.12 L451.05,62.97 L455.01,61.80 L458.98,60.62 L462.94,59.42 L466.90,58.20 L470.87,56.97 L474.83,55.73 L478.79,54.47 L482.76,53.19 L486.72,51.90 L490.68,50.59 L494.65,49.27 L498.61,47.93 L502.57,46.58 L506.54,45.21 L510.50,43.82 L510.50,49.81 L506.54,50.73 L502.57,51.66 L498.61,52.61 L494.65,53.57 L490.68,54.55 L486.72,55.54 L482.76,56.55 L478.79,57.57 L474.83,58.61 L470.87,59.67 L466.90,60.74 L462.94,61.83 L458.98,62.93 L455.01,64.04 L451.05,65.18 L447.09,66.32 L443.12,67.49 L439.16,68.67 L435.20,69.86 L431.23,71.07 L427.27,72.29 L423.31,73.53 L419.34,74.79 L415.38,76.06 L411.42,77.35 L407.45,78.65 L403.49,79.97 L399.53,81.30 L395.56,82.65 L391.60,84.01Z" fill="#f7a0a0" fill-opacity="0.55"/>
<path d="M391.60,21.60 L510.50,21.60 L510.50,100.40 L391.60,100.40Z" fill="none" stroke="#9c9c9c" stroke-width="1.1"/>
<line x1="391.60" y1="81.33" x2="510.50" y2="46.82" stroke="#e8262b" stroke-width="1.3" stroke-dasharray="3,1.8"/>
<polyline points="391.60,75.34 397.55,75.66 403.49,75.66 409.44,75.03 415.38,74.40 421.33,73.61 427.27,73.14 433.22,71.87 439.16,70.46 445.11,68.56 451.05,67.46 457.00,65.89 462.94,64.31 468.88,62.58 474.83,60.53 480.77,58.16 486.72,55.33 492.67,52.17 498.61,48.55 504.56,42.72 510.50,38.15" fill="none" stroke="#e8262b" stroke-width="1.45" stroke-linejoin="round"/>
<circle cx="391.60" cy="75.34" r="1.35" fill="#111"/>
<circle cx="397.55" cy="75.66" r="1.35" fill="#111"/>
<circle cx="403.49" cy="75.66" r="1.35" fill="#111"/>
<circle cx="409.44" cy="75.03" r="1.35" fill="#111"/>
<circle cx="415.38" cy="74.40" r="1.35" fill="#111"/>
<circle cx="421.33" cy="73.61" r="1.35" fill="#111"/>
<circle cx="427.27" cy="73.14" r="1.35" fill="#111"/>
<circle cx="433.22" cy="71.87" r="1.35" fill="#111"/>
<circle cx="439.16" cy="70.46" r="1.35" fill="#111"/>
<circle cx="445.11" cy="68.56" r="1.35" fill="#111"/>
<circle cx="451.05" cy="67.46" r="1.35" fill="#111"/>
<circle cx="457.00" cy="65.89" r="1.35" fill="#111"/>
<circle cx="462.94" cy="64.31" r="1.35" fill="#111"/>
<circle cx="468.88" cy="62.58" r="1.35" fill="#111"/>
<circle cx="474.83" cy="60.53" r="1.35" fill="#111"/>
<circle cx="480.77" cy="58.16" r="1.35" fill="#111"/>
<circle cx="486.72" cy="55.33" r="1.35" fill="#111"/>
<circle cx="492.67" cy="52.17" r="1.35" fill="#111"/>
<circle cx="498.61" cy="48.55" r="1.35" fill="#111"/>
<circle cx="504.56" cy="42.72" r="1.35" fill="#111"/>
<circle cx="510.50" cy="38.15" r="1.35" fill="#111"/>
<line x1="389.10" y1="100.40" x2="391.60" y2="100.40" stroke="#333" stroke-width="0.75"/>
<text x="385.30" y="103.24" font-size="7.9" text-anchor="end" fill="#333" font-weight="normal" >3.0</text>
<line x1="389.10" y1="84.64" x2="391.60" y2="84.64" stroke="#333" stroke-width="0.75"/>
<text x="385.30" y="87.48" font-size="7.9" text-anchor="end" fill="#333" font-weight="normal" >4.0</text>
<line x1="389.10" y1="68.88" x2="391.60" y2="68.88" stroke="#333" stroke-width="0.75"/>
<text x="385.30" y="71.72" font-size="7.9" text-anchor="end" fill="#333" font-weight="normal" >5.0</text>
<line x1="389.10" y1="53.12" x2="391.60" y2="53.12" stroke="#333" stroke-width="0.75"/>
<text x="385.30" y="55.96" font-size="7.9" text-anchor="end" fill="#333" font-weight="normal" >6.0</text>
<line x1="389.10" y1="37.36" x2="391.60" y2="37.36" stroke="#333" stroke-width="0.75"/>
<text x="385.30" y="40.20" font-size="7.9" text-anchor="end" fill="#333" font-weight="normal" >7.0</text>
<line x1="389.10" y1="21.60" x2="391.60" y2="21.60" stroke="#333" stroke-width="0.75"/>
<text x="385.30" y="24.44" font-size="7.9" text-anchor="end" fill="#333" font-weight="normal" >8.0</text>
<line x1="391.60" y1="100.40" x2="391.60" y2="102.90" stroke="#333" stroke-width="0.75"/>
<text x="391.60" y="112.40" font-size="7.9" text-anchor="middle" fill="#333" font-weight="normal" >–60</text>
<line x1="415.38" y1="100.40" x2="415.38" y2="102.90" stroke="#333" stroke-width="0.75"/>
<text x="415.38" y="112.40" font-size="7.9" text-anchor="middle" fill="#333" font-weight="normal" >–48</text>
<line x1="439.16" y1="100.40" x2="439.16" y2="102.90" stroke="#333" stroke-width="0.75"/>
<text x="439.16" y="112.40" font-size="7.9" text-anchor="middle" fill="#333" font-weight="normal" >–36</text>
<line x1="462.94" y1="100.40" x2="462.94" y2="102.90" stroke="#333" stroke-width="0.75"/>
<text x="462.94" y="112.40" font-size="7.9" text-anchor="middle" fill="#333" font-weight="normal" >–24</text>
<line x1="486.72" y1="100.40" x2="486.72" y2="102.90" stroke="#333" stroke-width="0.75"/>
<text x="486.72" y="112.40" font-size="7.9" text-anchor="middle" fill="#333" font-weight="normal" >–12</text>
<line x1="510.50" y1="100.40" x2="510.50" y2="102.90" stroke="#333" stroke-width="0.75"/>
<text x="510.50" y="112.40" font-size="7.9" text-anchor="middle" fill="#333" font-weight="normal" >0</text>
<text x="355.70" y="9.40" font-size="11.8" text-anchor="start" fill="#000" font-weight="bold" stroke="#000" stroke-width="0.55" stroke-linejoin="round">b</text>
<text x="509.90" y="11.00" font-size="7.3" text-anchor="end" fill="#222" font-weight="normal" ><tspan font-style="italic">P</tspan> &lt; 0.001</text>
<text x="509.90" y="18.80" font-size="7.3" text-anchor="end" fill="#222" font-weight="normal" ><tspan font-style="italic">R</tspan><tspan dy="-2.77" font-size="4.53">2</tspan><tspan dy="2.77"> = 0.89</tspan></text>
<text x="473.00" y="19.00" font-size="7.3" text-anchor="end" fill="#222" font-weight="normal" >NH: 1,367 TCs</text>
<text x="404.50" y="37.00" font-size="7.7" text-anchor="start" fill="#e3161e" font-weight="normal" >0.86 ±  0.07 (m s<tspan dy="-3.08" font-size="4.00">−1</tspan><tspan dy="3.08"> d<tspan dy="-3.08" font-size="4.00">−1</tspan><tspan dy="3.08">)</tspan></tspan></text>
<text transform="translate(369.00,61.00) rotate(-90)" font-size="8.7" text-anchor="middle" fill="#222">Speed (m s<tspan dy="-3.13" font-size="5.39">−1</tspan><tspan dy="3.13">)</tspan></text>
<text x="451.05" y="124.20" font-size="8.7" text-anchor="middle" fill="#222" font-weight="normal" >Time (h)</text>
<path d="M218.40,220.06 L222.37,219.41 L226.35,218.75 L230.32,218.08 L234.29,217.40 L238.27,216.70 L242.24,216.00 L246.21,215.28 L250.19,214.55 L254.16,213.81 L258.13,213.06 L262.11,212.30 L266.08,211.52 L270.05,210.74 L274.03,209.94 L278.00,209.13 L281.97,208.31 L285.95,207.48 L289.92,206.64 L293.89,205.79 L297.87,204.93 L301.84,204.05 L305.81,203.17 L309.79,202.27 L313.76,201.36 L317.73,200.44 L321.71,199.51 L325.68,198.57 L329.65,197.61 L333.63,196.65 L337.60,195.67 L337.60,200.10 L333.63,200.73 L329.65,201.37 L325.68,202.02 L321.71,202.69 L317.73,203.36 L313.76,204.05 L309.79,204.74 L305.81,205.45 L301.84,206.17 L297.87,206.90 L293.89,207.64 L289.92,208.39 L285.95,209.16 L281.97,209.93 L278.00,210.72 L274.03,211.52 L270.05,212.32 L266.08,213.14 L262.11,213.98 L258.13,214.82 L254.16,215.67 L250.19,216.54 L246.21,217.41 L242.24,218.30 L238.27,219.20 L234.29,220.11 L230.32,221.03 L226.35,221.97 L222.37,222.91 L218.40,223.86Z" fill="#f7a0a0" fill-opacity="0.55"/>
<path d="M218.40,149.10 L337.60,149.10 L337.60,228.30 L218.40,228.30Z" fill="none" stroke="#9c9c9c" stroke-width="1.1"/>
<line x1="218.40" y1="221.96" x2="337.60" y2="197.89" stroke="#e8262b" stroke-width="1.3" stroke-dasharray="3,1.8"/>
<polyline points="218.40,218.00 224.36,218.00 230.32,218.32 236.28,217.37 242.24,217.37 248.20,217.37 254.16,216.26 260.12,215.15 266.08,214.04 272.04,212.94 278.00,211.67 283.96,211.35 289.92,210.56 295.88,209.45 301.84,208.98 307.80,207.55 313.76,204.70 319.72,201.06 325.68,197.25 331.64,193.29 337.60,190.92" fill="none" stroke="#e8262b" stroke-width="1.45" stroke-linejoin="round"/>
<circle cx="218.40" cy="218.00" r="1.35" fill="#111"/>
<circle cx="224.36" cy="218.00" r="1.35" fill="#111"/>
<circle cx="230.32" cy="218.32" r="1.35" fill="#111"/>
<circle cx="236.28" cy="217.37" r="1.35" fill="#111"/>
<circle cx="242.24" cy="217.37" r="1.35" fill="#111"/>
<circle cx="248.20" cy="217.37" r="1.35" fill="#111"/>
<circle cx="254.16" cy="216.26" r="1.35" fill="#111"/>
<circle cx="260.12" cy="215.15" r="1.35" fill="#111"/>
<circle cx="266.08" cy="214.04" r="1.35" fill="#111"/>
<circle cx="272.04" cy="212.94" r="1.35" fill="#111"/>
<circle cx="278.00" cy="211.67" r="1.35" fill="#111"/>
<circle cx="283.96" cy="211.35" r="1.35" fill="#111"/>
<circle cx="289.92" cy="210.56" r="1.35" fill="#111"/>
<circle cx="295.88" cy="209.45" r="1.35" fill="#111"/>
<circle cx="301.84" cy="208.98" r="1.35" fill="#111"/>
<circle cx="307.80" cy="207.55" r="1.35" fill="#111"/>
<circle cx="313.76" cy="204.70" r="1.35" fill="#111"/>
<circle cx="319.72" cy="201.06" r="1.35" fill="#111"/>
<circle cx="325.68" cy="197.25" r="1.35" fill="#111"/>
<circle cx="331.64" cy="193.29" r="1.35" fill="#111"/>
<circle cx="337.60" cy="190.92" r="1.35" fill="#111"/>
<line x1="215.90" y1="228.30" x2="218.40" y2="228.30" stroke="#333" stroke-width="0.75"/>
<text x="212.10" y="231.14" font-size="7.9" text-anchor="end" fill="#333" font-weight="normal" >3.0</text>
<line x1="215.90" y1="212.46" x2="218.40" y2="212.46" stroke="#333" stroke-width="0.75"/>
<text x="212.10" y="215.30" font-size="7.9" text-anchor="end" fill="#333" font-weight="normal" >4.0</text>
<line x1="215.90" y1="196.62" x2="218.40" y2="196.62" stroke="#333" stroke-width="0.75"/>
<text x="212.10" y="199.46" font-size="7.9" text-anchor="end" fill="#333" font-weight="normal" >5.0</text>
<line x1="215.90" y1="180.78" x2="218.40" y2="180.78" stroke="#333" stroke-width="0.75"/>
<text x="212.10" y="183.62" font-size="7.9" text-anchor="end" fill="#333" font-weight="normal" >6.0</text>
<line x1="215.90" y1="164.94" x2="218.40" y2="164.94" stroke="#333" stroke-width="0.75"/>
<text x="212.10" y="167.78" font-size="7.9" text-anchor="end" fill="#333" font-weight="normal" >7.0</text>
<line x1="215.90" y1="149.10" x2="218.40" y2="149.10" stroke="#333" stroke-width="0.75"/>
<text x="212.10" y="151.94" font-size="7.9" text-anchor="end" fill="#333" font-weight="normal" >8.0</text>
<line x1="218.40" y1="228.30" x2="218.40" y2="230.80" stroke="#333" stroke-width="0.75"/>
<text x="218.40" y="240.30" font-size="7.9" text-anchor="middle" fill="#333" font-weight="normal" >–60</text>
<line x1="242.24" y1="228.30" x2="242.24" y2="230.80" stroke="#333" stroke-width="0.75"/>
<text x="242.24" y="240.30" font-size="7.9" text-anchor="middle" fill="#333" font-weight="normal" >–48</text>
<line x1="266.08" y1="228.30" x2="266.08" y2="230.80" stroke="#333" stroke-width="0.75"/>
<text x="266.08" y="240.30" font-size="7.9" text-anchor="middle" fill="#333" font-weight="normal" >–36</text>
<line x1="289.92" y1="228.30" x2="289.92" y2="230.80" stroke="#333" stroke-width="0.75"/>
<text x="289.92" y="240.30" font-size="7.9" text-anchor="middle" fill="#333" font-weight="normal" >–24</text>
<line x1="313.76" y1="228.30" x2="313.76" y2="230.80" stroke="#333" stroke-width="0.75"/>
<text x="313.76" y="240.30" font-size="7.9" text-anchor="middle" fill="#333" font-weight="normal" >–12</text>
<line x1="337.60" y1="228.30" x2="337.60" y2="230.80" stroke="#333" stroke-width="0.75"/>
<text x="337.60" y="240.30" font-size="7.9" text-anchor="middle" fill="#333" font-weight="normal" >0</text>
<text x="182.90" y="136.90" font-size="11.8" text-anchor="start" fill="#000" font-weight="bold" stroke="#000" stroke-width="0.55" stroke-linejoin="round">c</text>
<text x="337.00" y="138.50" font-size="7.3" text-anchor="end" fill="#222" font-weight="normal" ><tspan font-style="italic">P</tspan> &lt; 0.001</text>
<text x="337.00" y="146.30" font-size="7.3" text-anchor="end" fill="#222" font-weight="normal" ><tspan font-style="italic">R</tspan><tspan dy="-2.77" font-size="4.53">2</tspan><tspan dy="2.77"> = 0.87</tspan></text>
<text x="300.10" y="146.50" font-size="7.3" text-anchor="end" fill="#222" font-weight="normal" >SH: 436 TCs</text>
<text x="232.70" y="167.90" font-size="7.7" text-anchor="start" fill="#e3161e" font-weight="normal" >0.62 ±  0.05 (m s<tspan dy="-3.08" font-size="4.00">−1</tspan><tspan dy="3.08"> d<tspan dy="-3.08" font-size="4.00">−1</tspan><tspan dy="3.08">)</tspan></tspan></text>
<text transform="translate(195.80,188.70) rotate(-90)" font-size="8.7" text-anchor="middle" fill="#222">Speed (m s<tspan dy="-3.13" font-size="5.39">−1</tspan><tspan dy="3.13">)</tspan></text>
<text x="278.00" y="252.10" font-size="8.7" text-anchor="middle" fill="#222" font-weight="normal" >Time (h)</text>
<path d="M391.40,148.40 L511.10,148.40 L511.10,228.30 L391.40,228.30Z" fill="none" stroke="#9c9c9c" stroke-width="0.9"/>
<line x1="411.2" y1="148.4" x2="411.2" y2="228.3" stroke="#1e3564" stroke-width="1.1" stroke-dasharray="3,1.8"/>
<line x1="422.6" y1="148.4" x2="422.6" y2="228.3" stroke="#e8262b" stroke-width="1.1" stroke-dasharray="3,1.8"/>
<polyline points="393.5,221.2 399.8,191.2 405.5,172.3 411.0,152.9 416.9,172.3 422.6,180.8 428.7,187.1 434.0,197.9 439.7,215.9 445.4,221.6 451.0,224.5 456.7,226.9 462.8,227.3 468.5,227.7 474.2,228.3 480.0,228.3 486.0,228.3 492.0,228.3 498.0,228.3 504.0,228.3 509.3,228.3" fill="none" stroke="#1e3564" stroke-width="1.9" stroke-linejoin="round"/>
<polyline points="393.5,228.3 399.8,219.7 405.5,197.9 411.0,183.7 416.9,177.0 422.6,169.8 428.7,175.1 434.0,189.7 439.7,200.7 445.4,209.8 451.0,216.9 456.7,218.2 462.8,223.5 468.5,223.5 474.2,222.7 479.9,223.9 485.6,227.3 491.3,227.7 497.4,225.0 502.7,226.9 509.3,227.9" fill="none" stroke="#e8262b" stroke-width="1.9" stroke-linejoin="round"/>
<line x1="388.80" y1="228.30" x2="391.40" y2="228.30" stroke="#444" stroke-width="0.7"/>
<text x="384.80" y="230.90" font-size="7.8" text-anchor="end" fill="#333" font-weight="normal" >0</text>
<line x1="391.40" y1="228.30" x2="391.40" y2="230.90" stroke="#444" stroke-width="0.7"/>
<text x="391.40" y="240.30" font-size="7.8" text-anchor="middle" fill="#333" font-weight="normal" >0</text>
<line x1="388.80" y1="216.89" x2="391.40" y2="216.89" stroke="#444" stroke-width="0.7"/>
<text x="384.80" y="219.49" font-size="7.8" text-anchor="end" fill="#333" font-weight="normal" >3</text>
<line x1="408.50" y1="228.30" x2="408.50" y2="230.90" stroke="#444" stroke-width="0.7"/>
<text x="408.50" y="240.30" font-size="7.8" text-anchor="middle" fill="#333" font-weight="normal" >3</text>
<line x1="388.80" y1="205.47" x2="391.40" y2="205.47" stroke="#444" stroke-width="0.7"/>
<text x="384.80" y="208.07" font-size="7.8" text-anchor="end" fill="#333" font-weight="normal" >6</text>
<line x1="425.60" y1="228.30" x2="425.60" y2="230.90" stroke="#444" stroke-width="0.7"/>
<text x="425.60" y="240.30" font-size="7.8" text-anchor="middle" fill="#333" font-weight="normal" >6</text>
<line x1="388.80" y1="194.06" x2="391.40" y2="194.06" stroke="#444" stroke-width="0.7"/>
<text x="384.80" y="196.66" font-size="7.8" text-anchor="end" fill="#333" font-weight="normal" >9</text>
<line x1="442.70" y1="228.30" x2="442.70" y2="230.90" stroke="#444" stroke-width="0.7"/>
<text x="442.70" y="240.30" font-size="7.8" text-anchor="middle" fill="#333" font-weight="normal" >9</text>
<line x1="388.80" y1="182.64" x2="391.40" y2="182.64" stroke="#444" stroke-width="0.7"/>
<text x="384.80" y="185.24" font-size="7.8" text-anchor="end" fill="#333" font-weight="normal" >12</text>
<line x1="459.80" y1="228.30" x2="459.80" y2="230.90" stroke="#444" stroke-width="0.7"/>
<text x="459.80" y="240.30" font-size="7.8" text-anchor="middle" fill="#333" font-weight="normal" >12</text>
<line x1="388.80" y1="171.23" x2="391.40" y2="171.23" stroke="#444" stroke-width="0.7"/>
<text x="384.80" y="173.83" font-size="7.8" text-anchor="end" fill="#333" font-weight="normal" >15</text>
<line x1="476.90" y1="228.30" x2="476.90" y2="230.90" stroke="#444" stroke-width="0.7"/>
<text x="476.90" y="240.30" font-size="7.8" text-anchor="middle" fill="#333" font-weight="normal" >15</text>
<line x1="388.80" y1="159.81" x2="391.40" y2="159.81" stroke="#444" stroke-width="0.7"/>
<text x="384.80" y="162.41" font-size="7.8" text-anchor="end" fill="#333" font-weight="normal" >18</text>
<line x1="494.00" y1="228.30" x2="494.00" y2="230.90" stroke="#444" stroke-width="0.7"/>
<text x="494.00" y="240.30" font-size="7.8" text-anchor="middle" fill="#333" font-weight="normal" >18</text>
<line x1="388.80" y1="148.40" x2="391.40" y2="148.40" stroke="#444" stroke-width="0.7"/>
<text x="384.80" y="151.00" font-size="7.8" text-anchor="end" fill="#333" font-weight="normal" >21</text>
<line x1="511.10" y1="228.30" x2="511.10" y2="230.90" stroke="#444" stroke-width="0.7"/>
<text x="511.10" y="240.30" font-size="7.8" text-anchor="middle" fill="#333" font-weight="normal" >21</text>
<text x="355.50" y="136.00" font-size="11.8" text-anchor="start" fill="#000" font-weight="bold" stroke="#000" stroke-width="0.55" stroke-linejoin="round">d</text>
<text x="511.10" y="145.00" font-size="7.5" text-anchor="end" fill="#222" font-weight="normal" >Probability density <tspan font-style="italic">P</tspan> &lt; 0.001</text>
<text transform="translate(370.4,188.4) rotate(-90)" font-size="7.8" text-anchor="middle" fill="#222">PDF (%)</text>
<text x="451.25" y="253.00" font-size="8.7" text-anchor="middle" fill="#222" font-weight="normal" >Speed (m<tspan dy="-3.13" font-size="5.39">−1</tspan><tspan dy="3.13">)</tspan></text>
<line x1="465.7" y1="156.7" x2="474.2" y2="156.7" stroke="#e8262b" stroke-width="2"/>
<line x1="465.7" y1="166.6" x2="474.2" y2="166.6" stroke="#1e3564" stroke-width="2"/>
<text x="478.80" y="160.00" font-size="9.2" text-anchor="start" fill="#222" font-weight="normal" >00 h</text>
<text x="478.80" y="169.90" font-size="9.2" text-anchor="start" fill="#222" font-weight="normal" >–60 h</text>
<path d="M133.00,408.80 L136.82,407.62 L140.63,406.43 L144.45,405.23 L148.27,404.02 L152.08,402.79 L155.90,401.55 L159.72,400.30 L163.53,399.04 L167.35,397.76 L171.17,396.48 L174.98,395.18 L178.80,393.87 L182.62,392.55 L186.43,391.21 L190.25,389.87 L194.07,388.51 L197.88,387.14 L201.70,385.76 L205.52,384.36 L209.33,382.96 L213.15,381.54 L216.97,380.11 L220.78,378.67 L224.60,377.21 L228.42,375.75 L232.23,374.27 L236.05,372.78 L239.87,371.28 L243.68,369.76 L247.50,368.24 L247.50,373.62 L243.68,374.80 L239.87,375.99 L236.05,377.19 L232.23,378.41 L228.42,379.63 L224.60,380.87 L220.78,382.12 L216.97,383.39 L213.15,384.66 L209.33,385.95 L205.52,387.24 L201.70,388.55 L197.88,389.88 L194.07,391.21 L190.25,392.56 L186.43,393.92 L182.62,395.29 L178.80,396.67 L174.98,398.06 L171.17,399.47 L167.35,400.89 L163.53,402.32 L159.72,403.76 L155.90,405.21 L152.08,406.68 L148.27,408.15 L144.45,409.64 L140.63,411.15 L136.82,412.66 L133.00,414.19Z" fill="#8fc9a5" fill-opacity="0.45"/>
<path d="M133.00,339.40 L247.50,339.40 L247.50,416.30 L133.00,416.30Z" fill="none" stroke="#777" stroke-width="1.0"/>
<line x1="133.00" y1="411.49" x2="247.50" y2="370.93" stroke="#1c7a3e" stroke-width="1.1" stroke-dasharray="3.2,2"/>
<polyline points="133.00,406.30 138.72,407.07 144.45,408.42 150.18,405.53 155.90,405.15 161.62,404.00 167.35,402.84 173.07,399.38 178.80,395.34 184.53,393.23 190.25,390.92 195.98,385.73 201.70,386.89 207.43,388.42 213.15,388.62 218.88,385.73 224.60,381.31 230.32,376.31 236.05,376.50 241.77,371.31 247.50,364.78" fill="none" stroke="#1c7a3e" stroke-width="1.1" stroke-linejoin="round"/>
<circle cx="133.00" cy="406.30" r="1.5" fill="#111"/>
<circle cx="138.72" cy="407.07" r="1.5" fill="#111"/>
<circle cx="144.45" cy="408.42" r="1.5" fill="#111"/>
<circle cx="150.18" cy="405.53" r="1.5" fill="#111"/>
<circle cx="155.90" cy="405.15" r="1.5" fill="#111"/>
<circle cx="161.62" cy="404.00" r="1.5" fill="#111"/>
<circle cx="167.35" cy="402.84" r="1.5" fill="#111"/>
<circle cx="173.07" cy="399.38" r="1.5" fill="#111"/>
<circle cx="178.80" cy="395.34" r="1.5" fill="#111"/>
<circle cx="184.53" cy="393.23" r="1.5" fill="#111"/>
<circle cx="190.25" cy="390.92" r="1.5" fill="#111"/>
<circle cx="195.98" cy="385.73" r="1.5" fill="#111"/>
<circle cx="201.70" cy="386.89" r="1.5" fill="#111"/>
<circle cx="207.43" cy="388.42" r="1.5" fill="#111"/>
<circle cx="213.15" cy="388.62" r="1.5" fill="#111"/>
<circle cx="218.88" cy="385.73" r="1.5" fill="#111"/>
<circle cx="224.60" cy="381.31" r="1.5" fill="#111"/>
<circle cx="230.32" cy="376.31" r="1.5" fill="#111"/>
<circle cx="236.05" cy="376.50" r="1.5" fill="#111"/>
<circle cx="241.77" cy="371.31" r="1.5" fill="#111"/>
<circle cx="247.50" cy="364.78" r="1.5" fill="#111"/>
<line x1="131.00" y1="416.30" x2="133.00" y2="416.30" stroke="#333" stroke-width="0.75"/>
<text x="126.50" y="418.57" font-size="6.3" text-anchor="end" fill="#3a3a3a" font-weight="normal" >3.0</text>
<line x1="131.00" y1="397.07" x2="133.00" y2="397.07" stroke="#333" stroke-width="0.75"/>
<text x="126.50" y="399.34" font-size="6.3" text-anchor="end" fill="#3a3a3a" font-weight="normal" >4.0</text>
<line x1="131.00" y1="377.85" x2="133.00" y2="377.85" stroke="#333" stroke-width="0.75"/>
<text x="126.50" y="380.12" font-size="6.3" text-anchor="end" fill="#3a3a3a" font-weight="normal" >5.0</text>
<line x1="131.00" y1="358.62" x2="133.00" y2="358.62" stroke="#333" stroke-width="0.75"/>
<text x="126.50" y="360.89" font-size="6.3" text-anchor="end" fill="#3a3a3a" font-weight="normal" >6.0</text>
<line x1="131.00" y1="339.40" x2="133.00" y2="339.40" stroke="#333" stroke-width="0.75"/>
<text x="126.50" y="341.67" font-size="6.3" text-anchor="end" fill="#3a3a3a" font-weight="normal" >7.0</text>
<line x1="133.00" y1="416.30" x2="133.00" y2="418.30" stroke="#333" stroke-width="0.75"/>
<text x="133.00" y="427.90" font-size="6.3" text-anchor="middle" fill="#3a3a3a" font-weight="normal" >-60</text>
<line x1="155.90" y1="416.30" x2="155.90" y2="418.30" stroke="#333" stroke-width="0.75"/>
<text x="155.90" y="427.90" font-size="6.3" text-anchor="middle" fill="#3a3a3a" font-weight="normal" >-48</text>
<line x1="178.80" y1="416.30" x2="178.80" y2="418.30" stroke="#333" stroke-width="0.75"/>
<text x="178.80" y="427.90" font-size="6.3" text-anchor="middle" fill="#3a3a3a" font-weight="normal" >-36</text>
<line x1="201.70" y1="416.30" x2="201.70" y2="418.30" stroke="#333" stroke-width="0.75"/>
<text x="201.70" y="427.90" font-size="6.3" text-anchor="middle" fill="#3a3a3a" font-weight="normal" >-24</text>
<line x1="224.60" y1="416.30" x2="224.60" y2="418.30" stroke="#333" stroke-width="0.75"/>
<text x="224.60" y="427.90" font-size="6.3" text-anchor="middle" fill="#3a3a3a" font-weight="normal" >-12</text>
<line x1="247.50" y1="416.30" x2="247.50" y2="418.30" stroke="#333" stroke-width="0.75"/>
<text x="247.50" y="427.90" font-size="6.3" text-anchor="middle" fill="#3a3a3a" font-weight="normal" >0</text>
<text x="103.00" y="327.80" font-size="12.3" text-anchor="start" fill="#fff" font-weight="bold" stroke="#fff" stroke-width="2.2" stroke-linejoin="round">e</text>
<text x="103.00" y="327.80" font-size="12.3" text-anchor="start" fill="#000" font-weight="bold" stroke="#000" stroke-width="0.55" stroke-linejoin="round">e</text>
<text x="246.60" y="329.10" font-size="7.3" text-anchor="end" fill="#222" font-weight="normal" ><tspan font-style="normal">P</tspan> &lt; 0.001</text>
<text x="246.60" y="337.50" font-size="7.3" text-anchor="end" fill="#222" font-weight="normal" ><tspan font-style="normal">R</tspan><tspan dy="-2.77" font-size="4.53">2</tspan><tspan dy="2.77"> = 0.94</tspan></text>
<text x="162.80" y="337.00" font-size="7.2" text-anchor="start" fill="#222" font-weight="normal" >NI: 98  TCs</text>
<text x="149.60" y="360.70" font-size="7.7" text-anchor="start" fill="#2a8650" font-weight="normal" >0.84 ±  0.05 (m s<tspan dy="-3.08" font-size="4.00">−1</tspan><tspan dy="3.08"> d<tspan dy="-3.08" font-size="4.00">−1</tspan><tspan dy="3.08">)</tspan></tspan></text>
<text transform="translate(111.00,377.85) rotate(-90)" font-size="7.0" text-anchor="middle" fill="#222">Speed (m s<tspan dy="-2.52" font-size="4.34">−1</tspan><tspan dy="2.52">)</tspan></text>
<text x="190.25" y="439.30" font-size="7.4" text-anchor="middle" fill="#222" font-weight="normal" >Time (h)</text>
<path d="M290.30,403.29 L294.13,401.93 L297.96,400.55 L301.79,399.16 L305.62,397.75 L309.45,396.33 L313.28,394.89 L317.11,393.43 L320.94,391.96 L324.77,390.47 L328.60,388.96 L332.43,387.44 L336.26,385.91 L340.09,384.35 L343.92,382.78 L347.75,381.20 L351.58,379.60 L355.41,377.98 L359.24,376.34 L363.07,374.69 L366.90,373.03 L370.73,371.34 L374.56,369.64 L378.39,367.93 L382.22,366.20 L386.05,364.45 L389.88,362.69 L393.71,360.91 L397.54,359.11 L401.37,357.30 L405.20,355.47 L405.20,364.65 L401.37,366.03 L397.54,367.41 L393.71,368.82 L389.88,370.24 L386.05,371.68 L382.22,373.13 L378.39,374.60 L374.56,376.08 L370.73,377.59 L366.90,379.10 L363.07,380.64 L359.24,382.19 L355.41,383.75 L351.58,385.34 L347.75,386.93 L343.92,388.55 L340.09,390.18 L336.26,391.83 L332.43,393.49 L328.60,395.17 L324.77,396.86 L320.94,398.58 L317.11,400.30 L313.28,402.05 L309.45,403.81 L305.62,405.58 L301.79,407.38 L297.96,409.18 L294.13,411.01 L290.30,412.85Z" fill="#8fc9a5" fill-opacity="0.45"/>
<path d="M290.30,339.60 L405.20,339.60 L405.20,416.10 L290.30,416.10Z" fill="none" stroke="#777" stroke-width="1.0"/>
<line x1="290.30" y1="408.07" x2="405.20" y2="360.06" stroke="#1c7a3e" stroke-width="1.1" stroke-dasharray="3.2,2"/>
<polyline points="290.30,400.42 296.05,400.80 301.79,400.23 307.54,398.89 313.28,397.74 319.02,396.21 324.77,394.87 330.51,394.30 336.26,392.58 342.00,390.09 347.75,388.37 353.50,387.22 359.24,384.35 364.99,381.29 370.73,378.42 376.48,374.98 382.22,372.11 387.96,367.91 393.71,362.36 399.45,354.71 405.20,347.25" fill="none" stroke="#1c7a3e" stroke-width="1.1" stroke-linejoin="round"/>
<circle cx="290.30" cy="400.42" r="1.5" fill="#111"/>
<circle cx="296.05" cy="400.80" r="1.5" fill="#111"/>
<circle cx="301.79" cy="400.23" r="1.5" fill="#111"/>
<circle cx="307.54" cy="398.89" r="1.5" fill="#111"/>
<circle cx="313.28" cy="397.74" r="1.5" fill="#111"/>
<circle cx="319.02" cy="396.21" r="1.5" fill="#111"/>
<circle cx="324.77" cy="394.87" r="1.5" fill="#111"/>
<circle cx="330.51" cy="394.30" r="1.5" fill="#111"/>
<circle cx="336.26" cy="392.58" r="1.5" fill="#111"/>
<circle cx="342.00" cy="390.09" r="1.5" fill="#111"/>
<circle cx="347.75" cy="388.37" r="1.5" fill="#111"/>
<circle cx="353.50" cy="387.22" r="1.5" fill="#111"/>
<circle cx="359.24" cy="384.35" r="1.5" fill="#111"/>
<circle cx="364.99" cy="381.29" r="1.5" fill="#111"/>
<circle cx="370.73" cy="378.42" r="1.5" fill="#111"/>
<circle cx="376.48" cy="374.98" r="1.5" fill="#111"/>
<circle cx="382.22" cy="372.11" r="1.5" fill="#111"/>
<circle cx="387.96" cy="367.91" r="1.5" fill="#111"/>
<circle cx="393.71" cy="362.36" r="1.5" fill="#111"/>
<circle cx="399.45" cy="354.71" r="1.5" fill="#111"/>
<circle cx="405.20" cy="347.25" r="1.5" fill="#111"/>
<line x1="288.30" y1="416.10" x2="290.30" y2="416.10" stroke="#333" stroke-width="0.75"/>
<text x="283.80" y="418.37" font-size="6.3" text-anchor="end" fill="#3a3a3a" font-weight="normal" >4.0</text>
<line x1="288.30" y1="396.98" x2="290.30" y2="396.98" stroke="#333" stroke-width="0.75"/>
<text x="283.80" y="399.24" font-size="6.3" text-anchor="end" fill="#3a3a3a" font-weight="normal" >5.0</text>
<line x1="288.30" y1="377.85" x2="290.30" y2="377.85" stroke="#333" stroke-width="0.75"/>
<text x="283.80" y="380.12" font-size="6.3" text-anchor="end" fill="#3a3a3a" font-weight="normal" >6.0</text>
<line x1="288.30" y1="358.73" x2="290.30" y2="358.73" stroke="#333" stroke-width="0.75"/>
<text x="283.80" y="360.99" font-size="6.3" text-anchor="end" fill="#3a3a3a" font-weight="normal" >7.0</text>
<line x1="288.30" y1="339.60" x2="290.30" y2="339.60" stroke="#333" stroke-width="0.75"/>
<text x="283.80" y="341.87" font-size="6.3" text-anchor="end" fill="#3a3a3a" font-weight="normal" >8.0</text>
<line x1="290.30" y1="416.10" x2="290.30" y2="418.10" stroke="#333" stroke-width="0.75"/>
<text x="290.30" y="427.70" font-size="6.3" text-anchor="middle" fill="#3a3a3a" font-weight="normal" >-60</text>
<line x1="313.28" y1="416.10" x2="313.28" y2="418.10" stroke="#333" stroke-width="0.75"/>
<text x="313.28" y="427.70" font-size="6.3" text-anchor="middle" fill="#3a3a3a" font-weight="normal" >-48</text>
<line x1="336.26" y1="416.10" x2="336.26" y2="418.10" stroke="#333" stroke-width="0.75"/>
<text x="336.26" y="427.70" font-size="6.3" text-anchor="middle" fill="#3a3a3a" font-weight="normal" >-36</text>
<line x1="359.24" y1="416.10" x2="359.24" y2="418.10" stroke="#333" stroke-width="0.75"/>
<text x="359.24" y="427.70" font-size="6.3" text-anchor="middle" fill="#3a3a3a" font-weight="normal" >-24</text>
<line x1="382.22" y1="416.10" x2="382.22" y2="418.10" stroke="#333" stroke-width="0.75"/>
<text x="382.22" y="427.70" font-size="6.3" text-anchor="middle" fill="#3a3a3a" font-weight="normal" >-12</text>
<line x1="405.20" y1="416.10" x2="405.20" y2="418.10" stroke="#333" stroke-width="0.75"/>
<text x="405.20" y="427.70" font-size="6.3" text-anchor="middle" fill="#3a3a3a" font-weight="normal" >0</text>
<text x="260.80" y="328.00" font-size="12.3" text-anchor="start" fill="#fff" font-weight="bold" stroke="#fff" stroke-width="2.2" stroke-linejoin="round">f</text>
<text x="260.80" y="328.00" font-size="12.3" text-anchor="start" fill="#000" font-weight="bold" stroke="#000" stroke-width="0.55" stroke-linejoin="round">f</text>
<text x="404.30" y="329.30" font-size="7.3" text-anchor="end" fill="#222" font-weight="normal" ><tspan font-style="italic">P</tspan> &lt; 0.001</text>
<text x="404.30" y="337.70" font-size="7.3" text-anchor="end" fill="#222" font-weight="normal" ><tspan font-style="italic">R</tspan><tspan dy="-2.77" font-size="4.53">2</tspan><tspan dy="2.77"> = 0.90</tspan></text>
<text x="320.10" y="337.20" font-size="7.2" text-anchor="start" fill="#222" font-weight="normal" >WP: 669  TCs</text>
<text x="299.80" y="360.90" font-size="7.7" text-anchor="start" fill="#2a8650" font-weight="normal" >1.00 ±  0.08 (m s<tspan dy="-3.08" font-size="4.00">−1</tspan><tspan dy="3.08"> d<tspan dy="-3.08" font-size="4.00">−1</tspan><tspan dy="3.08">)</tspan></tspan></text>
<text transform="translate(268.30,377.85) rotate(-90)" font-size="7.0" text-anchor="middle" fill="#222">Speed (m s<tspan dy="-2.52" font-size="4.34">−1</tspan><tspan dy="2.52">)</tspan></text>
<text x="347.75" y="439.10" font-size="7.4" text-anchor="middle" fill="#222" font-weight="normal" >Time (h)</text>
<path d="M447.70,401.53 L451.53,400.78 L455.36,400.00 L459.19,399.19 L463.02,398.36 L466.85,397.49 L470.68,396.60 L474.51,395.67 L478.34,394.72 L482.17,393.74 L486.00,392.73 L489.83,391.69 L493.66,390.62 L497.49,389.52 L501.32,388.40 L505.15,387.24 L508.98,386.06 L512.81,384.84 L516.64,383.60 L520.47,382.33 L524.30,381.03 L528.13,379.70 L531.96,378.34 L535.79,376.96 L539.62,375.54 L543.45,374.10 L547.28,372.62 L551.11,371.12 L554.94,369.59 L558.77,368.03 L562.60,366.44 L562.60,377.94 L558.77,378.72 L554.94,379.52 L551.11,380.35 L547.28,381.22 L543.45,382.11 L539.62,383.03 L535.79,383.98 L531.96,384.95 L528.13,385.96 L524.30,387.00 L520.47,388.06 L516.64,389.16 L512.81,390.28 L508.98,391.43 L505.15,392.61 L501.32,393.82 L497.49,395.06 L493.66,396.33 L489.83,397.62 L486.00,398.95 L482.17,400.30 L478.34,401.69 L474.51,403.10 L470.68,404.54 L466.85,406.01 L463.02,407.51 L459.19,409.04 L455.36,410.60 L451.53,412.18 L447.70,413.80Z" fill="#8fc9a5" fill-opacity="0.45"/>
<path d="M447.70,339.40 L562.60,339.40 L562.60,416.10 L447.70,416.10Z" fill="none" stroke="#777" stroke-width="1.0"/>
<line x1="447.70" y1="407.66" x2="562.60" y2="372.19" stroke="#1c7a3e" stroke-width="1.1" stroke-dasharray="3.2,2"/>
<polyline points="447.70,398.46 453.44,399.61 459.19,398.46 464.94,399.03 470.68,399.80 476.43,400.95 482.17,400.95 487.92,398.65 493.66,397.12 499.41,396.35 505.15,395.97 510.89,394.43 516.64,393.28 522.38,391.94 528.13,388.30 533.88,384.84 539.62,380.43 545.37,375.07 551.11,369.12 556.86,362.99 562.60,359.34" fill="none" stroke="#1c7a3e" stroke-width="1.1" stroke-linejoin="round"/>
<circle cx="447.70" cy="398.46" r="1.5" fill="#111"/>
<circle cx="453.44" cy="399.61" r="1.5" fill="#111"/>
<circle cx="459.19" cy="398.46" r="1.5" fill="#111"/>
<circle cx="464.94" cy="399.03" r="1.5" fill="#111"/>
<circle cx="470.68" cy="399.80" r="1.5" fill="#111"/>
<circle cx="476.43" cy="400.95" r="1.5" fill="#111"/>
<circle cx="482.17" cy="400.95" r="1.5" fill="#111"/>
<circle cx="487.92" cy="398.65" r="1.5" fill="#111"/>
<circle cx="493.66" cy="397.12" r="1.5" fill="#111"/>
<circle cx="499.41" cy="396.35" r="1.5" fill="#111"/>
<circle cx="505.15" cy="395.97" r="1.5" fill="#111"/>
<circle cx="510.89" cy="394.43" r="1.5" fill="#111"/>
<circle cx="516.64" cy="393.28" r="1.5" fill="#111"/>
<circle cx="522.38" cy="391.94" r="1.5" fill="#111"/>
<circle cx="528.13" cy="388.30" r="1.5" fill="#111"/>
<circle cx="533.88" cy="384.84" r="1.5" fill="#111"/>
<circle cx="539.62" cy="380.43" r="1.5" fill="#111"/>
<circle cx="545.37" cy="375.07" r="1.5" fill="#111"/>
<circle cx="551.11" cy="369.12" r="1.5" fill="#111"/>
<circle cx="556.86" cy="362.99" r="1.5" fill="#111"/>
<circle cx="562.60" cy="359.34" r="1.5" fill="#111"/>
<line x1="445.70" y1="416.10" x2="447.70" y2="416.10" stroke="#333" stroke-width="0.75"/>
<text x="441.20" y="418.37" font-size="6.3" text-anchor="end" fill="#3a3a3a" font-weight="normal" >3.0</text>
<line x1="445.70" y1="396.93" x2="447.70" y2="396.93" stroke="#333" stroke-width="0.75"/>
<text x="441.20" y="399.19" font-size="6.3" text-anchor="end" fill="#3a3a3a" font-weight="normal" >4.0</text>
<line x1="445.70" y1="377.75" x2="447.70" y2="377.75" stroke="#333" stroke-width="0.75"/>
<text x="441.20" y="380.02" font-size="6.3" text-anchor="end" fill="#3a3a3a" font-weight="normal" >5.0</text>
<line x1="445.70" y1="358.57" x2="447.70" y2="358.57" stroke="#333" stroke-width="0.75"/>
<text x="441.20" y="360.84" font-size="6.3" text-anchor="end" fill="#3a3a3a" font-weight="normal" >6.0</text>
<line x1="445.70" y1="339.40" x2="447.70" y2="339.40" stroke="#333" stroke-width="0.75"/>
<text x="441.20" y="341.67" font-size="6.3" text-anchor="end" fill="#3a3a3a" font-weight="normal" >7.0</text>
<line x1="447.70" y1="416.10" x2="447.70" y2="418.10" stroke="#333" stroke-width="0.75"/>
<text x="447.70" y="427.70" font-size="6.3" text-anchor="middle" fill="#3a3a3a" font-weight="normal" >-60</text>
<line x1="470.68" y1="416.10" x2="470.68" y2="418.10" stroke="#333" stroke-width="0.75"/>
<text x="470.68" y="427.70" font-size="6.3" text-anchor="middle" fill="#3a3a3a" font-weight="normal" >-48</text>
<line x1="493.66" y1="416.10" x2="493.66" y2="418.10" stroke="#333" stroke-width="0.75"/>
<text x="493.66" y="427.70" font-size="6.3" text-anchor="middle" fill="#3a3a3a" font-weight="normal" >-36</text>
<line x1="516.64" y1="416.10" x2="516.64" y2="418.10" stroke="#333" stroke-width="0.75"/>
<text x="516.64" y="427.70" font-size="6.3" text-anchor="middle" fill="#3a3a3a" font-weight="normal" >-24</text>
<line x1="539.62" y1="416.10" x2="539.62" y2="418.10" stroke="#333" stroke-width="0.75"/>
<text x="539.62" y="427.70" font-size="6.3" text-anchor="middle" fill="#3a3a3a" font-weight="normal" >-12</text>
<line x1="562.60" y1="416.10" x2="562.60" y2="418.10" stroke="#333" stroke-width="0.75"/>
<text x="562.60" y="427.70" font-size="6.3" text-anchor="middle" fill="#3a3a3a" font-weight="normal" >0</text>
<text x="416.00" y="327.30" font-size="12.3" text-anchor="start" fill="#fff" font-weight="bold" stroke="#fff" stroke-width="2.2" stroke-linejoin="round">g</text>
<text x="416.00" y="327.30" font-size="12.3" text-anchor="start" fill="#000" font-weight="bold" stroke="#000" stroke-width="0.55" stroke-linejoin="round">g</text>
<text x="561.70" y="329.10" font-size="7.3" text-anchor="end" fill="#222" font-weight="normal" ><tspan font-style="italic">P</tspan> &lt; 0.001</text>
<text x="561.70" y="337.50" font-size="7.3" text-anchor="end" fill="#222" font-weight="normal" ><tspan font-style="italic">R</tspan><tspan dy="-2.77" font-size="4.53">2</tspan><tspan dy="2.77"> = 0.76</tspan></text>
<text x="477.80" y="337.00" font-size="7.2" text-anchor="start" fill="#222" font-weight="normal" >EP: 180  TCs</text>
<text x="464.10" y="360.70" font-size="7.7" text-anchor="start" fill="#2a8650" font-weight="normal" >0.75 ±  0.10 (m s<tspan dy="-3.08" font-size="4.00">−1</tspan><tspan dy="3.08"> d<tspan dy="-3.08" font-size="4.00">−1</tspan><tspan dy="3.08">)</tspan></tspan></text>
<text transform="translate(423.70,377.75) rotate(-90)" font-size="7.0" text-anchor="middle" fill="#222">Speed (m s<tspan dy="-2.52" font-size="4.34">−1</tspan><tspan dy="2.52">)</tspan></text>
<text x="505.15" y="439.10" font-size="7.4" text-anchor="middle" fill="#222" font-weight="normal" >Time (h)</text>
<path d="M132.90,532.33 L136.73,531.36 L140.55,530.37 L144.38,529.36 L148.21,528.34 L152.03,527.30 L155.86,526.24 L159.69,525.17 L163.51,524.08 L167.34,522.97 L171.17,521.85 L174.99,520.70 L178.82,519.55 L182.65,518.37 L186.47,517.18 L190.30,515.96 L194.13,514.74 L197.95,513.49 L201.78,512.23 L205.61,510.95 L209.43,509.66 L213.26,508.34 L217.09,507.01 L220.91,505.66 L224.74,504.30 L228.57,502.92 L232.39,501.52 L236.22,500.10 L240.05,498.67 L243.87,497.22 L247.70,495.75 L247.70,502.68 L243.87,503.63 L240.05,504.59 L236.22,505.57 L232.39,506.57 L228.57,507.58 L224.74,508.61 L220.91,509.66 L217.09,510.72 L213.26,511.81 L209.43,512.91 L205.61,514.02 L201.78,515.16 L197.95,516.31 L194.13,517.48 L190.30,518.66 L186.47,519.86 L182.65,521.08 L178.82,522.32 L174.99,523.57 L171.17,524.84 L167.34,526.13 L163.51,527.43 L159.69,528.76 L155.86,530.09 L152.03,531.45 L148.21,532.82 L144.38,534.21 L140.55,535.62 L136.73,537.05 L132.90,538.49Z" fill="#8fc9a5" fill-opacity="0.45"/>
<path d="M132.90,466.30 L247.70,466.30 L247.70,543.30 L132.90,543.30Z" fill="none" stroke="#777" stroke-width="1.0"/>
<line x1="132.90" y1="535.41" x2="247.70" y2="499.22" stroke="#1c7a3e" stroke-width="1.1" stroke-dasharray="3.2,2"/>
<polyline points="132.90,527.13 138.64,528.86 144.38,529.82 150.12,530.02 155.86,529.25 161.60,528.48 167.34,528.48 173.08,527.71 178.82,525.01 184.56,522.12 190.30,520.39 196.04,519.04 201.78,517.31 207.52,515.39 213.26,512.88 219.00,510.57 224.74,507.88 230.48,504.80 236.22,502.68 241.96,496.14 247.70,492.67" fill="none" stroke="#1c7a3e" stroke-width="1.1" stroke-linejoin="round"/>
<circle cx="132.90" cy="527.13" r="1.5" fill="#111"/>
<circle cx="138.64" cy="528.86" r="1.5" fill="#111"/>
<circle cx="144.38" cy="529.82" r="1.5" fill="#111"/>
<circle cx="150.12" cy="530.02" r="1.5" fill="#111"/>
<circle cx="155.86" cy="529.25" r="1.5" fill="#111"/>
<circle cx="161.60" cy="528.48" r="1.5" fill="#111"/>
<circle cx="167.34" cy="528.48" r="1.5" fill="#111"/>
<circle cx="173.08" cy="527.71" r="1.5" fill="#111"/>
<circle cx="178.82" cy="525.01" r="1.5" fill="#111"/>
<circle cx="184.56" cy="522.12" r="1.5" fill="#111"/>
<circle cx="190.30" cy="520.39" r="1.5" fill="#111"/>
<circle cx="196.04" cy="519.04" r="1.5" fill="#111"/>
<circle cx="201.78" cy="517.31" r="1.5" fill="#111"/>
<circle cx="207.52" cy="515.39" r="1.5" fill="#111"/>
<circle cx="213.26" cy="512.88" r="1.5" fill="#111"/>
<circle cx="219.00" cy="510.57" r="1.5" fill="#111"/>
<circle cx="224.74" cy="507.88" r="1.5" fill="#111"/>
<circle cx="230.48" cy="504.80" r="1.5" fill="#111"/>
<circle cx="236.22" cy="502.68" r="1.5" fill="#111"/>
<circle cx="241.96" cy="496.14" r="1.5" fill="#111"/>
<circle cx="247.70" cy="492.67" r="1.5" fill="#111"/>
<line x1="130.90" y1="543.30" x2="132.90" y2="543.30" stroke="#333" stroke-width="0.75"/>
<text x="126.40" y="545.57" font-size="6.3" text-anchor="end" fill="#3a3a3a" font-weight="normal" >4.0</text>
<line x1="130.90" y1="524.05" x2="132.90" y2="524.05" stroke="#333" stroke-width="0.75"/>
<text x="126.40" y="526.32" font-size="6.3" text-anchor="end" fill="#3a3a3a" font-weight="normal" >5.0</text>
<line x1="130.90" y1="504.80" x2="132.90" y2="504.80" stroke="#333" stroke-width="0.75"/>
<text x="126.40" y="507.07" font-size="6.3" text-anchor="end" fill="#3a3a3a" font-weight="normal" >6.0</text>
<line x1="130.90" y1="485.55" x2="132.90" y2="485.55" stroke="#333" stroke-width="0.75"/>
<text x="126.40" y="487.82" font-size="6.3" text-anchor="end" fill="#3a3a3a" font-weight="normal" >7.0</text>
<line x1="130.90" y1="466.30" x2="132.90" y2="466.30" stroke="#333" stroke-width="0.75"/>
<text x="126.40" y="468.57" font-size="6.3" text-anchor="end" fill="#3a3a3a" font-weight="normal" >8.0</text>
<line x1="132.90" y1="543.30" x2="132.90" y2="545.30" stroke="#333" stroke-width="0.75"/>
<text x="132.90" y="554.90" font-size="6.3" text-anchor="middle" fill="#3a3a3a" font-weight="normal" >-60</text>
<line x1="155.86" y1="543.30" x2="155.86" y2="545.30" stroke="#333" stroke-width="0.75"/>
<text x="155.86" y="554.90" font-size="6.3" text-anchor="middle" fill="#3a3a3a" font-weight="normal" >-48</text>
<line x1="178.82" y1="543.30" x2="178.82" y2="545.30" stroke="#333" stroke-width="0.75"/>
<text x="178.82" y="554.90" font-size="6.3" text-anchor="middle" fill="#3a3a3a" font-weight="normal" >-36</text>
<line x1="201.78" y1="543.30" x2="201.78" y2="545.30" stroke="#333" stroke-width="0.75"/>
<text x="201.78" y="554.90" font-size="6.3" text-anchor="middle" fill="#3a3a3a" font-weight="normal" >-24</text>
<line x1="224.74" y1="543.30" x2="224.74" y2="545.30" stroke="#333" stroke-width="0.75"/>
<text x="224.74" y="554.90" font-size="6.3" text-anchor="middle" fill="#3a3a3a" font-weight="normal" >-12</text>
<line x1="247.70" y1="543.30" x2="247.70" y2="545.30" stroke="#333" stroke-width="0.75"/>
<text x="247.70" y="554.90" font-size="6.3" text-anchor="middle" fill="#3a3a3a" font-weight="normal" >0</text>
<text x="103.20" y="453.00" font-size="12.3" text-anchor="start" fill="#fff" font-weight="bold" stroke="#fff" stroke-width="2.2" stroke-linejoin="round">h</text>
<text x="103.20" y="453.00" font-size="12.3" text-anchor="start" fill="#000" font-weight="bold" stroke="#000" stroke-width="0.55" stroke-linejoin="round">h</text>
<text x="246.80" y="456.00" font-size="7.3" text-anchor="end" fill="#222" font-weight="normal" ><tspan font-style="normal">P</tspan> &lt; 0.001</text>
<text x="246.80" y="464.40" font-size="7.3" text-anchor="end" fill="#222" font-weight="normal" ><tspan font-style="normal">R</tspan><tspan dy="-2.77" font-size="4.53">2</tspan><tspan dy="2.77"> = 0.90</tspan></text>
<text x="162.70" y="463.90" font-size="7.2" text-anchor="start" fill="#222" font-weight="normal" >NA: 420  TCs</text>
<text x="149.00" y="487.60" font-size="7.7" text-anchor="start" fill="#2a8650" font-weight="normal" >0.74 ±  0.06 (m s<tspan dy="-3.08" font-size="4.00">−1</tspan><tspan dy="3.08"> d<tspan dy="-3.08" font-size="4.00">−1</tspan><tspan dy="3.08">)</tspan></tspan></text>
<text transform="translate(110.90,502.50) rotate(-90)" font-size="7.0" text-anchor="middle" fill="#222">Speed (m s<tspan dy="-2.52" font-size="4.34">−1</tspan><tspan dy="2.52">)</tspan></text>
<text x="190.30" y="566.30" font-size="7.4" text-anchor="middle" fill="#222" font-weight="normal" >Time (h)</text>
<path d="M290.00,534.49 L293.82,533.79 L297.64,533.09 L301.46,532.37 L305.28,531.64 L309.10,530.91 L312.92,530.16 L316.74,529.41 L320.56,528.64 L324.38,527.86 L328.20,527.07 L332.02,526.28 L335.84,525.47 L339.66,524.65 L343.48,523.82 L347.30,522.98 L351.12,522.13 L354.94,521.27 L358.76,520.41 L362.58,519.53 L366.40,518.64 L370.22,517.74 L374.04,516.83 L377.86,515.91 L381.68,514.98 L385.50,514.03 L389.32,513.08 L393.14,512.12 L396.96,511.15 L400.78,510.17 L404.60,509.18 L404.60,513.40 L400.78,514.09 L396.96,514.80 L393.14,515.51 L389.32,516.24 L385.50,516.97 L381.68,517.72 L377.86,518.48 L374.04,519.24 L370.22,520.02 L366.40,520.81 L362.58,521.61 L358.76,522.42 L354.94,523.23 L351.12,524.06 L347.30,524.90 L343.48,525.75 L339.66,526.61 L335.84,527.48 L332.02,528.36 L328.20,529.25 L324.38,530.15 L320.56,531.06 L316.74,531.98 L312.92,532.91 L309.10,533.85 L305.28,534.80 L301.46,535.76 L297.64,536.73 L293.82,537.71 L290.00,538.71Z" fill="#8fc9a5" fill-opacity="0.45"/>
<path d="M290.00,466.80 L404.60,466.80 L404.60,543.50 L290.00,543.50Z" fill="none" stroke="#777" stroke-width="1.0"/>
<line x1="290.00" y1="536.60" x2="404.60" y2="511.29" stroke="#1c7a3e" stroke-width="1.1" stroke-dasharray="3.2,2"/>
<polyline points="290.00,533.15 295.73,533.72 301.46,533.34 307.19,532.19 312.92,531.61 318.65,531.23 324.38,530.27 330.11,528.54 335.84,526.82 341.57,525.09 347.30,524.13 353.03,524.13 358.76,523.56 364.49,523.17 370.22,522.41 375.95,521.64 381.68,518.96 387.41,515.12 393.14,510.90 398.87,505.73 404.60,506.30" fill="none" stroke="#1c7a3e" stroke-width="1.1" stroke-linejoin="round"/>
<circle cx="290.00" cy="533.15" r="1.5" fill="#111"/>
<circle cx="295.73" cy="533.72" r="1.5" fill="#111"/>
<circle cx="301.46" cy="533.34" r="1.5" fill="#111"/>
<circle cx="307.19" cy="532.19" r="1.5" fill="#111"/>
<circle cx="312.92" cy="531.61" r="1.5" fill="#111"/>
<circle cx="318.65" cy="531.23" r="1.5" fill="#111"/>
<circle cx="324.38" cy="530.27" r="1.5" fill="#111"/>
<circle cx="330.11" cy="528.54" r="1.5" fill="#111"/>
<circle cx="335.84" cy="526.82" r="1.5" fill="#111"/>
<circle cx="341.57" cy="525.09" r="1.5" fill="#111"/>
<circle cx="347.30" cy="524.13" r="1.5" fill="#111"/>
<circle cx="353.03" cy="524.13" r="1.5" fill="#111"/>
<circle cx="358.76" cy="523.56" r="1.5" fill="#111"/>
<circle cx="364.49" cy="523.17" r="1.5" fill="#111"/>
<circle cx="370.22" cy="522.41" r="1.5" fill="#111"/>
<circle cx="375.95" cy="521.64" r="1.5" fill="#111"/>
<circle cx="381.68" cy="518.96" r="1.5" fill="#111"/>
<circle cx="387.41" cy="515.12" r="1.5" fill="#111"/>
<circle cx="393.14" cy="510.90" r="1.5" fill="#111"/>
<circle cx="398.87" cy="505.73" r="1.5" fill="#111"/>
<circle cx="404.60" cy="506.30" r="1.5" fill="#111"/>
<line x1="288.00" y1="543.50" x2="290.00" y2="543.50" stroke="#333" stroke-width="0.75"/>
<text x="283.50" y="545.77" font-size="6.3" text-anchor="end" fill="#3a3a3a" font-weight="normal" >3.0</text>
<line x1="288.00" y1="524.33" x2="290.00" y2="524.33" stroke="#333" stroke-width="0.75"/>
<text x="283.50" y="526.59" font-size="6.3" text-anchor="end" fill="#3a3a3a" font-weight="normal" >4.0</text>
<line x1="288.00" y1="505.15" x2="290.00" y2="505.15" stroke="#333" stroke-width="0.75"/>
<text x="283.50" y="507.42" font-size="6.3" text-anchor="end" fill="#3a3a3a" font-weight="normal" >5.0</text>
<line x1="288.00" y1="485.98" x2="290.00" y2="485.98" stroke="#333" stroke-width="0.75"/>
<text x="283.50" y="488.24" font-size="6.3" text-anchor="end" fill="#3a3a3a" font-weight="normal" >6.0</text>
<line x1="288.00" y1="466.80" x2="290.00" y2="466.80" stroke="#333" stroke-width="0.75"/>
<text x="283.50" y="469.07" font-size="6.3" text-anchor="end" fill="#3a3a3a" font-weight="normal" >7.0</text>
<line x1="290.00" y1="543.50" x2="290.00" y2="545.50" stroke="#333" stroke-width="0.75"/>
<text x="290.00" y="555.10" font-size="6.3" text-anchor="middle" fill="#3a3a3a" font-weight="normal" >-60</text>
<line x1="312.92" y1="543.50" x2="312.92" y2="545.50" stroke="#333" stroke-width="0.75"/>
<text x="312.92" y="555.10" font-size="6.3" text-anchor="middle" fill="#3a3a3a" font-weight="normal" >-48</text>
<line x1="335.84" y1="543.50" x2="335.84" y2="545.50" stroke="#333" stroke-width="0.75"/>
<text x="335.84" y="555.10" font-size="6.3" text-anchor="middle" fill="#3a3a3a" font-weight="normal" >-36</text>
<line x1="358.76" y1="543.50" x2="358.76" y2="545.50" stroke="#333" stroke-width="0.75"/>
<text x="358.76" y="555.10" font-size="6.3" text-anchor="middle" fill="#3a3a3a" font-weight="normal" >-24</text>
<line x1="381.68" y1="543.50" x2="381.68" y2="545.50" stroke="#333" stroke-width="0.75"/>
<text x="381.68" y="555.10" font-size="6.3" text-anchor="middle" fill="#3a3a3a" font-weight="normal" >-12</text>
<line x1="404.60" y1="543.50" x2="404.60" y2="545.50" stroke="#333" stroke-width="0.75"/>
<text x="404.60" y="555.10" font-size="6.3" text-anchor="middle" fill="#3a3a3a" font-weight="normal" >0</text>
<text x="261.00" y="453.00" font-size="12.3" text-anchor="start" fill="#fff" font-weight="bold" stroke="#fff" stroke-width="2.2" stroke-linejoin="round">i</text>
<text x="261.00" y="453.00" font-size="12.3" text-anchor="start" fill="#000" font-weight="bold" stroke="#000" stroke-width="0.55" stroke-linejoin="round">i</text>
<text x="403.70" y="456.50" font-size="7.3" text-anchor="end" fill="#222" font-weight="normal" ><tspan font-style="italic">P</tspan> &lt; 0.001</text>
<text x="403.70" y="464.90" font-size="7.3" text-anchor="end" fill="#222" font-weight="normal" ><tspan font-style="italic">R</tspan><tspan dy="-2.77" font-size="4.53">2</tspan><tspan dy="2.77"> = 0.90</tspan></text>
<text x="319.60" y="464.40" font-size="7.2" text-anchor="start" fill="#222" font-weight="normal" >SI: 233  TCs</text>
<text x="305.60" y="488.10" font-size="7.7" text-anchor="start" fill="#2a8650" font-weight="normal" >0.54 ±  0.04 (m s<tspan dy="-3.08" font-size="4.00">−1</tspan><tspan dy="3.08"> d<tspan dy="-3.08" font-size="4.00">−1</tspan><tspan dy="3.08">)</tspan></tspan></text>
<text transform="translate(268.00,505.15) rotate(-90)" font-size="7.0" text-anchor="middle" fill="#222">Speed (m s<tspan dy="-2.52" font-size="4.34">−1</tspan><tspan dy="2.52">)</tspan></text>
<text x="347.30" y="566.50" font-size="7.4" text-anchor="middle" fill="#222" font-weight="normal" >Time (h)</text>
<path d="M447.70,528.93 L451.53,528.20 L455.36,527.45 L459.19,526.67 L463.02,525.86 L466.85,525.02 L470.68,524.15 L474.51,523.25 L478.34,522.32 L482.17,521.37 L486.00,520.38 L489.83,519.37 L493.66,518.33 L497.49,517.26 L501.32,516.15 L505.15,515.03 L508.98,513.87 L512.81,512.68 L516.64,511.46 L520.47,510.22 L524.30,508.94 L528.13,507.64 L531.96,506.31 L535.79,504.95 L539.62,503.55 L543.45,502.14 L547.28,500.69 L551.11,499.21 L554.94,497.70 L558.77,496.17 L562.60,494.60 L562.60,505.34 L558.77,506.09 L554.94,506.87 L551.11,507.68 L547.28,508.51 L543.45,509.38 L539.62,510.27 L535.79,511.20 L531.96,512.15 L528.13,513.13 L524.30,514.14 L520.47,515.18 L516.64,516.25 L512.81,517.35 L508.98,518.47 L505.15,519.63 L501.32,520.81 L497.49,522.02 L493.66,523.27 L489.83,524.54 L486.00,525.84 L482.17,527.17 L478.34,528.52 L474.51,529.91 L470.68,531.33 L466.85,532.77 L463.02,534.25 L459.19,535.75 L455.36,537.28 L451.53,538.84 L447.70,540.43Z" fill="#8fc9a5" fill-opacity="0.45"/>
<path d="M447.70,466.80 L562.60,466.80 L562.60,543.50 L447.70,543.50Z" fill="none" stroke="#777" stroke-width="1.0"/>
<line x1="447.70" y1="534.68" x2="562.60" y2="499.97" stroke="#1c7a3e" stroke-width="1.1" stroke-dasharray="3.2,2"/>
<polyline points="447.70,527.78 453.44,526.43 459.19,527.78 464.94,527.01 470.68,527.78 476.43,528.16 482.17,525.67 487.92,524.71 493.66,524.13 499.41,523.56 505.15,521.07 510.89,520.11 516.64,518.96 522.38,517.04 528.13,516.46 533.88,513.40 539.62,509.18 545.37,504.77 551.11,500.55 556.86,494.80 562.60,488.47" fill="none" stroke="#1c7a3e" stroke-width="1.1" stroke-linejoin="round"/>
<circle cx="447.70" cy="527.78" r="1.5" fill="#111"/>
<circle cx="453.44" cy="526.43" r="1.5" fill="#111"/>
<circle cx="459.19" cy="527.78" r="1.5" fill="#111"/>
<circle cx="464.94" cy="527.01" r="1.5" fill="#111"/>
<circle cx="470.68" cy="527.78" r="1.5" fill="#111"/>
<circle cx="476.43" cy="528.16" r="1.5" fill="#111"/>
<circle cx="482.17" cy="525.67" r="1.5" fill="#111"/>
<circle cx="487.92" cy="524.71" r="1.5" fill="#111"/>
<circle cx="493.66" cy="524.13" r="1.5" fill="#111"/>
<circle cx="499.41" cy="523.56" r="1.5" fill="#111"/>
<circle cx="505.15" cy="521.07" r="1.5" fill="#111"/>
<circle cx="510.89" cy="520.11" r="1.5" fill="#111"/>
<circle cx="516.64" cy="518.96" r="1.5" fill="#111"/>
<circle cx="522.38" cy="517.04" r="1.5" fill="#111"/>
<circle cx="528.13" cy="516.46" r="1.5" fill="#111"/>
<circle cx="533.88" cy="513.40" r="1.5" fill="#111"/>
<circle cx="539.62" cy="509.18" r="1.5" fill="#111"/>
<circle cx="545.37" cy="504.77" r="1.5" fill="#111"/>
<circle cx="551.11" cy="500.55" r="1.5" fill="#111"/>
<circle cx="556.86" cy="494.80" r="1.5" fill="#111"/>
<circle cx="562.60" cy="488.47" r="1.5" fill="#111"/>
<line x1="445.70" y1="543.50" x2="447.70" y2="543.50" stroke="#333" stroke-width="0.75"/>
<text x="441.20" y="545.77" font-size="6.3" text-anchor="end" fill="#3a3a3a" font-weight="normal" >3.0</text>
<line x1="445.70" y1="524.33" x2="447.70" y2="524.33" stroke="#333" stroke-width="0.75"/>
<text x="441.20" y="526.59" font-size="6.3" text-anchor="end" fill="#3a3a3a" font-weight="normal" >4.0</text>
<line x1="445.70" y1="505.15" x2="447.70" y2="505.15" stroke="#333" stroke-width="0.75"/>
<text x="441.20" y="507.42" font-size="6.3" text-anchor="end" fill="#3a3a3a" font-weight="normal" >5.0</text>
<line x1="445.70" y1="485.98" x2="447.70" y2="485.98" stroke="#333" stroke-width="0.75"/>
<text x="441.20" y="488.24" font-size="6.3" text-anchor="end" fill="#3a3a3a" font-weight="normal" >6.0</text>
<line x1="445.70" y1="466.80" x2="447.70" y2="466.80" stroke="#333" stroke-width="0.75"/>
<text x="441.20" y="469.07" font-size="6.3" text-anchor="end" fill="#3a3a3a" font-weight="normal" >7.0</text>
<line x1="447.70" y1="543.50" x2="447.70" y2="545.50" stroke="#333" stroke-width="0.75"/>
<text x="447.70" y="555.10" font-size="6.3" text-anchor="middle" fill="#3a3a3a" font-weight="normal" >-60</text>
<line x1="470.68" y1="543.50" x2="470.68" y2="545.50" stroke="#333" stroke-width="0.75"/>
<text x="470.68" y="555.10" font-size="6.3" text-anchor="middle" fill="#3a3a3a" font-weight="normal" >-48</text>
<line x1="493.66" y1="543.50" x2="493.66" y2="545.50" stroke="#333" stroke-width="0.75"/>
<text x="493.66" y="555.10" font-size="6.3" text-anchor="middle" fill="#3a3a3a" font-weight="normal" >-36</text>
<line x1="516.64" y1="543.50" x2="516.64" y2="545.50" stroke="#333" stroke-width="0.75"/>
<text x="516.64" y="555.10" font-size="6.3" text-anchor="middle" fill="#3a3a3a" font-weight="normal" >-24</text>
<line x1="539.62" y1="543.50" x2="539.62" y2="545.50" stroke="#333" stroke-width="0.75"/>
<text x="539.62" y="555.10" font-size="6.3" text-anchor="middle" fill="#3a3a3a" font-weight="normal" >-12</text>
<line x1="562.60" y1="543.50" x2="562.60" y2="545.50" stroke="#333" stroke-width="0.75"/>
<text x="562.60" y="555.10" font-size="6.3" text-anchor="middle" fill="#3a3a3a" font-weight="normal" >0</text>
<text x="417.80" y="453.00" font-size="12.3" text-anchor="start" fill="#fff" font-weight="bold" stroke="#fff" stroke-width="2.2" stroke-linejoin="round">j</text>
<text x="417.80" y="453.00" font-size="12.3" text-anchor="start" fill="#000" font-weight="bold" stroke="#000" stroke-width="0.55" stroke-linejoin="round">j</text>
<text x="561.70" y="456.50" font-size="7.3" text-anchor="end" fill="#222" font-weight="normal" ><tspan font-style="italic">P</tspan> &lt; 0.001</text>
<text x="561.70" y="464.90" font-size="7.3" text-anchor="end" fill="#222" font-weight="normal" ><tspan font-style="italic">R</tspan><tspan dy="-2.77" font-size="4.53">2</tspan><tspan dy="2.77"> = 0.82</tspan></text>
<text x="477.80" y="464.40" font-size="7.2" text-anchor="start" fill="#222" font-weight="normal" >SP: 201  TCs</text>
<text x="464.00" y="488.10" font-size="7.7" text-anchor="start" fill="#2a8650" font-weight="normal" >0.71 ±  0.08 (m s<tspan dy="-3.08" font-size="4.00">−1</tspan><tspan dy="3.08"> d<tspan dy="-3.08" font-size="4.00">−1</tspan><tspan dy="3.08">)</tspan></tspan></text>
<text transform="translate(423.70,505.15) rotate(-90)" font-size="7.0" text-anchor="middle" fill="#222">Speed (m s<tspan dy="-2.52" font-size="4.34">−1</tspan><tspan dy="2.52">)</tspan></text>
<text x="505.15" y="566.50" font-size="7.4" text-anchor="middle" fill="#222" font-weight="normal" >Time (h)</text>
</svg></body></html>
